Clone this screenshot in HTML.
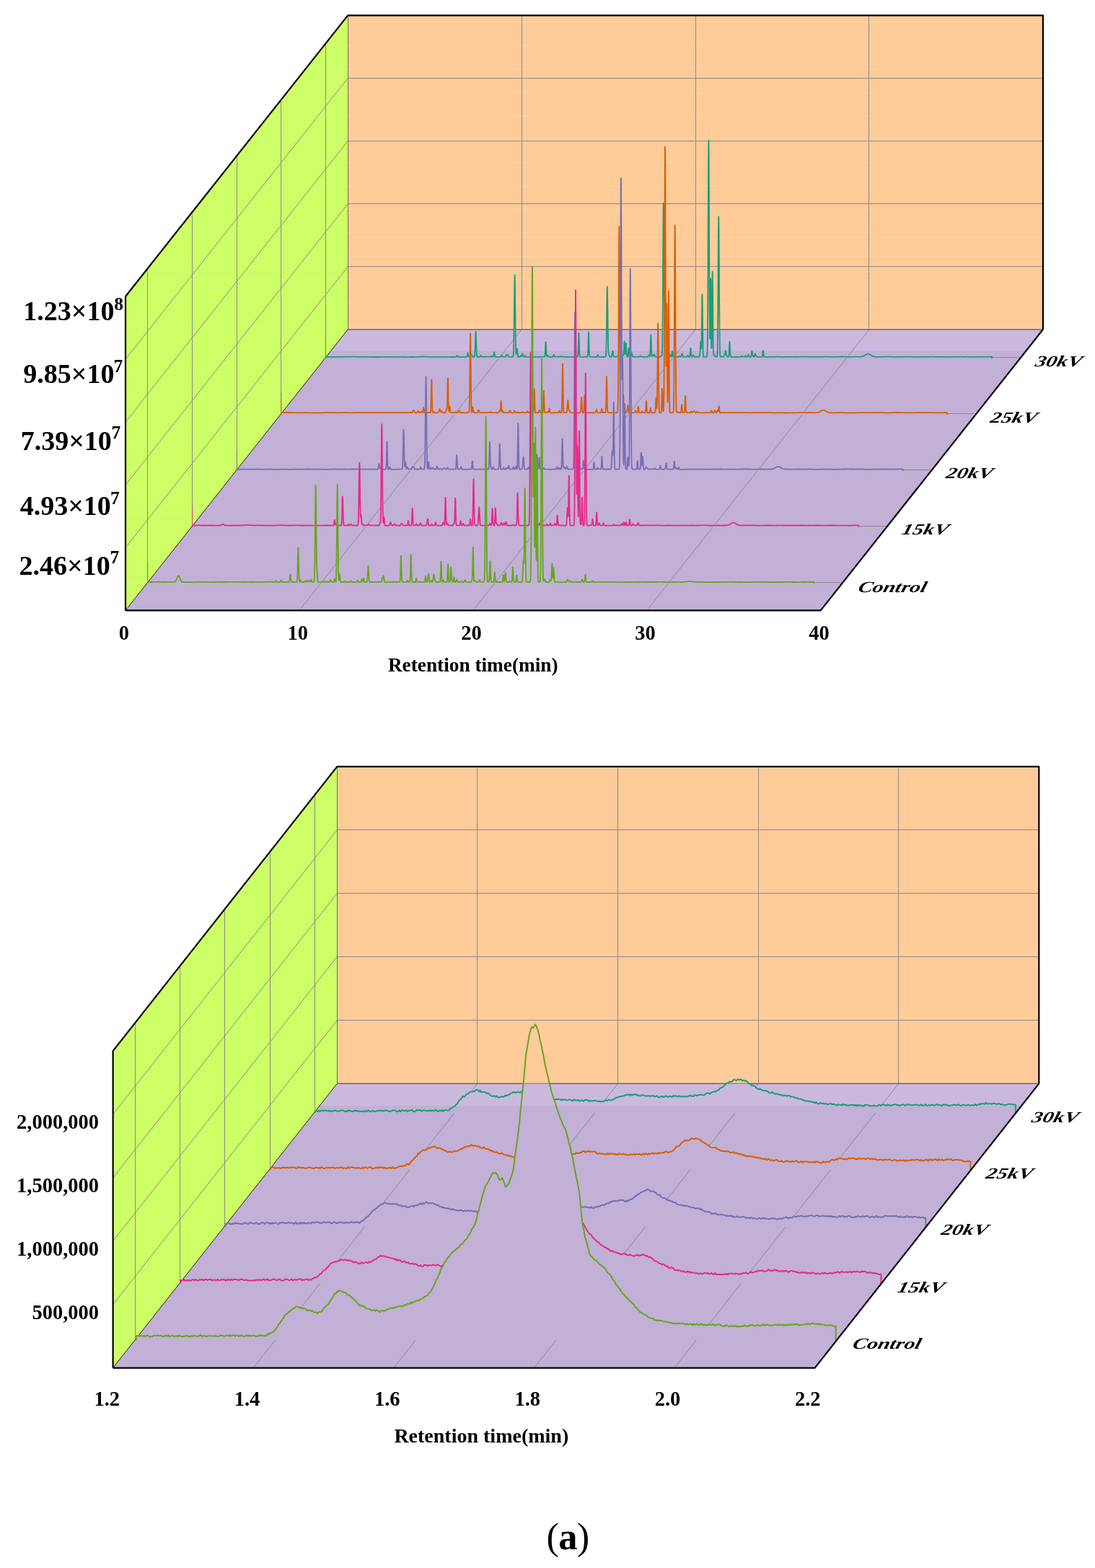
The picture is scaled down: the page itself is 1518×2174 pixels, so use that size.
<!DOCTYPE html><html><head><meta charset="utf-8"><title>Chromatogram</title><style>html,body{margin:0;padding:0;background:#fff}svg{display:block}</style></head><body>
<svg width="1518" height="2174" viewBox="0 0 1518 2174">
<rect width="1518" height="2174" fill="#fff"/>
<defs><linearGradient id="ga" gradientUnits="userSpaceOnUse" x1="0" y1="456.80" x2="0" y2="846.40"><stop offset="0" stop-color="#CBB9DD"/><stop offset="0.0783" stop-color="#CBB9DD"/><stop offset="0.0783" stop-color="#C2B0D6"/><stop offset="1" stop-color="#C2B0D6"/></linearGradient><clipPath id="gac"><rect x="0" y="456.80" width="1518" height="394.60"/></clipPath></defs>
<polygon points="482.20,456.80 1445.90,456.80 1445.90,21.40 482.20,21.40" fill="#FECB99"/>
<line x1="482.2" y1="31.1" x2="1445.9" y2="31.1" stroke="#FFD89E" stroke-width="1"/><line x1="482.2" y1="63.5" x2="1445.9" y2="63.5" stroke="#FFD89E" stroke-width="1"/><line x1="482.2" y1="95.9" x2="1445.9" y2="95.9" stroke="#FFD89E" stroke-width="1"/><line x1="482.2" y1="128.3" x2="1445.9" y2="128.3" stroke="#FFD89E" stroke-width="1"/><line x1="482.2" y1="160.7" x2="1445.9" y2="160.7" stroke="#FFD89E" stroke-width="1"/><line x1="482.2" y1="193.1" x2="1445.9" y2="193.1" stroke="#FFD89E" stroke-width="1"/><line x1="482.2" y1="225.5" x2="1445.9" y2="225.5" stroke="#FFD89E" stroke-width="1"/><line x1="482.2" y1="257.9" x2="1445.9" y2="257.9" stroke="#FFD89E" stroke-width="1"/><line x1="482.2" y1="290.3" x2="1445.9" y2="290.3" stroke="#FFD89E" stroke-width="1"/><line x1="482.2" y1="322.7" x2="1445.9" y2="322.7" stroke="#FFD89E" stroke-width="1"/><line x1="482.2" y1="355.1" x2="1445.9" y2="355.1" stroke="#FFD89E" stroke-width="1"/><line x1="482.2" y1="387.5" x2="1445.9" y2="387.5" stroke="#FFD89E" stroke-width="1"/><line x1="482.2" y1="419.9" x2="1445.9" y2="419.9" stroke="#FFD89E" stroke-width="1"/><line x1="482.2" y1="452.3" x2="1445.9" y2="452.3" stroke="#FFD89E" stroke-width="1"/>
<polygon points="174.00,846.40 482.20,456.80 482.20,21.40 174.00,411.00" fill="#CCFE66"/>
<line x1="474.5" y1="31.1" x2="482.2" y2="31.1" stroke="#D8FF80" stroke-width="1" stroke-opacity="0.6"/><line x1="448.9" y1="63.5" x2="482.2" y2="63.5" stroke="#D8FF80" stroke-width="1" stroke-opacity="0.6"/><line x1="423.3" y1="95.9" x2="482.2" y2="95.9" stroke="#D8FF80" stroke-width="1" stroke-opacity="0.6"/><line x1="397.6" y1="128.3" x2="482.2" y2="128.3" stroke="#D8FF80" stroke-width="1" stroke-opacity="0.6"/><line x1="372.0" y1="160.7" x2="482.2" y2="160.7" stroke="#D8FF80" stroke-width="1" stroke-opacity="0.6"/><line x1="346.4" y1="193.1" x2="482.2" y2="193.1" stroke="#D8FF80" stroke-width="1" stroke-opacity="0.6"/><line x1="320.7" y1="225.5" x2="482.2" y2="225.5" stroke="#D8FF80" stroke-width="1" stroke-opacity="0.6"/><line x1="295.1" y1="257.9" x2="482.2" y2="257.9" stroke="#D8FF80" stroke-width="1" stroke-opacity="0.6"/><line x1="269.5" y1="290.3" x2="482.2" y2="290.3" stroke="#D8FF80" stroke-width="1" stroke-opacity="0.6"/><line x1="243.9" y1="322.7" x2="482.2" y2="322.7" stroke="#D8FF80" stroke-width="1" stroke-opacity="0.6"/><line x1="218.2" y1="355.1" x2="482.2" y2="355.1" stroke="#D8FF80" stroke-width="1" stroke-opacity="0.6"/><line x1="192.6" y1="387.5" x2="482.2" y2="387.5" stroke="#D8FF80" stroke-width="1" stroke-opacity="0.6"/><line x1="174.0" y1="419.9" x2="482.2" y2="419.9" stroke="#D8FF80" stroke-width="1" stroke-opacity="0.6"/><line x1="174.0" y1="452.3" x2="482.2" y2="452.3" stroke="#D8FF80" stroke-width="1" stroke-opacity="0.6"/><line x1="174.0" y1="484.7" x2="460.1" y2="484.7" stroke="#D8FF80" stroke-width="1" stroke-opacity="0.6"/><line x1="174.0" y1="517.1" x2="434.5" y2="517.1" stroke="#D8FF80" stroke-width="1" stroke-opacity="0.6"/><line x1="174.0" y1="549.5" x2="408.9" y2="549.5" stroke="#D8FF80" stroke-width="1" stroke-opacity="0.6"/><line x1="174.0" y1="581.9" x2="383.2" y2="581.9" stroke="#D8FF80" stroke-width="1" stroke-opacity="0.6"/><line x1="174.0" y1="614.3" x2="357.6" y2="614.3" stroke="#D8FF80" stroke-width="1" stroke-opacity="0.6"/><line x1="174.0" y1="646.7" x2="332.0" y2="646.7" stroke="#D8FF80" stroke-width="1" stroke-opacity="0.6"/><line x1="174.0" y1="679.1" x2="306.3" y2="679.1" stroke="#D8FF80" stroke-width="1" stroke-opacity="0.6"/><line x1="174.0" y1="711.5" x2="280.7" y2="711.5" stroke="#D8FF80" stroke-width="1" stroke-opacity="0.6"/><line x1="174.0" y1="743.9" x2="255.1" y2="743.9" stroke="#D8FF80" stroke-width="1" stroke-opacity="0.6"/><line x1="174.0" y1="776.3" x2="229.5" y2="776.3" stroke="#D8FF80" stroke-width="1" stroke-opacity="0.6"/><line x1="174.0" y1="808.7" x2="203.8" y2="808.7" stroke="#D8FF80" stroke-width="1" stroke-opacity="0.6"/><line x1="174.0" y1="841.1" x2="178.2" y2="841.1" stroke="#D8FF80" stroke-width="1" stroke-opacity="0.6"/>
<polygon points="174.00,846.40 1137.70,846.40 1445.90,456.80 482.20,456.80" fill="url(#ga)"/>
<line x1="458.5" y1="486.8" x2="1422.2" y2="486.8" stroke="#C8ABE6" stroke-width="1"/>
<g><line x1="482.20" y1="369.50" x2="1445.90" y2="369.50" stroke="#8C8C8C" stroke-width="1"/><line x1="174.00" y1="759.32" x2="482.20" y2="369.72" stroke="#8C8C8C" stroke-width="1"/><line x1="482.20" y1="282.50" x2="1445.90" y2="282.50" stroke="#8C8C8C" stroke-width="1"/><line x1="174.00" y1="672.24" x2="482.20" y2="282.64" stroke="#8C8C8C" stroke-width="1"/><line x1="482.20" y1="195.50" x2="1445.90" y2="195.50" stroke="#8C8C8C" stroke-width="1"/><line x1="174.00" y1="585.16" x2="482.20" y2="195.56" stroke="#8C8C8C" stroke-width="1"/><line x1="482.20" y1="108.50" x2="1445.90" y2="108.50" stroke="#8C8C8C" stroke-width="1"/><line x1="174.00" y1="498.08" x2="482.20" y2="108.48" stroke="#8C8C8C" stroke-width="1"/><line x1="723.50" y1="456.80" x2="723.50" y2="21.40" stroke="#8C8C8C" stroke-width="1"/><line x1="414.93" y1="846.40" x2="723.12" y2="456.80" stroke="#8C8C8C" stroke-width="1"/><line x1="964.50" y1="456.80" x2="964.50" y2="21.40" stroke="#8C8C8C" stroke-width="1"/><line x1="655.85" y1="846.40" x2="964.05" y2="456.80" stroke="#8C8C8C" stroke-width="1"/><line x1="1204.50" y1="456.80" x2="1204.50" y2="21.40" stroke="#8C8C8C" stroke-width="1"/><line x1="896.78" y1="846.40" x2="1204.98" y2="456.80" stroke="#8C8C8C" stroke-width="1"/><line x1="204.50" y1="807.44" x2="204.50" y2="372.04" stroke="#8C8C8C" stroke-width="1"/><line x1="204.82" y1="807.50" x2="1168.52" y2="807.50" stroke="#8C8C8C" stroke-width="1"/><line x1="266.50" y1="729.52" x2="266.50" y2="294.12" stroke="#8C8C8C" stroke-width="1"/><line x1="266.46" y1="729.50" x2="1230.16" y2="729.50" stroke="#8C8C8C" stroke-width="1"/><line x1="328.50" y1="651.60" x2="328.50" y2="216.20" stroke="#8C8C8C" stroke-width="1"/><line x1="328.10" y1="651.50" x2="1291.80" y2="651.50" stroke="#8C8C8C" stroke-width="1"/><line x1="389.50" y1="573.68" x2="389.50" y2="138.28" stroke="#8C8C8C" stroke-width="1"/><line x1="389.74" y1="573.50" x2="1353.44" y2="573.50" stroke="#8C8C8C" stroke-width="1"/><line x1="451.50" y1="495.76" x2="451.50" y2="60.36" stroke="#8C8C8C" stroke-width="1"/><line x1="451.38" y1="495.50" x2="1415.08" y2="495.50" stroke="#8C8C8C" stroke-width="1"/></g>
<line x1="482.20" y1="456.80" x2="1445.90" y2="456.80" stroke="#6a5060" stroke-width="1.2"/>
<line x1="174.00" y1="846.40" x2="482.20" y2="456.80" stroke="#202020" stroke-width="1.0"/>
<line x1="482.50" y1="456.80" x2="482.50" y2="21.40" stroke="#707060" stroke-width="1"/>
<defs><path id="tr1" d="M451.5 497l0-2.1 1.5 0 1.5-.1 1.5 0 1.5 .1 1.5 0 1.5-.1 1.5 0 1.5 0 1.5 .1 1.5 0 1.5-.1 1.5 0 1.5 0 1.5 .1 1.5 0 1.5-.1 1.5 0 1.5-.1 1.5 0 1.5 0 1.5-.1 1.5 0 1.5 0 1.5 0 1.5 .1 1.5 0 1.5 0 1.5 0 1.5 0 1.5 .1 1.5 0 1.5 0 1.5 .1 1.5 0 1.5 0 1.5 0 1.5 0 1.5 0 1.5 0 1.5 0 1.5 0 1.5 0 1.5 .1 1.5 0 1.5 0 1.5 .1 1.5-.1 1.5 0 1.5 0 1.5 0 1.5-.1 1.5 0 1.5 0 1.5 0 1.5-.1 1.5 0 1.5 0 1.5 0 1.5 .1 1.5 .1 1.5-.1 1.5 0 1.5 0 1.5 0 1.5 0 1.5-.1 1.5-.1 1.5 .1 1.5 .1 1.5 0 1.5 0 1.5 .1 1.5 0 1.5 .1 1.5 0 1.5 .1 1.5-.1 1.5-.1 1.5 0 1.5 0 1.5 0 1.5-.1 1.5 0 1.5-.1 1.5 0 1.5 0 1.5-.1 1.5-.1 1.5-.1 1.5 0 1.5 .1 1.5 0 1.5 0 1.5 .1 1.5 .1 1.5 0 1.5 .1 1.5-.1 1.5 0 1.5 0 1.5-.1 1.5 .1 1.5 0 1.5 0 1.5 0 1.5 0 1.5 0 1.5 .1 1.5-.1 1.5 0 1.5-.1 1.5 .1 1.5 0 1.5 0 1.5 .1 1.5 .1 1.5-.1 1.5 .1 1.5 0 1-.1 .2 0 .3 0 0-.1 .2 0 .2-.1 .3 0 .2 0 .3-.2 .2-.2 .1-.1 .1-.2 .3-.4 .2-.4 .3-.2 .2 0 .2 .3 .2 .4 .1 .1 .2 .5 .3 .3 .2 .2 .2 0 .3 .1 .2-.1 0 0 .3-.1 .2 .1 .2-.1 .8 .1 1.5-.1 1.5 .1 1.5 .1 1.5 0 1.5 0 1 .1 .1-.1 .3 .1 .1 0 .1-.1 .2-.1 .2-.1 .2-.1 .2-.3 .2-.7 .2-1 .2-1.3 0 .1 .2-1.2 .2-.9 .1-.1 .1 .2 .2 .8 .2 1.3 .2 1.1 .2 1 .1 .4 .1 .2 0 .1 .2 .3 0 0 .2 .1 0 0 .2 0 .1-.1 .1-.1 .1 .1 .1 .1 .2-.1 0 0 .1 0 .1 0 0 .1 .1-.1 .1-.3 .1 0 .2-.3 0-.1 .2-.5 .1-.2 .2-.6 0-.1 .2-.6 .1-.2 .2-.3 0-.1 .2-.1 0 0 .2 .2 .1 0 .2 .2 0 0 .2 .2 .1 0 .1 .1 .1 0 .2 .1 0 .1 .1 .1 .1 .2 .1 .1 .2 .5 0 .3 .2 .5 .1 .1 .2 .4 0 .1 .2 .2 0 0 .2 .1 .1 0 .1 0 .1-.1 .3 .1 .2 .1 .2 .1 .3-.1 0 .1 .3 .1 .1 0 .1-.1 .2-.1 .3-.1 .2-.3 .2-.8 .3-2 .2-3.2 0-.6 .3-6.3 .2-7.8 .2-8.1 .3-5.1 .1-.7 .1 .7 .3 5.2 0 1.3 .2 6.8 .2 7.7 .3 6.4 .2 3.7 .2 2 .3 .8 .1 .1 .1 .2 .3 .1 .2-.1 .2 .1 .7-.1 .8 .1 .2-.1 .2 .1 .3-.1 0 .1 .2 0 .3 0 .2-.1 .3-.1 .2-.2 .2-.3 .1-.1 .2-.3 .2-.5 .2-.3 .3 .1 .2 .3 .3 .4 .1 .2 .1 .2 .3 .3 .2 .2 .2 0 .3 0 .2 0 .2 0 0 0 .3 0 .2 .1 1 .1 1.5-.1 1.5 0 1.5 0 1.5 0 1.5 0 .7 0 .2 0 .2 0 .3 .1 .1 0 .1 0 .3 .1 .2 0 .3-.1 .2-.1 .2-.3 .2-.1 .1-.2 .2-.3 .2-.3 .3 .1 .2 .2 .3 .3 .2 .3 0 0 0-.1 .3 .2 .2 0 0 .1 .2 .1 0 0 .2 0 .1 0 .1 0 .1-.1 .1 0 .2-.3 0-.1 0 0 .2-.7 0 0 .2-1.2 0-.2 .2-1.3 .2-1.6 .2-.9 .1-.2 .1 .2 .2 1 .1 .6 .1 .9 .2 1.5 .2 1.1 .2 .7 .2 .3 .2 .2 .2 0 .2 .1 0 .1 .2 0 .3-.1 1 .1 1.5 0 1.5 .1 1.1-.1 .2-.1 .2 .1 .1 0 .2-.1 .2 0 .3 0 .2-.1 .3 0 .2-.3 0 0 .3-.4 .2-.5 .2-.5 .3-.2 .2 0 .3 .4 0 0 .2 .4 .2 .5 .3 .4 .2 .2 .2 .1 .3 0 .1 .1 .1 .1 .3-.1 .2 0 .3 0 .6 0 .4-.1 .2 0 .3 0 .2 0 .3 .1 .1-.1 .1 0 .2 0 .2-.1 .1-.1 .1-.1 .1-.2 .2-.3 .1-.3 .1-.5 .1-.2 .1-.4 .1-.2 0-.2 .2-.2 .1-.1 .1-.1 .1 0 .1 .1 .2 0 .1 .3 .1 .1 .1 0 .1 .1 .2 0 .1-.1 0 0 .1-.1 .1-.1 .2-.1 .1 .1 .1 0 .1 .2 .1 .3 .1 .2 .2 .3 .1 .3 .1 .3 .1 .3 .1 .2 0 .1 .2 .2 .1 .1 .2 .2 .3 .2 .2 0 .2-.1 .3 0 0 .1 .2 0 1.3-.1 1.5 0 .7 0 .3 .1 .2 0 .3-.1 0 0 .3-.2 .2-.5 .1-.4 .1-1.2 .1-1.4 .2-2.3 .1-3.7 .1-3.8 .2-9.1 0-3.8 .1-4.2 .1-12 .1-2.6 .2-23.3 .3-23.2 0-2.6 .1-5.5 .1-8.7 .1-2.6 0-1.2 .1-1.4 0 .2 .1 2 .2 6.6 .1 7 0 1.6 0 .9 .1 9.7 .1 9.5 0 3 .1 3 .1 8 .1 8.7 0 1 0 8.2 .1 4.3 .1 4.8 0 3 .1 8 0 1.1 .1 1.1 0 4.1 .2 5.3 0 .4 0 .7 .1 2.3 .1 2.1 0 .9 .1 .7 0 .6 .1 .4 0 .1 .1 .3 0 .1 .1 0 0 0 .1-.5 .1-.4 0-.2 0-.1 .1-1.1 .1-.5 0-.4 .1-.3 .1-1.1 0-.1 .1-.9 .1-.7 0-.2 0-.3 .1-.6 .1-.2 0 .1 .1 0 0 .1 .1 .4 0 .3 .1 .8 .1 1.1 0 .2 .1 1.6 .1 .7 0 .4 .2 2.1 .1 .6 .1 1.3 .1 .6 .1 .4 .2 .5 0 0 .1 .1 .1 .1 0 0 .1 0 .1 .1 0 0 0 .1 .2 0 0 0 .1 .1 .1-.1 0 0 .1 0 .1 0 .1 .1 .2-.1 .2-.1 .3 0 .1-.1 .1 0 .3-.3 .1-.2 .1-.1 .2-.1 0 0 .2-.1 .1-.1 .1 0 .1 0 0 0 .2 .1 0 0 0 0 .1 0 .1 .3 .1 0 0 .1 .2 .2 0-.1 0 0 .2 .1 0 0 .1 0 .1-.1 .1 0 0 0 .2-.3 0 0 .1-.2 .1-.4 .1-.1 0-.1 .2-.6 0-.1 0-.2 .2-.6 0 0 .1-.2 .1-.5 .1 0 0-.1 .2-.2 0-.1 .1 0 .1-.1 0 0 .3 .3 0 0 .1 .4 .1 .4 0 0 .2 .9 .1 .2 0 .2 .2 .5 0 0 .1 .2 .1 .4 .1 0 0 0 .2 .3 0 0 0 .2 .2 .1 0 0 .1 0 .1 .1 0 0 .1 .1 0 0 .2 0 0-.1 .1 .1 .1-.1 .1-.1 .2-.1 0 0 .2-.3 .1 .1 .2-.4 .2-.3 .1-.1 .2-.3 .2 0 .3 .3 .2 .3 .3 .3 .2 .3 .2 .3 .3 .1 .2 0 .3 .1 .2 0 .2 0 .1 0 .2-.1 1.3 0 1.5 0 1.5-.1 1.5 0 1.5 .1 1.5 0 1.5 0 1.5 .1 1.5-.1 1.5 0 1.5 0 1.5-.1 1.5 .1 1.5-.1 1.5 0 1 0 .2 0 .3 0 0 0 .2 0 .2-.1 .2-.1 .2-.4 .2-1.2 .2-2.1 .2-3.9 .1-2.5 0-.9 .1-1.2 .2-4.4 0-.2 .2-3.1 0-.1 .1-.3 .1 .4 .1 .6 .1 2.5 .1 2 .1 2.7 .1 3 .1 1.6 .2 3.1 0 .3 0 .3 .2 2 .2 .9 .1 .2 .1 .1 .1-.1 .1-.2 .1-.2 .1-.2 .2-.3 0-.1 .2-.3 .1 0 0 0 .2 .1 .2 .3 .2 .6 .3 .5 .2 .4 .3 .3 .1 0 .1 0 .2 .1 .3 0 .2 0 .3 0 .2 0 .2 0 1.5 .1 1.1 0 .3 0 .1-.1 .1 .1 .3 0 .2 0 .2 0 .3-.1 .2-.2 .2-.2 .1-.1 .2-.5 .2-.6 .3-.7 .2-.4 .3 0 .2 .3 .2 .7 .3 .6 .2 .5 .3 .3 .2 .1 .2 .1 .1 .1 .2 0 .2-.1 .3 0 .2 0 .6 0 1.5 0 1.5 0 1.4 0 .1 0 .1 0 .2 0 .3 0 .2 0 .2 0 .3 .1 .2-.1 0 .1 .3-.1 .2-.2 .3-.2 .2-.2 .2-.1 .3 0 0 0 .2 0 .3 .2 .2 .3 .2 .1 .3 .1 .2 .1 .1 0 .1 0 .3 0 .2 0 .3 0 .2 0 .4-.1 1.5 .1 1.5 .1 1.5-.1 1.5 0 1.5 .1 1.5-.1 1.5 0 1.5 0 1.5 0 1.5 0 1.5-.1 1.5-.1 .4 .1 .1 0 .3-.1 .2 0 .2-.1 .2-.3 .1-.3 .1-.4 .2-1.8 .2-3.6 .2-6 .2-7.6 .2-7.4 .2-5 .1-.6 .1 .7 .2 5 .2 7.5 .2 7.5 .2 6.1 .2 3.5 .2 1.9 .2 .7 .1 .2 .1 .1 .2 .2 .2-.1 .3 .1 .7 0 1.5-.1 1.5 0 1.5-.1 1.5 0 1.5 .1 .5-.1 .1 .1 .3 0 .2-.1 .2-.1 .2-.2 0 0 .2-.8 .2-1.9 .2-3.7 .2-6.2 .2-7.7 .2-7.8 .2-5.1 .1-.7 .1 .7 .2 5.1 .2 7.8 .2 7.7 .2 6.3 .2 3.7 .2 1.9 .2 .6 0 .1 .2 .3 .2 .1 .2 0 .3 .1 .6 0 1.5 0 1.5-.1 1.5 0 1.5 .1 .7 0 .2 0 .3 0 .2 0 .1 0 .2 .1 .2 0 .2-.1 .3-.2 .2-.3 .3-.5 .1-.4 .1-.4 .2-.5 .3-.5 .2 0 .3 .4 .2 .6 .2 .6 0 .1 .3 .4 .2 .4 .3 .2 .2 0 .2 .1 .3 0 0 0 .2 0 .3 0 1 0 1.5 .1 1.5-.1 1.5-.1 1.4 .1 .1 0 .2-.1 .2 0 .3-.1 .3-.2 .3-.8 .2-1.9 0-.3 .3-5.3 .3-10.9 .3-17.3 .2-22.3 .2-12.9 .1-9.4 .1-7.1 0-.6 .2-6.3 .1-1.8 0-.3 .1 2.1 .1 1.8 .2 12.5 0 1.4 .3 19.8 0 .9 .2 19.3 .1 3 .2 13.2 0 2.8 0 1.1 .2 7.2 .1 3.2 .1 2.7 .2 1.9 .1 .7 .1 .7 .1 0 .2 0 0 .1 .3 .2 0 0 .1 .2 .1 .3 .1 .1 .2 .6 0 .2 .2 .5 .3 .5 .2 .3 .2 .1 .2 .2 .1 0 .2 0 0 .1 .2 0 0 0 .3 0 0-.1 .2-.1 .1 0 .3-.1 .1-.1 .1-.2 .3-.4 .3-1 .3-1.3 .2-1.9 .3-1.9 0-.1 .3-1 .1-.2 .1 .2 .3 1.2 .3 1.8 .3 1.9 .1 .9 .1 .4 .3 1 .3 .5 .2 .2 .3 .1 .3-.1 0 0 .3 0 .2 0 1 .1 1-.1 .2-.1 .3 0 0 .1 .2 0 .2 0 .3-.1 .2 0 .2-.1 .3-.2 .1-.2 .1-.3 .3-.4 .2-.5 .3-.2 .2 0 .2 .3 .2 .4 .1 .1 .2 .5 .2 .4 .3 .2 .2 .1 .3 0 .2 .1 0 0 .1 0 .2-.1 .1 .1 .1 0 .1 0 .1 0 .1 0 .3 0 .2 0 .1-.1 .1 0 .1 0 0-.1 .2-.1 .1-.2 .1-.1 .1-.1 .2-.4 .1-.1 .1-.4 .1-.3 .2-.4 0-.1 .2-.3 .1-.1 .1-.1 .1 0 .2 .1 0 0 .1 0 .1 .2 0 0 .1 .1 .2 .2 0 0 .2 .1 0 0 .1-.1 .1 .1 0 0 .1-.1 0 0 .1 .1 .1 0 .1-.1 0 0 .1-.5 .1-.3 0-.2 .2-1.4 0-.3 0-.9 .2-2.8 0-.2 .1-1.8 .1-2.6 0-1.3 .1-1.9 0-.8 .1-.8 .1-1.7 .1-.9 0-.1 0-.4 .1-.4 .1 .2 0 .3 .2 2.2 0 1 0 .7 .2 3.1 0 1.1 .1 1.7 .1 2 0 .9 .1 2 .1 .7 0 .6 .2 1.1 0 .1 0 .1 .2-.8 0-.4 .1-.9 .1-1.4 0-.7 .2-3.4 0-.9 .2-3.1 0-1 .2-1.9 0-.2 .1-.2 .1 .3 .1 .5 .1 2.3 .2 4.3 0 .6 .2 3.4 0 .2 .1 1.3 .1 2.2 .1 1.2 .1 .8 .1 .7 .1 .1 0 .2 .1 .3 .1 0 0-.1 .2 .2 0 0 0 .1 .2 .1 0 0 .1 0 .1 0 0-.2 .1-.1 0 0 .1-.1 0-.2 .2-.2 0 0 .2-1 0-.2 .2-1.4 0-.6 .2-1.7 .1-1.2 .1-1.4 .1-1.6 .1-.7 .2-1.3 0-.1 .1-.1 .1 .3 .2 2.1 0 .4 .2 2.3 .1 1 0 .8 .1 .8 .1 1.2 .1 .5 0 .4 .2 .8 0 .3 .2 .5 0 .1 0 0 .1 0 0 .1 .1 .2 0 0 0 .1 .1 0 .1 .1 .1 .1 0 0 0 0 .1-.1 .1 0 0-.1 .1 .1 0-.1 .1-.1 .1-.1 0 .1 .1 0 .1-.2 0-.1 .1-.1 .1-.4 .1-.2 .1-.5 .1-.3 0-.4 .2-.8 .1-.5 .1-.8 .1-.3 .2-.4 .1-.3 .1-.1 .1 .1 .2 .2 0 .3 .2 .5 .1 .4 .1 .9 .1 .3 .2 .8 .1 .4 .1 .6 .1 .3 .2 .4 0 .1 .2 .2 .1 .1 .1 0 .1 0 0 0 .2 .1 .1-.1 .1 0 .1 .1 .2 0 .2-.1 .2 0 .4 0 1.5 .1 1.5 0 1.5 0 1.4 .1 .1 0 .1-.1 .3 0 .2 0 .2-.1 .3 0 .2 0 .2 0 .1 0 .2-.1 .2-.3 .3-.3 .2-.3 .3-.2 .2 0 .2 .1 .3 .4 .2 .3 .3 .3 .2 .1 .2 .1 .1 .1 .2 0 .2-.1 .3 0 .2 0 .2 0 .4 0 1.5 0 1.5 0 1.5 .1 1 0 .2 0 .3-.1 0 .1 .2 0 .3-.1 .2 0 .2 0 .3-.1 .2-.3 .1-.2 .2-.4 .2-.6 .2-.6 .3-.4 .2 0 .2 .1 .1 .2 .1 .2 0 .1 .1 .3 .1 .1 .1 .4 .1 0 .2 .4 0 0 .2 0 0 0 .2-.4 .1-.5 .1-1 .1-1.6 .1-1.4 .1-2.9 0-1.1 .1-1.5 .2-6.6 0-.4 0-1.1 .2-5.7 0-.9 .1-1.1 .1-2.5 .1-.5 0-.1 .1 .6 .1 2.6 .1 1.9 .2 5.7 0 1 .2 6.6 0 .3 0 .4 .2 5.1 .1 .8 .1 2.4 .1 .7 .1 .8 .1 .3 .1 .1 .2-.2 0-.1 .1-.1 .1-.3 0 0 .1-.3 .1-.3 .1 0 0-.1 .1 0 0-.1 .1-.2 .1 0 .1 .1 .1 .1 .2 .2 .1 .1 .1 .3 .1 .2 .2 .3 .1 0 .1 .1 .1-.1 .1-.1 .1-.2 .2-.4 .1-.4 .1-.3 .1-.3 .2-.3 .1-.2 .1 0 .1 .1 .1 .3 .1 .2 .1 .1 .1 .3 .1 .3 .2 .8 .3 .5 .2 .4 .2 .2 .3 .1 .1 .1 .1 0 .3 0 .2 .1 .2-.1 .7 .1 1.5 0 1.5 0 .4 0 .2-.1 .2 0 .3 0 .2-.1 .2 .1 .1 0 .1-.1 .1 0 .1 0 .1 0 .1 0 .2-.2 .1 0 .1-.2 .1-.1 .2-.1 .1-.2 0 0 .1-.1 .1-.1 .1 0 0-.1 .1-.1 .1-.1 .1 .1 .1-.1 .1-.1 .1-.1 .2-.4 0-.1 .1-.3 .1-.9 .1-.7 0-.5 .1-2.3 .1-1.3 0-.9 0-.2 .2-5 .1-5 0-1.1 .1-8.2 .1-9 .1-6.2 .1-9.6 .1-13.8 0-2.9 .1-11.1 0-8.4 .1-17.7 0-3.7 .1-18.7 0-3.7 .1-18.7 .1-3.6 .1-20.5 0-1.5 .1-13.1 0-2.6 .1-12.5 .1-2.8 0-3 0-.7 .1-.8 .1 4.4 .1 1.4 0 1.5 .2 26.5 0 1.6 0 1.6 .2 39.1 .1 3.8 0 3.8 .2 36.8 0 3.5 .1 8.4 .1 25 0 2.7 .1 7.2 0 2.3 .2 15.1 .1 8.2 .1 6 .2 5.1 .1 2 .1 2.7 .1 .7 .2 1.3 0 .1 .3 .8 .1 .3 .1 .2 .1 0 .1 .1 .1 .3 0 .1 .1 .1 .1 .1 .1 0 .1 .1 .1 0 .2 .1 0 0 .2-.1 0-.1 .2-.2 0 0 .1-.2 .1-.6 .1-1 .1-.8 .1-2 .1-.7 .2-3.5 .2-3.4 .2-2.4 .1-.3 .1 .3 .1 .8 .1 1.5 .2 3.5 .1 2.2 .1 1.4 .2 2.3 0 .6 .2 1.5 0 0 .2 .8 0 0 .2 .2 .1 .1 .1 0 0 0 .1 0 .1 .1 .2 0 0 0 .2-.1 0-.1 .3-.3 .2-.6 .2-.7 .2-.6 .1-.2 .2-.5 .2 .1 .3 .5 .2 .5 0 .3 .1 .3 .2 .3 .1 .2 .1 .3 0 0 .1 .1 .1 .2 .1 .1 .2 .2 0 .1 .2-.1 0-.1 .2-.3 .1-.4 .1-.6 .1-.8 .1-.6 .2-1.5 0-.5 0 0 .2-1.6 .2-1.2 .1-.1 .1 0 .2 1.3 .2 1.8 .2 1.8 .2 1.4 .1 .4 .1 .4 .2 .6 .2 .1 .2 0 .2 0 .2 .1 .3 0 .1 0 1.5-.1 1.5 0 1.5 0 .2 0 .3 0 .2-.1 .2 .1 .3-.1 .2 .1 .1 0 .2 0 .2-.1 .2-.2 .3-.2 .2-.3 .3-.3 .1 0 .1-.1 .2 0 0 0 .2 .1 .1 .2 .2 .2 0 0 .2 .2 0 0 .1 .1 .1 .1 .1 0 0 0 .2 0 0-.1 0 0 0 0 .2 .1 .1 .1 0-.1 .2-.1 0 .1 0 .1 .2-.3 0 .1 .1-.2 .1-.3 .1 0 0-.1 .2-.6 0 0 0-.2 .2-.6 .1-.2 0-.2 0 0 .1-.6 .1-.2 .2-.6 0 0 .2-.3 .1 0 .2 .1 0 .1 .2 .5 0 .2 .3 .7 0 .3 .1 .4 .1 .4 0 .1 .2 .8 .1 .1 .2 .3 0 0 .2 .2 .1 .1 .1 0 .1 0 .2 0 0 .1 .2 0 0 0 .1 0 .2 .1 .2-.1 .3 0 .7 0 1.1 .1 .2 0 .2 0 0 0 .3 0 .2 0 .3-.1 .2 0 .2-.1 .3-.2 0 0 .2-.3 .3-.5 .2-.5 .2-.3 .3 .1 .2 .3 .1 .1 .2 .3 .2 .5 .2 .4 .3 .2 0 0 .1 .1 .1 .1 .2 0 .1 0 .1 0 0 0 .1 0 .1 0 .1-.1 .1-.1 .2-.2 0-.1 .2-.6 0-.3 .2-1.2 .2-2.2 .2-2.8 .1-1.6 .1-1.1 .2-1.9 .1-.2 .1 .2 .2 1.9 .2 2.8 .1 .6 .1 2.2 .1 1 .1 1.2 .1 .8 .1 .4 0 .1 .2 .5 0 0 .2 .3 0 0 .2 .1 0 0 .2 0 .1 .1 .1 0 .1-.1 .2-.1 .1-.1 .1-.2 .1-.3 .3-.5 .2-.6 .2-.3 .3 0 .2 .2 .2 .4 0 .1 .3 .5 .2 .5 .3 .3 .2 .1 .3 .1 .2 .1 0 0 .2-.1 .3 0 .2 0 .8 .1 1.5 0 1.5-.1 .1 0 .3 .1 .2 0 .3 0 .2-.1 .2 0 0 0 .2 0 0 0 .1 0 .1-.1 .1-.1 .1 0 .1-.2 .1 0 0 0 .1-.4 .1-.2 0-.1 .2-.8 0 .1 0-.5 .2-1.3 0-.2 .1-.9 .1-1.3 0-.8 .1-1.1 0-.3 .1-1.3 .1-1.9 .1-1.6 0-.8 .1-2.7 .1-.6 0-.7 0-.1 .1-2.2 .1 0 0-.3 0-.3 .1-.1 .1 0 0 .1 .1 .7 .1 .9 0 .8 0 .4 .1 1.3 .1 .9 0 .8 .1 1.1 .1 1.3 0 .1 0 .4 0 .2 .1 .9 .1 0 0 0 0-.1 .2-1.6 0-.5 0-1 0-.6 .2-6 0-1.1 0-1.9 .1-3.3 .1-8.6 0-3.5 0-.9 .1-7.5 .1-6.8 0-4 .1-4.8 .1-7.4 0-2.5 0-4 .1-5 .1-3.4 0-.9 .1-.4 .1 .7 0 1.2 0 1.5 0 .4 .2 10.2 0 .8 .1 6.4 .1 13.1 0 3.1 .1 8.1 .1 8.5 .1 5.9 .1 6 0 3.9 .1 5.2 .1 3.2 0 .7 .2 3.7 0 1.3 .2 1.8 0 .2 .2 .7 0 .1 .2 .1 .2 .1 .3 0 .6 0 1.5 0 1 0 .3-.1 .2 0 0 0 .3-.2 .3-.8 .3-2.3 .1-3 .1-3.8 .2-5.6 .1-10.6 .1-8.7 0-1 .2-24 0-8.3 .3-44.7 0-4.7 .2-61.5 0-2.7 .3-59.1 0-9.1 .2-36 .1-7.8 .1-6.4 0 .2 .1 2.9 0 3 .1 13.1 .1 3.1 .1 26.9 .1 9 0 14.5 .2 38.7 0 5.3 0 18.6 .2 28.2 .1 21.6 0 8.9 .1 16.7 .1 26.4 0 1.5 .1 5.7 .2 21.3 0 2.2 .1 5.1 .1 1.9 0 .3 .1-.2 .1-3.4 .1-3.9 0-7.1 .1-4.6 .1-10.7 .1-12 0-2.5 .1-14.4 .1-6.6 .1-8.4 .1-6.1 0-1.4 0-1.5 .1-.5 .1 .7 0 1.3 0 .4 .1 2.1 .1 12.7 0 1 0 2.2 0 2.2 .1 1.2 .1 18.7 .1 6.5 0 3.9 .1 14.2 .1 6.3 0 5.8 .1 7 .1 3.1 .1 4.8 0 1.5 .1 1 .1-.4 .1-1.3 .1-7.2 .1-3.4 0-3.3 .1-10.9 .1-6.8 0-1.2 .1-7.6 0-10.8 .1-7 .1-15.2 0-5.2 .1-6.2 .1-14.3 0-.7 .1-2.8 .1-2.2 .1 1.4 0 .8 .2 17.6 0 1.2 .2 25.3 .1 6.9 .1 19.6 0 2.4 .1 8 .1 11.1 .1 3.6 0 4.5 .1 4 .1 3.2 .1 1.8 0 .9 .1 1.5 .1 .6 0 .1 .2 .5 0 0 .1 0 .1 .1 0 0 .1 0 .1 .3 .1 0 0 .2 .1 .2 0 .1 .1 .2 .1 .3 .2 .3 0 .2 .2 .2 .1 0 .1 .1 .1 .1 .2-.2 0 0 .2-.1 .1 .1 .1 .1 0 0 .1 0 .2 .2 .1 .2 .1 .1 .1 .1 .2 .1 0 .1 .2 .1 .3 .1 .1 .1 .1 0 0 .1 .2 0 0 0 .2 0 .1 0 .2-.1 0-.1 .3-.4 0-.1 .2-.9 .1-.6 .2-3.7 0-.8 .3-10.4 .3-21.8 .3-34.4 .2-44.8 .3-44.1 .1-14.3 .2-13.9 .1-4.1 .1 4 .3 28.3 .3 44.2 .2 44.6 .3 32.3 0 2.1 .3 21.8 .3 10.5 .2 4.4 .3 1.6 .3 .4 .1 .1 .2 0 .2 0 1.1 .1 .8 0 .3 .1 .2 .1 .2 0 .1 0 .2 .1 .2-.1 .3-.1 .2-.2 .3-.4 .2-.5 0-.1 .1-.6 .1-.2 .2-.4 .1-.4 .1-.2 .1-.3 .1 .1 0-.1 .2 0 0 0 .1 0 .1 .1 0 .1 .1 0 .1 0 0 .1 .1-.1 .1-.1 0-.1 .1-.4 .1-.5 0-.1 .1-.9 .1-.7 0-.3 .2-1.1 0-.1 .1-.7 .1-.6 .1-.2 0 0 .1 0 0 .2 .2 .6 0 .2 .1 .6 .1 1.1 0 .2 .1 1 .1 .7 0 .3 .2 .8 0 .3 .1 .3 .1 .4 0 0 .1 .2 .1 .1 .2 .1 0 .1 .2 .2 0 .1 .2 .4 .1 .1 .1 .3 .1 .1 .2 .3 0 .1 .3 .2 .2 0 .1 0 .1 0 0 0 .3 0 0 0 .1 0 .1 0 0-.1 .2-.1 .1-.1 .1-.2 .1-.2 .1-.3 .2-1.2 .2-2.2 .2-3.8 .2-4.7 0-.2 .2-4.5 .2-3.1 .1-.5 .1 .5 .2 3.1 .2 4.6 .2 4.8 .2 3.9 .1 1.1 .1 1.2 .2 1.2 .2 .5 .2 .2 .2 .1 .2 0 .3-.1 .1 0 1.5 0 1.5 .1 1.5 0 1.5 0 1.5 0 1.5 0 1.5 0 1-.1 .3 0 .2 0 0 0 .2 0 .3 .1 .2 0 .3 .1 .2-.2 .3-.2 0 0 .2-.1 .2-.4 .3-.3 .2-.2 .3 .1 .2 .1 .1 0 .1 .1 .3 .3 .2 .3 .2 .1 .3 0 .2 0 .2 0 .1 .1 0 0 .2 .1 0 0 .2 0 0 .1 .3 0 0 0 .2 0 .3-.1 .2 0 .2 0 .3-.3 .2-.2 .3-.3 .2-.4 .2-.2 .1-.1 .2-.1 .2 .3 .3 .3 .2 .3 .2 .2 .3 .3 .1 .1 0 0 .1 .1 .1-.1 .2 .1 .1 0 .1 0 .1 0 .1 0 .1-.1 .2 0 0 .1 .2 0 0-.2 .2-.1 0 0 .2-.2 .2-.6 .2-.8 .2-.8 .2-.4 .1 0 .1 0 .2 .4 .1 .3 .1 .4 .2 .7 .2 .5 .2 .4 .2 .2 .2 .1 .2 0 .2 .1 0 0 .2 0 .1 0 .2 0 0 0 .3-.1 .2 0 0 .1 .2-.1 .1 .1 .1-.1 .1-.1 .1 0 .1-.3 .1-.1 .2-.9 .2-1.5 0-.2 .2-1.5 .1-.7 .1-1.3 .1-.8 .1-.5 .1-.2 0-.1 .1 .1 .2 .6 0 .2 .2 1.4 0 .2 .2 1.3 .1 .4 .1 .8 .1 .4 .1 .4 .1 .3 .1 .2 .2 .3 0 .2 .1 .2 .1 .2 0-.1 .1 .3 .1 .2 .1 .1 .1 .1 0 0 .1 .1 .1 .1 .1 0 0 .1 .1-.1 .2 .1 0 .1 .1 0 .1 0 0 0 .2-.1 0 0 0-.1 .1 0 .1-.2 0 0 .1-.3 .1-.1 0-.2 .1-.5 .1-.2 .1-.4 .1-.5 0-.1 .1-.6 .1-.4 .2-.6 0-.1 .1 0 .1 0 0 0 .1 .1 .1 .4 0 .2 .2 .6 .1 .2 .1 .6 .1 .3 .1 .2 .1 .1 .1-.1 .2 .1 0-.1 .2 .1 .2 .1 0 0 .1 .1 .1 .3 .1 .1 .1 .3 .1 .1 .2 .1 .1 .3 .2 .3 .3 .1 .2 0 0 .1 .2 0 .3 0 .2 0 .3-.1 .5 0 1.5 0 1.5 0 .8 0 .2 .1 .3 0 .2-.1 0 0 .2-.1 .2-.1 .2-.2 .2-.5 .2-.9 .2-1.7 .2-2 .1-1.1 .1-.8 .2-1.3 .1-.2 .1 .2 .2 1.3 .2 2.1 .2 2 .2 1.5 .2 .9 0 .1 .2 .4 .2 .3 .2 0 .2 .1 .2 0 .2 0 .3 0 1.5 .1 1.5-.1 1.5 .1 1.5 0 1.5 0 1.5 0 1.5-.1 1.5 0 1.5 0 1.5-.1 1.5 0 1.5 0 1.5 .1 1.5 0 1.5 0 1.5 .1 1.5 0 1.5-.1 1.5 .1 1.5 0 1.5 .1 1.5-.1 1.5 0 1.5 0 1.5 0 1.5-.1 1.5 0 1.5-.1 1.5 .1 1.5-.1 1.5 .1 1.5-.1 1.5 0 1.5 0 1.5 0 1.5 0 1.5 0 1.5-.1 1.5 .1 1.5 .1 1.5 0 1.5 0 1.5 0 1.5 0 1.5 0 1.5 0 1.5 0 1.5 0 1.5 0 1.5 0 1.5 0 1.5 0 1.5 0 1.5-.1 1.5-.1 1.5 0 1.5 .1 1.5 0 1.5 0 1.5 0 1.5 .1 1.5 0 1.5 .1 1.5 0 1.5-.1 1.5 0 1.5 0 1.5-.1 1.5-.1 1.5-.1 1.5 0 1.5 0 1.5 .1 1.5 .1 1.5 0 1.5 .1 1.5 0 1.5 0 1.5 0 1.5-.1 1.5 0 1.3 .1 .2-.1 1.4 0 .1 0 1.5 0 1.5 0 .1 0 1.4 0 .2 0 1.3-.1 .3 .1 1.2-.1 .4 0 1.1-.1 .5-.1 1-.3 .6 0 .9-.3 .7-.4 .8-.4 .8-.5 .7-.5 .9-.5 .6-.3 1-.4 .5-.1 .3-.1 .8 .1 .4 .2 1.2 .5 .3 .1 1.3 .8 .2 .3 1.4 .8 .1 0 1.5 .7 1.5 .5 .1-.1 1.4 .2 .2 0 1.3 .1 .3 0 1.2 .1 .4-.1 1.1 .1 .5 0 1 0 .6 0 .9 0 .7-.1 .8-.1 1.5 0 1.5-.1 1.5 0 1.5 .1 1.5 0 1.5 0 1.5 0 1.5 0 1.5 .1 1.5 0 1.5 0 1.5 0 1.5 0 1.5 0 1.5 0 1.5 .1 1.5 0 1.5-.1 1.5 0 1.5 0 1.5 0 1.5-.1 1.5 0 1.5-.1 1.5 0 1.5 .1 1.5 0 1.5 0 1.5 .1 1.5-.1 1.5 .1 1.5 0 1.5 0 1.5 0 1.5 0 1.5 0 1.5 .1 1.5-.1 1.5 .1 1.5 0 1.5 0 1.5 0 1.5 0 1.5-.1 1.5 0 1.5-.1 1.5 0 1.5 0 1.5 .1 1.5 0 1.5 0 1.5 0 1.5 0 1.5 0 1.5 0 1.5 0 1.5-.1 1.5 .1 1.5 0 1.5 0 1.5 0 1.5 0 1.5-.1 1.5 .1 1.5 0 1.5 0 1.5 0 1.5-.1 1.5 0 1.5 .1 1.5 0 1.5-.1 1.5 0 1.5 .1 1.5 0 1.5 0 1.5 0 1.5-.1 1.5 0 1.5 .1 1.5 0 1.5 0 1.5 0 1.5-.1 1.5 .1 1.5 0 1.5 0 1.5 0 1.5 0 1.5 .1 1.5 0 1.5 0 1.5 0 1.5 0 1.5 0 1.5 0 1.5-.1 1.5 0 1.5 0 1.5-.1 1.5 0 1 0 0 2.3"/></defs>
<use href="#tr1" fill="url(#ga)" clip-path="url(#gac)"/>
<line x1="451.5" y1="466.9" x2="451.5" y2="495.8" stroke="#1b9e77" stroke-width="1.0" stroke-opacity="0.75"/>
<use href="#tr1" fill="none" stroke="#1b9e77" stroke-width="1.8" stroke-linejoin="round"/>
<defs><path id="tr2" d="M390 574.9l0-2.6 1.5-.1 1.5-.1 1.5 0 1.5 0 1.5-.1 1.5 0 1.5 0 1.5 0 1.5 .1 1.5 .1 1.5 0 1.5 0 1.5 0 1.5 0 1.5 .1 1.5 0 1.5-.1 1.5 0 1.5 .1 1.5 0 1.5 0 1.5-.1 1.5 0 1.5 .1 1.5 .1 1.5-.1 1.5 0 1.5 0 1.5 .1 1.5 .1 1.5-.1 1.5 0 1.5 .1 1.5-.1 1.5 0 1.5 0 1.5-.1 1.5 0 1.5-.1 1.5-.1 1.5 .1 1.5 0 1.5 0 1.5 0 1.5-.1 1.5 .1 1.5 0 1.5 0 1.5 0 1.5 0 1.5 0 1.5 .1 1.5 0 1.5 0 1.5-.1 1.5 0 1.5-.1 1.5 .1 1.5 0 1.5-.1 1.5 0 1.5 .1 1.5 0 1.5 .1 1.5 0 1.5-.1 1.5 .1 1.5-.1 1.5 0 1.5 0 1.5-.1 1.5 0 1.5 0 1.5 .1 1.5 0 1.5-.1 1.5 .1 1.5 0 1.5 0 1.5 0 1.5 0 1.5 0 1.5 0 1.5-.1 1.5 .1 1.5 0 1.5-.1 1.5 0 1.5 0 1.5 0 1.5 0 1.5-.1 1.5 .1 1.5 0 1.5 .1 1.5 0 1.5 0 1.5 0 1.5 0 1.5-.1 1.5 .1 1.5-.1 1.5 0 1.5 0 1.5 .1 1.5 0 1.5 .1 1.5-.2 1.5 0 1.5 .1 1.5-.1 1.5 .1 1.5 0 1.5-.1 1.5 0 1.5 0 1.5 0 1.5 .1 1.5-.1 1.1 0 .3 0 0 0 .1 .1 .1 0 0 0 .2 0 .1-.1 .2 0 0 .1 .2 0 0 .1 .3-.1 0 0 .1 0 .1-.1 0 0 .1-.1 .1-.2 0 0 0 0 .1-.2 .2-.3 0-.1 .1-.2 .1-.2 0 0 .1-.3 .2-.4 0 .1 .1-.2 .1-.3 0-.1 .1-.3 .1-.1 .1 0 0-.1 .2-.1 0-.1 0 .1 .1 .1 .1 0 0-.1 .1 .2 .2 .2 0 0 .1-.1 .1 .1 0 .1 .1 .1 .1 0 .1-.1 0 .1 .2 .2 0 0 .1 .1 .1 .2 0 .1 .1 .2 0-.1 .2 .4 0-.1 .1 .2 .1 .4 0 0 .1 .2 .1 .4 0 0 .1 .1 .2 .3 0-.1 .1 .1 .1 0 .1 0 .3 .1 0 0 .2-.1 .2 0 .2 0 .1 0 .2 0 0 .1 .2 0 .2-.1 .2 .1 .1 0 .2-.1 .3-.1 .2-.1 .2-.4 .3-.4 .2-.6 0 0 .3-.5 .2-.4 .2 0 .3 .4 .2 .6 .3 .5 0 .1 .2 .3 .2 .3 .2 .1 .1 0 .1 0 .1 .1 .2 0 .1-.1 .1 .1 .1 .1 .1 0 0 0 .1 0 .2-.1 .1 0 .1-.1 .3-.2 .2-.2 .2-.2 .3-.4 0 0 .2-.4 .3-.1 .2 0 .2 .3 .2 .3 .1 0 .2 .4 0 0 .1 .2 .1 0 .1 0 .1 .2 .1 .1 .1 0 .1 0 .1 0 .2 0 0 0 .2-.4 0-.1 .2-.7 .1-.4 .1-.9 0-.1 .1-.8 .1-.8 .1-1.2 .1-.4 .2-1.1 .1-.1 .1 .3 .2 1 .2 1.7 .2 1.7 .1 .7 .1 .7 .2 .6 .2 .4 .2 .1 .2 0 .2-.1 .2 0 .2 0 0 0 1.5-.1 1.5 0 1.5 .1 1.5 0 .3-.1 .2 .1 .2-.1 .2 .1 .2 0 .2-.5 .2-.9 0-.2 .2-2.4 .2-4.8 .2-8.4 .2-10.5 .2-8.9 0-1.5 .2-6.9 .1-.8 .1 .8 0 .9 .1 1.8 .1 4.3 .1 3.4 .1 7 .1 5.8 .1 4.6 .2 6.2 0 2 .2 4.6 0 .4 .2 2.4 0 .2 .2 .8 .1 .2 .1 .1 0-.1 .1 0 .1 0 .2-.2 0-.2 .2-.3 0-.1 .2-.1 .3 0 .2 .1 .2 .2 .1 .1 .2 .4 .2 .4 .3 .1 .2 .1 .3 .1 .2-.1 .2 .1 .3 0 .2-.1 .8 .1 1.5 0 .1 0 .2 0 .3 0 .2 0 .1-.1 .2 0 0-.1 .2 0 .1 0 .1-.1 0-.1 .1 .1 .2-.2 0-.1 .2-.2 .1-.1 .2-.4 0-.1 .2-.6 .1-.2 .1-.7 .1-.3 .2-.8 0-.1 0-.2 .1-.2 .1-.4 .1-.1 0 .1 .2-.2 0 .1 0 .1 .2 .1 .1 0 0 .1 .1 .4 .1 .2 0 0 .2 .5 0 .3 .1 .1 .1 .6 .1 .2 0 0 0 .1 .2 .5 0 .2 .1 .1 .1 .3 .1 0 0 0 .1-.2 .1 0 0 .1 .2-.3 0-.2 .1 .1 .1-.3 .1 0 0-.1 .2-.3 0-.1 .1 .1 0 0 .2-.1 0 0 .2 .3 0 .1 .2 .6 .1 0 .2 .4 .2 .5 .3 .3 .1 0 .1 .1 .3 0 .2 0 .3 0 .2 0 .2 0 .2 0 .8 .1 .2 0 .2 0 .2 .1 .1 0 0 0 .1 0 .1 0 .1-.1 .2 0 .1 0 .1-.1 .1-.1 .1-.1 .2-.2 .1-.2 .1-.3 .1-.4 .1-.3 0-.1 .1-.4 .2-.7 .1-.4 0-.2 .1-.5 0-.1 .1-.4 .2-.5 .1-.2 .1-.2 0 0 .1-.1 .1 0 0-.1 .2 .1 0-.1 .1-.1 0 0 .1-.3 0 0 .1-.9 .1-.6 0-.7 .2-2.8 0-.6 .1-2.9 .1-5 0-.6 .1-5.5 .1-4.4 0-2.7 .1-5.8 .1-1.7 .1-3.7 .1-3.1 0-.1 .1-.5 0-.3 0 .1 .1 .8 0 .6 0 .5 .2 3.9 0 2.1 .1 2.4 0 .6 .1 7.2 0 .6 .1 2.7 0 2.9 .1 5.2 0 1.5 .1 1.4 .1 5.9 .1 1.6 0 .3 .1 3.1 .1 .9 0 .6 .1 .8 .1 .3 .1-.1 .1-.1 0-.1 .1-.8 .1-.3 .1-1.5 .1-.6 .1-1.5 .1-.5 .1-1.2 .1-.2 .1-.3 .1 .2 .2 1.3 .2 2.1 .1 .9 .1 1.1 .2 1.7 .2 1 .2 .4 .2 .3 .2 0 .2 0 .2-.1 0 0 .3 0 1.2 .2 1.5-.1 .2 .1 .3 .1 .2 0 .3 0 .2-.1 .2-.1 .1 .1 .2-.1 .2-.1 .3 0 .2-.2 .2-.3 .3-.2 .1-.2 .1-.1 .3 .1 .2 .1 .2 .3 .3 .3 .2 .2 .2 .1 .1 .1 .2 0 0 0 .2 0 .1 0 .2 0 0 0 .2 0 0-.1 .3 0 0 0 .2 0 0 .1 0-.1 .2-.1 .1 0 .2 0 0 0 .2-.3 0 0 .2-.4 .1 0 .2-.5 0-.3 .2-.4 .1-.2 0-.1 .2-.3 0-.1 .2-.1 .1 .1 .1 .1 .1 .1 .2 .3 0 0 .2 .4 .1 .1 .2 .3 0 0 .1 .2 .1 .2 0 .1 .2 .2 .1 0 .2 .1 0 .1 .2 .1 .1 0 .2 .2 0 .1 .2 0 .1 .1 .1 0 0 .1 .1 .1 .2-.1 .2 0 .3 0 .2 0 .2 .1 .3-.1 1.5 0 1.5 .1 1.5 0 1.5 0 .1 0 .2-.1 .2 0 .3 0 .2-.1 .3-.1 .2 .1 0 0 .2-.1 .3-.1 .2-.2 .3-.3 .1-.1 .1-.1 .2-.2 .1 0 0 .1 .1 0 .1 .1 .1 0 .1 .1 .2 0 .1-.2 .1-.6 .1-.6 .1-1.6 .1-1.8 .2-4.1 .1-4.1 .1-5.9 0-1.9 .1-7.2 .2-12.4 .1-10.2 .1-14.3 .1-12.2 .1-13.3 .2-9.2 .1-7.1 .1-2.2 0-.1 .1 2.2 .1 5.7 .2 10.6 0 3.9 .2 21.6 .2 16.3 0 8.2 .1 10.8 .2 8.9 .1 5.3 .1 6.7 .1 1.6 .1 4.3 .1 .4 .2 2 0 .1 .1 .6 .1 .1 0 0 .2-.2 .1-.2 .1-.7 .1-.8 .1-.8 .1-1.3 .1-.4 .2-1.8 .2-1.2 .1-.1 .1 .2 .2 1.3 .2 1.8 .2 1.7 .2 1.5 .2 .8 .2 .4 .2 .2 .1 0 .1 .1 .2 0 .2 .1 .3 0 .7 0 1.5 0 .5 .1 .2 0 .2 0 .3 0 .2 0 0 0 .1 0 .1-.1 0 0 .3-.1 0 0 .2-.1 0 0 .3-.3 0-.1 .2-.6 0-.2 .2-.7 .1-.2 .1-.5 .1-.2 0-.1 .2-.5 0 0 .2-.2 .1 0 .2 .1 0 0 .2 .5 0-.1 .3 .6 0 0 .2 .5 0 .1 0 0 .3 .6 0 .1 .2 .6 0 0 .2 .4 0-.1 .3 .3 0-.1 .2 0 0 0 .3 .1 0 0 0 .1 .2 0 0 0 .2 .1 .3-.1 .2 0 .2 .1 .4-.1 1.5 0 1.5 0 1.5 .1 1.5-.1 1.5 0 1.5 0 .5 0 .2 .1 .3 .1 .2-.2 .3 .1 0 0 .2 0 .3-.1 .2-.1 .2-.1 .3-.2 .2-.2 .1-.2 .1-.2 .3-.3 .2 0 .3 .2 .2 .3 .3 .3 .1 .2 .1 .1 .2 .3 .3 .1 .2 0 .2 0 .3 0 .2 0 0-.1 .3 0 1.2 0 1.5-.1 1.5 .1 1.5 .1 1.1-.1 .3 0 .1 0 .1 .1 .2 0 .3 0 .2-.1 .3-.2 .2-.2 .2-.2 0-.1 .3-.6 .2-.7 0 .1 .2-.5 .1 0 .2-.4 0 0 .2-.1 0 0 .2 0 .1 .2 0 .2 .1 .2 .1 .1 .1 0 .2-.2 0 0 .2-1.4 0-.3 .2-2.6 0-.7 .1-.2 .1-2.6 .1-1.7 0-.2 .1-1.7 .1-1.7 0-.2 .1-.6 .1-.3 .1 .2 0 0 0 .3 .2 2.2 0 .3 .2 3.7 0 .6 0 .3 .2 2.9 .1 1.1 0 .1 .1 1.6 .1 1 .1 .6 .2 .4 0 .1 .1-.1 .1-.1 0 0 .2-.4 .1 0 .1-.4 .1 0 .1-.3 .1 0 .2 0 .1 .1 .2 .4 .2 .4 0 .1 .3 .7 .2 .3 .3 .3 .2 .1 .3 0 .2 0 0-.1 .2 .1 .3 .1 .2 0 .8-.1 1.5 0 1.5 0 .5 0 .2-.1 .3 0 .2 0 .2 0 .1 0 .2 0 .2-.1 .2-.1 .3-.4 .2-.5 .3-.7 .1-.4 .1-.4 .3-.3 .2 0 .2 .4 .3 .7 .2 .7 .2 .4 0 .2 .3 .3 .2 .2 .3 .2 .2 .1 .2 0 .3 .1 0 0 .2 0 .8 .1 .2 0 .2 0 .1 0 .2-.1 .2-.1 .2 0 .3-.2 .2-.2 .3-.3 .1-.3 .1-.1 .3-.6 .2-.5 .2-.3 .3 0 .2 .2 .2 .6 0 .1 .3 .6 .2 .4 .3 .2 .2 .2 .2 0 .3 0 0 0 0 .1 .2-.1 .1 0 .2 0 0 .1 .2 0 0 0 .3 0 .2 .1 .3 0 0 0 .2-.1 .2-.2 .3 0 .2-.4 .3-.2 .2-.1 .1 0 .1 .1 .3 .2 .2 .1 .3 .3 .2 .2 .2 .1 .2 .1 .1-.1 .2-.1 .3 0 .2 0 .2 0 .2-.1 .1 0 .1 .1 .1 0 .1 .1 .3 0 .2-.1 .3 .1 .2-.1 .2-.1 .2-.1 .1 0 .2-.3 .3-.2 .2-.2 .2-.1 .3-.1 .2 .1 0 0 .3 .1 .2 .3 .2 .2 .3 .1 .2 .1 .3 .1 0 .1 .2 .1 .2 .1 .3 0 .2-.1 .6 0 .8 0 .2-.1 .3-.1 .2 0 0 0 .2 .1 .3-.1 .2-.1 .3 0 .2-.2 .2-.4 .1-.1 .2-.5 .2-.3 .2-.3 .3 0 .2 .3 .3 .4 .1 .3 .1 .2 .3 .3 .2 .2 .2 .1 .3-.1 .2 .1 .2 0 0 0 .3-.1 .1 .2 .1 0 .1 0 .3 0 .2 0 .2 .1 .2 .1 .1-.1 .2-.1 .3-.1 .2-.1 .2-.4 .3-.4 .2-.5 0 .1 .3-.3 .2 0 .2 .2 .3 .4 .2 .4 .3 .3 0 .1 .1 .1 .1 .1 .2 0 0 .1 .2 .1 .1-.1 .1 0 .1 0 .1 0 .2-.2 0 0 .2-.8 0-.1 .1-.9 .1-.8 0-.9 .2-2.7 .2-6 .2-7.5 .2-7.6 .2-4.9 .1-.6 .1 .5 .2 4.7 0 .3 .2 7.5 .2 7.6 .2 6.1 .2 3.5 .2 1.9 .2 .7 .2 .2 .1 0 .1 0 .2 0 .2 0 1-.1 .7 0 .3 0 0-.1 .2 .1 0 0 .2 .1 .1 .1 0 0 .2-.1 0 .1 .2 .1 .1-.1 .1 0 .1 0 .2-.1 0 0 .2-.2 .1-.2 .2-.4 0-.1 .1-.2 .1-.4 .1-.2 .2-.8 0-.1 .2-.6 0-.2 .2-.3 .1-.1 .2 .2 0 .2 .2 .4 .1 .2 .1 .5 0 .3 .1 .1 .2 .6 0 .2 .2 .5 .1 .1 .2 .3 0 0 .2 .2 .1 .1 .2 0 0 .1 .2-.1 0 0 0 .1 .2 0 .1-.1 .2 0 0 0 .3 0 .4 0 .3 0 0-.1 .2-.1 .2 .2 .2-.1 .2-.2 .2-.6 .2-1.7 .2-3.2 .1-2.8 .1-2.7 .2-6.9 .2-6.9 .2-4.5 .1-.6 .1 .7 .2 4.4 .2 6.8 .2 6.5 0 .4 .2 5.5 .2 3.2 .2 1.6 .2 .7 .2 .2 .2 .1 .2 0 .1-.1 .1 .1 .2 0 .2 .1 .3 0 .2 0 .2-.1 .3 .1 0 0 .2-.1 .3-.1 .2-.1 .2-.2 .3-.3 .2-.4 .1-.2 0 0 .1-.1 .1 0 .2 0 .1 0 .1 .1 .1 0 .2 .3 .2 .3 0 0 .2 .1 .1 0 .1-.1 0 0 .1-.2 .1-.3 .1-.6 .1-.5 .2-1.2 0-.1 .2-1.3 0-.2 .2-.7 0-.1 .1 .1 .1 .1 .1 .3 .1 .6 .1 .6 0 .2 .1 .5 .2 1.3 .2 1.1 .2 .7 .2 .3 .2 .2 .2 .1 .2 0 0 0 .2 0 .3 .1 1-.1 1.5 0 1.5-.1 1.5 0 1.5 0 1.5 0 0 0 .3 0 .2 0 .3 .1 .2 0 .2-.1 .3-.1 0 .1 .2-.1 .3-.3 .2-.5 .2-.6 .3-.7 .2-.4 .1-.1 .2 0 .2 .5 .2 .5 .3 .6 .2 .5 .3 .3 .1 .2 .1 .2 .2 0 .2 .1 .1 0 0-.1 .2 0 .1 0 .2 0 .2-.2 0-.1 .2-.5 0-.1 .2-1.4 .2-3.9 .2-7.2 .2-12.5 .2-15.4 .2-15.3 .2-10.1 .1-1.3 .1 1.3 .2 10.1 .2 15.2 .2 15.5 .2 12.5 .2 7.2 .2 3.9 .2 1.4 0 .1 .2 .6 .2 .1 .2 0 .3 0 .6 0 .9 0 .3 0 .2 0 .1-.1 .2 .1 .3-.1 .3-.1 .2-.4 .3-1 .2-1.3 .1-.8 .2-2.7 .1-.4 .2-3.1 0-.9 .2-2.7 .1-1.2 .1-1.6 .2-.9 .1-.4 0 .1 .1 .3 .1 .5 0 .1 .2 2 .1 .6 .2 3.2 0 .3 .2 3.2 0 .2 .3 2.2 0 .2 .2 .9 .1 .2 .2 .1 0 .1 .1-.1 .1 0 .1 .1 .1 .2 .2 .4 .1 .1 .2 .6 0 .1 .3 .8 .2 .6 0 0 .1 .1 .1 .2 .3 .2 .2 .1 .3 0 .2 .1 .2 0 .2-.1 .1 .1 1.4 0 1.5 0 1.5 .1 1.5 0 1.5 0 1.5 .1 1.4-.1 .1 0 .2-.1 .2 0 .3-.1 .2-.1 .2-.1 0 0 .3 0 0 0 .1-.2 .1 .1 0 0 .2-.2 .1-.1 .1-.1 .1-.2 .1-.1 .1-.6 .1-.1 .2-1.5 .2-2.4 0-.7 .2-3.3 0-.2 .1-1.4 .1-3.1 .1-2.6 .1-1.7 .1-2.2 .1-.5 .1-.2 .1 .4 0 .3 .2 3.3 0 .2 .2 4.5 .1 1.3 .1 3.4 .1 1.9 .1 1.9 .1 1.5 .1 .7 .2 1.1 0 .2 .2 .5 0 .1 .2 .1 0 .1 .1 .1 0 0 .1 0 .1 0 .1-.1 0 .1 .1 0 .1-.1 0 .1 0 0 .1 .1 .1 .1 .1-.2 .1-.1 .2-.6 0-.1 .2-1.3 0-.5 .2-2.3 .1-1.4 .1-2.9 .1-2.9 .1-2.6 .1-3.1 0-1 .1-1.2 .2-3.6 0-.3 .1-.6 .1 .2 0 .1 .2 2.8 .1 1.1 .1 3.6 .1 2.4 .1 2.6 .1 2.8 .1 1.5 .2 2.2 0 .3 0 .3 .2 1.6 0 0 .2 1 .1 .1 .1 .6 .1 .1 .1 .3 .1 .2 .1 .2 .2 .2 .1 .1 .1 0 .1 0 .2 .1 .2-.1 .2 .1 .3 0 .2-.1 .4 .2 1.5 0 1.5-.1 1.5 .1 1.5 0 1.5 0 .7 0 .3-.1 .2 .1 .2 0 .1 0 .2 .1 .2 0 .2-.1 .3 0 .1-.1 .1 0 .2-.1 .1-.2 .1-.1 0-.1 .1-.2 .1-.2 .2-.3 0 0 .2-.2 0 0 .2-.1 0 0 .2 0 .1 0 .1-.2 .1-.3 .1-.3 .1-.3 0-.3 .1-.1 .2-.8 .2-.6 0 .1 .1 0 .1 .1 .1 .3 .1 .4 .1 .5 .1 .5 .2 .7 0 .2 .2 .6 0-.1 0 .1 .2 .4 0 .1 .2 .2 .1 .1 .1 .1 .2 .2 .2 0 .2 .1 .3 0 0-.1 1.5 0 .6-.1 .3-.1 .2 .1 .2-.1 .2 0 0 0 .2 .1 .2-.2 .2-.2 .2-.5 .2-.9 .2-1.2 .2-1.3 .1-.5 .1-.2 .1-.2 .1 0 .2 .7 .2 1.3 .2 1.1 .2 1 .2 .5 .2 .3 0 .1 .2 0 .2 0 .2 .1 .2-.1 .2 0 .5 0 1.5 0 0 0 .1 0 .3 0 .2 0 .2-.1 .2-.3 .2-1.2 .2-2.7 .1-2.9 .1-2.5 .2-9.1 .2-11.5 .2-11.3 .2-7.4 .1-1 .1 .9 .2 7.6 .2 10.6 0 .7 .2 11.4 .2 9.1 .2 5.3 .2 2.8 .2 1.1 .2 .5 .2 0 .1 0 .1 0 .3 .2 1.1-.1 1.5 0 1.5 0 1.5 .1 1.5 0 1.5 0 1.5 0 .5 .1 .3 0 .2-.1 .3 0 .2 0 0 0 .2 0 .1-.1 .2-.1 0 .1 .2-.2 .1-.1 .2-.5 .1-.4 .1-.8 .2-1.8 .1-1.6 0-1.1 .1-3.8 .1-2.2 .2-12.1 0-2.4 .3-25.2 0-1.4 .2-37.6 .1-7.7 .1-42.9 .1-15.8 .2-38.1 .1-20.1 0-1.8 .1-21.2 .2-14 .1-5 0-.3 .1 5.5 .1 6.5 .2 30.9 .1 7.9 .2 50.8 0 2.2 .2 53 .1 4.1 .1 27.5 .1 11 0 7.1 .2 21.6 .1 7.3 .3 13.9 .2 5.9 .3 2.1 .3 .5 0 .1 .3 .2 .2 0 .1 0 .3 0 .2 0 .2 .1 .2 0 0-.1 .2-.1 .2-.5 .2-1.4 .2-2.6 .2-4.6 .2-5.5 .2-5.4 .1-2.4 .1-1.3 .1-.6 .1 .4 .2 3.7 .2 5.5 .2 5.5 .2 4.5 .2 2.7 .2 1.2 0 .2 .2 .5 .2 .2 .2 .2 .2 0 0 0 .2-.1 0 .1 .2 .1 .3-.1 0-.1 .2 0 .3 0 .2 0 .2-.2 0-.1 .1-.1 .2-.2 .1-.2 .1-.4 .1-.1 0 0 .2-.4 0-.1 .2-.5 0-.1 .2-.5 0-.2 .2-.5 .1-.5 .1-.5 .1-.9 .1-.5 .2-1.4 0-.3 .1-.9 .1-.8 0 0 .2-1 0-.2 .1 0 .1 .3 .1 .5 .1 1.2 .1 1.3 .1 1 .2 1.9 0 .2 0 .4 .2 1.8 0 .1 .2 .9 0 .1 0 0 .1 0 .1 .4 .1 .1 0 .1 .1 .1 .1 .1 0 .1 .1 0 .2-.1 0 0 .2 0 0-.1 .3-.1 0-.1 .2-.2 .2-.5 .3-.6 .2-.6 .3-.3 .2 .1 .2 .4 .1 .2 .2 .5 .2 .5 .3 .4 .2 .3 .2 .1 .3 .2 .1 0 .1 0 .3 0 .2 0 .2 0 .7-.1 0 0 .3 0 .2-.1 .2 .1 .3 0 .2-.1 .3 0 0-.1 .2-.1 .2-.3 .3-.5 .2-.6 .3-.7 .2-.4 .1 0 .1 0 .3 .4 .2 .6 .3 .6 .2 .5 .2 .3 .2 .1 .1 0 .1 .1 .1 0 .2 .1 .1-.1 .1 0 .1 0 .1 .1 .1 0 .1 0 .2 0 0 0 .2-.1 0 0 .2-.6 .2-.9 .2-1.6 .2-2 .2-2 .2-1.3 .1-.1 .1 .2 .1 .4 .1 .9 .2 1.9 .2 2.1 .2 1.5 .2 .9 .2 .5 .2 .2 .2 .1 0 0 .2-.1 .2 .1 .2 0 .3 0 .3 0 .2-.1 .1 0 .2 .1 .2-.1 .2 .1 .3-.1 .2 0 .3-.1 .1-.2 .1-.1 .2-.5 .3-.5 .2-.2 .3-.1 .2 .3 .2 .3 0 0 .3 .5 .2 .3 .3 .1 .2 .1 .2 0 .3 0 0 0 .2 .1 .3 0 .2 .1 .2-.1 .1 .1 .3 0 .2 0 0 0 .2 0 .2-.2 .2-.4 .2-.9 .2-1.7 .2-3 .2-3.6 .1-2.1 .1-1.6 .2-2.4 .1-.4 .1 .3 .2 2.4 .2 3.6 .2 3.7 .2 3.1 .2 1.6 0 .3 .2 .9 .2 .4 .2 .1 .2 .1 .2-.2 .2 .1 .3-.1 .7 .1 .3-.1 .2 .1 .2 0 .1 .1 .1 0 .2-.1 .2-.2 .2-.4 .2-.6 .2-1.4 .2-1.6 .2-1.4 0 0 .2-1 .1-.1 .1 0 .2 1.1 .2 1.5 .2 1.5 .2 1.2 .2 .8 .1 .1 .1 .3 .2 .2 .2 0 .2 0 .2 0 .2 0 .4 0 1.5-.1 1 0 .2 .1 .3 0 0-.1 .2 0 .2-.1 .2-.1 .2-.6 .2-1.2 .2-2.1 .2-3.8 .1-2.5 .1-2.2 .1-3.4 .1-1.2 .2-2.8 0-.4 .1-.4 .1 .3 .2 3.1 0 .7 .2 3.9 .1 1.5 .1 2.7 .1 1.6 .1 .8 0 0 .1-.3 .1-.9 .2-4.4 0-1.5 .2-11.5 .2-17.9 .1-4.2 .1-20.1 .1-8.8 .1-16 .1-11.4 .2-10.2 0-3.6 .1-4.3 .1-2.4 .1 2.5 .3 18.3 .2 28.6 .2 27.7 .3 22.2 .2 13.2 0 .4 .3 6.7 .2 2.8 .2 .9 .3 .3 .2 .1 .2-.1 .1 .1 .5 0 .1 0 .1 .1 .2 0 .1 0 .1 0 .1-.2 .1 0 .2-.1 0-.1 0-.2 .2-.6 0-.2 .2-1.7 0-.7 .2-2.8 .1-2.3 .1-3.7 .1-4.3 .1-3.1 .1-6.2 .1-1.3 .2-5.1 0-.2 .1-.8 .1 .3 0 .3 .2 3.9 .1 1.8 .1 4.9 .1 3.2 0 .4 .1 3.5 .2 4.3 0 .6 0 1.3 .2 3.4 0 .6 0 .2 .2 2.1 .1 .5 .1 .4 0 0 .1 0 .1-.3 0-.1 .1-.6 .1-1.5 .1-.3 0-1.9 .1-2.6 .1-3.6 .1-3.1 .1-3.8 .1-13 0-3.2 .3-36.1 0-2 .2-51.2 0-2.8 0-11.1 .2-61.6 .1-23 .2-54.8 .1-29.1 .3-52.5 0-1.1 .1-7.7 0 1 .1 6.8 .2 18.3 .1 35.3 .1 14.2 0 11.8 .2 54.1 0 3.2 .2 59.8 .1 22.6 .1 29.7 .1 27.7 .1 7.9 0 3.2 .2 8.9 0 0 0-.8 .2-9.2 .1-8.7 0-2.5 .1-14 .1-16.6 0-4.5 0-1.4 .1-7 .2-18.8 0-1.7 0-.5 .1-1.9 .1 .9 0 2.3 0 .6 .1 5.7 0 8 .1 8.3 .1 6.2 .1 18.7 0 8.9 .1 14.1 .1 11.9 0 7.8 0 3.2 .1 13.6 .1 4.6 0 5.2 .2 11.5 0 1.5 0 1 .2 3.1 0-.1 0-.2 .2-4.9 0-3.1 .1-1.4 .1-12.1 0-5.9 .1-8.3 .1-15.8 0-8.9 .1-17 .1-11.7 0-9.8 .2-24 0-3.3 .1-9.1 .1-15.4 0-.6 .1-2.4 .1 3.4 0 4.1 .2 21.4 .1 14.3 .1 23.7 .1 23.6 .1 14.6 .2 24.6 0 6.1 .2 17.2 0 .7 .2 9.4 .1 .6 .1 2.8 0 .3 .1 .6 .1 .9 .1 .2 .1 .2 .2 0 .3 .1 .6 0 1.5-.1 .8 0 .3 .1 .2-.1 .2 .1 .1-.1 .3-.5 .3-2.1 .2-6 .3-14 .3-29.2 0-2.8 .3-43.2 .2-59.7 .3-59 .3-37.8 .1-5.4 .1 5.4 .2 14.2 0 4.3 .1 19.2 .1 20.6 .2 38.5 .1 16.1 .1 43.6 .1 8 .2 38.1 0 1.4 .3 25.5 0 2.3 .2 11.7 .1 2.2 0 .9 .1 3.6 .1 1.3 .2 1.3 .1 .6 .1 .4 .2 .1 .1-.1 .2-.3 0-.1 .2-.2 .1-.1 .1 0 .1 0 .2 .2 .3 .3 .2 .3 .2 .3 .3 .1 .2 0 0 .1 .3-.1 .2 .1 .2 0 .3 0 .2 0 .3 .1 .6-.1 .3 0 .2-.1 .2 0 .2-.1 0 0 .2 0 .2-.2 .2-.7 .2-1 .2-2.2 .2-2.5 .2-2.5 .1-1 .1-.7 .1-.2 .1 .2 .2 1.7 .2 2.5 .2 2.5 .2 2 .2 1.3 .2 .4 0 0 .2 .3 .2 .1 .2 .1 .2 0 .2 0 .3 .1 .2 0 0 0 .2 0 .2-.1 .2-.2 .2-.6 .2-1.3 .2-2.5 .2-4.3 .1-2.7 .1-2.4 .2-5.2 .2-3.3 .1-.6 .1 .5 .2 3.5 .2 5.2 .2 5.2 .2 3.9 0 .3 .2 2.5 .2 1.3 .2 .5 .2 .1 .2 .1 .2-.1 .3 0 0 0 1.5 .1 1.3 .1 .2 0 0 0 .3 0 .2 0 .2 0 .3 0 .2-.1 .3-.1 0 .1 .2-.1 .2-.4 .1-.2 .2-.3 .1-.1 .1-.2 .1-.2 .2-.1 0 0 .2 .1 0-.1 .1 .1 0-.1 .1 .2 0-.1 .1 .1 .2 .1 0 .1 .1 .2 .1 .3 0-.1 .1 .2 .2 .2 0 .1 .1 0 .1-.1 0 0 .1 0 0 .1 .1-.1 .1-.1 0 .1 0 0 .1 0 .1-.2 0-.1 .1-.1 0-.1 .1-.2 0-.1 .1-.1 0 0 .2-.1 0 0 0 0 0 .1 .2-.1 0 .1 .1 .1 0-.1 .1 0 0 0 .1-.1 0 0 .2-.1 .1-.1 0 0 .1-.1 0 .1 .1 0 0-.1 .2-.1 0 .1 .1 0 .1-.2 .1-.1 0 0 .1-.1 .1-.1 0 .1 .2-.2 .1 0 0 .1 .1 0 .1 .2 0 0 .2 .1 0 .2 0 .2 0 .1 .2 .2 .1 .1 0 .1 .2 .4 0 0 0 0 .2 .2 0 0 .1 0 .1 .1 0 0 .1 .1 .2 .1 0 0 0 0 .2 .1 .1 0 0 .1 .2 0 0-.2 .2 0 .1 .1 .1-.1 .1 .1 .2-.2 0-.1 .2-.2 .3-.4 .1-.2 .1-.2 .2-.2 .3 0 .2 .1 .3 .4 .2 .4 .2 .3 0 .1 .3 .1 .2 .1 .3 0 .2 0 .2 0 .3 0 0 .1 .2 0 1.3 0 1.5 .1 1.5 0 1.5 0 1.5 0 1.5-.1 1.5 0 1.5-.1 1.5 0 .8 0 .2 0 .3 .1 .2 0 .2 0 .3 0 .2-.1 .3-.1 .2-.4 .2-.5 .1-.2 .2-.6 .2-.7 .3-.4 .2-.1 .2 .6 .3 .7 .1 .4 .1 .4 .3 .5 .2 .2 .2 .2 .3 .1 0 0 .2 0 .1 .1 .1 0 .1 .1 0-.1 .2 0 .1-.1 .1-.1 .1 .1 .2 0 .3-.2 .2-.3 .2-.2 0-.1 .3-.5 .2-.7 .3-.7 .2-.4 .2 .1 .3 .4 0 0 .2 .6 0 0 .3 .6 0 0 .2 .4 0 .1 .2 .5 .1 0 .2 .2 0 .1 .2 0 0 .1 .1-.1 .1-.1 .1 .1 .2-.1 0-.1 .2-.2 0-.1 .3-.5 0-.1 .2-.8 0-.2 .3-.6 .1-.4 .1-.1 0 0 .2 0 0 .1 .2 .1 .1 .2 .1 .2 .1 .4 .1 .1 .1 .3 .1-.1 .2-.5 0 0 .2-1.1 0-.2 0-.2 .2-1.5 .1-.8 .1-1 .1-.9 .1-.5 .1-.2 .1-.1 0 .1 .2 1.1 0 .1 .2 2 0 .3 .2 1.8 .1 .6 0 .3 .1 .9 .2 1 .2 .6 .2 .2 .2 .2 .2-.1 .2 .1 .2-.1 0-.1 1.5-.1 1.5 0 1.5 0 1.5-.1 1.5 .1 1.5 0 1.5 0 1.5 .1 1.5-.1 1.5 0 1.5 .1 1.5 0 1.5 0 1.5 0 1.5-.1 1.5 .1 1.5 0 1.5 0 1.5 0 1.5 0 1.5 0 1.5 0 1.5 0 1.5 0 1.5 0 1.5 .1 1.5-.1 1.5 .1 1.5-.1 1.5 0 1.5 0 1.5-.2 1.5 0 1.5 .1 1.5 0 1.5 .1 1.5 0 1.5 0 1.5 .1 1.5-.1 1.5-.1 1.5 0 1.5 0 1.5 .1 1.5 0 1.5-.1 1.5 .1 1.5 .1 1.5 0 1.5 0 1.5 0 1.5-.1 1.5 .2 1.5 0 1.5 0 1.5-.1 1.5 0 1.5 .1 1.5 .1 1.5 0 1.5-.1 1.5 0 1.5-.1 1.5 .1 1.5-.1 1.5 0 1.5-.1 1.5 .1 1.5 0 1.5 0 1.5-.1 1.5 0 1.5 0 1.5 0 1.5-.1 1.5-.1 1.5 .1 1.5 0 1.5 0 1.5 0 1.5 0 1.5-.1 1.5 0 .3 0 1.2 0 .2 0 1.3 .1 .1 .1 1.4 .1 1.4 0 .1 0 1.3-.1 .2 0 1.2-.2 .3 .1 1.1-.2 .4-.1 1-.2 .5-.2 .9-.4 .6-.4 .8-.5 .7-.5 .7-.5 .8-.4 .6-.1 .7-.1 .2 .1 .5 0 1 .4 .4 .3 1.1 .6 .3 .2 1.2 .7 .2 0 1.3 .7 .1 0 1.4 .3 1.4 .3 .1 0 1.3 .1 .2 .1 1.2 0 .3 .1 1.1 0 .4 0 1 0 .5-.1 .9 0 .6 0 1.5 0 1.5 0 1.5-.1 1.5 0 1.5 0 1.5 0 1.5 0 1.5 0 1.5 .1 1.5 0 1.5 .1 1.5 .1 1.5-.1 1.5 0 1.5 .1 1.5-.1 1.5 0 1.5 0 1.5-.1 1.5 .1 1.5-.2 1.5 0 1.5 0 1.5-.1 1.5 0 1.5 .1 1.5 0 1.5 .1 1.5-.1 1.5-.1 1.5 .1 1.5 0 1.5 0 1.5 .1 1.5-.1 1.5 0 1.5 0 1.5-.1 1.5 0 1.5 0 1.5 0 1.5 0 1.5 .1 1.5 0 1.5 .1 1.5 0 1.5 0 1.5 .1 1.5-.1 1.5 0 1.5 0 1.5-.1 1.5 0 1.5 0 1.5-.1 1.5 0 1.5-.1 1.5 0 1.5-.1 1.5 .1 1.5 .1 1.5 0 1.5 0 1.5 .1 1.5 .1 1.5 .1 1.5 0 1.5 0 1.5-.1 1.5 .1 1.5-.1 1.5 0 1.5-.1 1.5 0 1.5-.1 1.5 .1 1.5-.1 1.5 0 1.5 0 1.5 .1 1.5 0 1.5 0 1.5-.1 1.5 .1 1.5-.1 1.5 .1 1.5 0 1.5 0 1.5 0 1.5 0 1.5 0 1.5 .1 1.5 0 1.5 0 1.5 .1 1.5-.1 1.5 0 1.5-.1 1.5 .1 1.5 0 1.5-.1 1.5-.1 1.5 .1 .5 .1 0 2.6"/></defs>
<use href="#tr2" fill="url(#ga)" clip-path="url(#gac)"/>
<line x1="390.0" y1="545.2" x2="390.0" y2="573.7" stroke="#d95f02" stroke-width="1.0" stroke-opacity="0.75"/>
<use href="#tr2" fill="none" stroke="#d95f02" stroke-width="1.8" stroke-linejoin="round"/>
<defs><path id="tr3" d="M328.4 652.8l0-2.4 1.5 .1 1.5 .1 1.5 0 1.5 0 1.5 .1 1.5 0 1.5 0 1.5 0 1.5-.1 1.5 .1 1.5 0 1.5 0 1.5 0 1.5 0 1.5-.1 1.5 .1 1.5-.1 1.5 0 1.5-.1 1.5 .1 1.5 .1 1.5 .1 1.5 0 1.5-.1 1.5 0 1.5 0 1.5-.1 1.5 0 1.5-.1 1.5 0 1.5 0 1.5 .1 1.5 .1 1.5 .1 1.5 0 1.5 0 1.5 0 1.5 .1 1.5-.1 1.5-.1 1.5 0 1.5-.1 1.5 .1 1.5 0 1.5 0 1.5 0 1.5 0 1.5 .1 1.5 0 1.5 0 1.5-.1 1.5-.1 1.5 .1 1.5 0 1.5 0 1.5-.1 1.5 .1 1.5-.1 1.5 .1 1.5 0 1.5 0 1.5-.1 1.5 0 1.5-.1 1.5 0 1.5 0 1.5 0 1.5 0 1.5 .1 1.5 .1 1.5-.1 1.5 .1 1.5 0 1.5 0 1.5-.1 1.5-.1 1.5 .1 1.5 .1 1.5 0 1.5 .1 1.5 0 1.5 .1 1.5-.1 1.5-.1 1.5-.1 1.5 0 1.5 0 1.5-.1 1.5-.1 1.5 0 1.5 .1 1.5 .1 1.5-.1 1.5 0 1.5 0 1.5 .1 1.5 0 1.5 0 1.5-.1 1.5 .1 1.5 .1 1.5 0 1.5 0 1.5-.1 1.5-.1 1.5 0 1.5 0 1.5 0 1.5-.1 1.5-.1 1.5 .1 1.5 .1 1.5 .1 1.5 .1 1.5 0 1.5 0 1.5-.1 1.5 .1 1.5-.1 1.5 .1 1.5-.1 1.5-.1 1.5 .1 1.5 0 1.5 0 1.5 0 1.5 0 1.5 .1 1.5 .1 1-.1 .1 .1 .3-.2 .1 0 .1-.1 .2-.1 .2-.1 .2-.1 .2-.4 .1-.4 .1-.2 .2-1.1 0-.2 .2-1.7 0-.2 .2-1.6 0-.5 .2-.8 .1-.1 0 0 .1 0 .1 .6 .1 .7 .2 1.2 0 .4 .2 1.6 0 0 .2 1.2 0 .1 .1 .1 .1 .4 .1 0 .1-.1 .1-.2 .1-.1 .2-.3 0-.1 .2-.3 0 .1 .2 0 .3 .4 0 0 .1 .2 .1 .4 .3 .5 .2 .4 .2 .3 .3 0 .2 0 .2 .1 .1 0 .2 0 .2 .1 .3 0 .7 .1 1.5 0 1.5 0 .1 0 .1 0 .3 0 .2-.2 .2-.1 .2-.3 .2-.9 .2-2.1 0-.3 .2-3.9 .2-6.9 .2-8.7 .2-8.6 .2-5.7 .1-.7 .1 .7 .2 5.8 .1 3.6 .1 4.9 .2 8.8 .1 1.9 .1 5.1 .1 1.9 .1 2.1 .1 1.5 .1 .7 .2 .8 0 .2 .2 .2 0 .1 .2 .1 0-.1 .1-.1 .1-.1 .1 0 .2-.1 0-.1 .3-.4 .2-.6 .3-.7 .2-.6 .2-.6 .3 .1 .2 .4 .3 .8 .2 .8 .2 .6 .1 .1 .2 .3 .2 .2 .3 .1 .2 .1 .2-.1 .3-.1 .1 0 .1 .1 1.4 0 1.5 0 1.5-.1 1.5 0 1.5 .1 1.5-.1 1.5 0 1.5-.1 1.5-.1 .1 .1 .3 0 .2-.1 .2-.1 .3-.1 .2-.3 0-.1 .2-.8 0-.3 .1 .1 .2-2.9 0-.2 .2-5.7 0-.3 .3-9.5 0-.4 .2-12.4 .2-12.7 .3-8.2 0-.4 .1-.7 0 .1 .1 .8 .2 3.4 .1 4.5 .1 5 .1 7.4 .1 3.3 .1 8.8 0 .4 .1 1.3 .2 7.7 0 .4 .2 4.7 0 .7 0 .2 .1 1.1 .1 .8 0 .4 .1 0 .1 .3 .1-.3 0-.1 .1-.5 .1-1.1 0-.2 .1-.6 .1-1.5 .1-.2 0-.2 0-.2 .2-1.4 0-.1 0-.1 .1-.1 .1 .2 0 .1 0 .1 .1 .1 .1 1.1 0 .2 .1 .5 0 .5 .1 1.4 .1 1.2 0 .5 .1 .8 .1 1.3 .1 .3 0 .4 .2 .7 0 .1 .2 .4 0 0 .1 0 .1-.2 .1-.1 .1-.2 .1-.2 .1-.4 .1-.2 .1-.4 .2-.3 .1-.2 .1-.4 .3 .1 .2 .4 .2 .6 .1 .2 .2 .6 .2 .5 .3 .3 .2 .2 .2 .1 .3 .1 .1-.1 .1 0 .3 0 .2 0 .8 0 .1-.1 .1 0 .3 0 .2 .1 .2 0 .2 .1 .1 0 .1 .1 .1 0 .1 0 .1 0 .1-.1 .1 0 .1-.2 .1-.1 .2-.3 0-.2 .1-.1 .1-.2 .1-.3 0-.1 .1-.3 .1-.3 .1-.1 .1-.1 .1-.3 0-.1 .1-.1 0 .1 .1-.2 .1 0 0-.2 .2 0 0-.1 .1 .1 .1-.2 0 .1 .1 0 .1-.1 .1 0 .1 .1 .1-.1 0 0 .1 0 .1 .1 .1 0 .1 .2 0-.1 .1 .1 0 .1 .1 0 .1 0 0 0 .1 0 .1 .1 .1-.1 .1 .1 .1 .1 0 .2 .1 .2 .1 .2 .1 0 0 .3 .1 .2 .1 0 .2 .4 0 .1 0 .2 .2 .4 .1 0 .2 .3 0 .2 .2 0 .1 0 .2 0 .2 0 .3 .1 0 0 .2-.1 .3 .1 1-.2 1.5 0 1.2 .1 .2 0 .1-.1 .1 .1 .3-.1 .2 0 .3 0 .2-.1 .2-.1 .2-.1 .1-.3 .2-.3 .3-.7 .2-.6 .2-.4 .3 0 .2 .3 0 .2 .3 .6 .2 .7 .2 .5 .3 .3 .2 .1 .3 .1 0 0 .2 0 .2-.1 .3 0 .2-.1 .6 .1 .7 0 .3-.1 .2 0 .3 0 0 0 .3-.3 .3-1 .2-3 .3-7 .3-14.3 .1-9.1 .1-13.6 .3-29.4 .3-29.2 .3-18.6 .1-2.7 .1 2.7 .3 17.6 0 .9 .3 29.1 .3 29.6 0 9.5 .2 13.3 .1 1.9 .2 10.8 0 1.5 .2 4.7 .1 2.2 .1 1.3 0 .3 .1 1.2 .1 .2 .2 .6 0 .1 .2-.3 .1-.4 .1-.6 .2-1.4 0-.4 .2-2.4 0-.5 .2-1.7 .1-.9 .1-.5 .1-.3 0 .1 .1 .2 .1 .5 .1 1 .1 1.6 .1 .7 .2 2 0 .2 .2 1.8 0 .1 .2 1 .1 .2 .1 .3 0 .1 .1 .1 .1 .1 .2 .1 0 0 .2-.2 0 0 .2-.3 0-.1 .3-.4 0-.1 .1-.3 .1-.1 .2-.3 0 0 .1 .1 .1 0 .1 0 .2 .1 0 .1 .2 .3 .1 0 .1 .3 .1 0 .2 .2 0 .2 .2 0 .1 .1 0 .1 .2-.1 0 0 .2-.3 .1-.2 .1-.3 .1-.1 .2-.4 .1-.1 .1-.3 .1-.1 .2 .1 0-.1 .1 .1 .1 .1 .2 .4 .3 .6 .2 .4 .3 .3 .2 .1 .2 0 0 0 .3 .1 .2 .1 .3 0 .2 0 .2 0 .2 .1 .1 .1 .1 0 .1-.1 .2 .1 0-.1 .2 0 .1-.1 .2-.1 0 0 .2-.1 0-.1 .2 0 .1-.1 .1 0 .1-.1 0 0 .2-.4 .1 0 .2-.5 0-.1 .2-.7 0-.1 .2-.8 .1-.2 .2-.4 0 0 .2-.1 0 .1 .1 0 .2 .4 0 .2 .2 .5 .1 .2 .1 .3 0 .4 .1 .1 .1 .5 .1 .2 0 .2 .1 .2 .1 .2 .1-.1 .1 .2 .1 0 0 0 0 0 .1 .1 .1 0 0 .1 .2 0 0 .1 .1 .1 .1-.1 .1 0 0 0 .1 0 .1 0 .1-.1 .1-.1 .1 0 .1-.1 .2-.1 0 0 .1-.1 .2-.1 .2-.2 .3-.1 .2 .1 .3 .3 .2 .1 .2 .1 .3 0 .2 .1 .3 .1 .2 0 .2 0 .1 0 .2 0 .2 .1 .1 .1 .3-.1 .2 .1 .2-.1 .3 0 0 .1 .2-.1 .2-.2 .1 .1 .2-.1 0 0 .2-.2 0 0 .2-.1 .1-.1 .2-.2 0-.2 .1-.1 .1-.1 .1-.1 .2-.2 0 .1 .2 0 0 0 .3 .1 0 .1 .2 0 0 0 .2 0 .1-.1 .1 0 .1 0 0 0 .2 0 0 0 .3-.1 0 .1 .2 .3 0-.1 .2 .3 .1 .1 0 .1 .2 .3 0 0 0-.1 .2 .2 0 0 0 0 .1-.1 .1 .2 .1-.1 0 .1 .2 .1 0 0 .2 0 .1 0 .2 0 0 0 .2-.2 .1 0 .2-.3 0 0 .2-.4 0-.1 .3-.5 .2-.5 .3-.4 .2 0 .2 .4 .1 .2 .2 .5 .2 .4 .3 .5 .2 .3 .2 .2 .3 0 .1 0 .1 0 .3 .1 .2-.1 .2 0 .7-.1 1.5 0 1.5-.1 1.5 0 1.5-.1 .7 .1 .3 .1 .2 0 .2 0 .1 0 .1 0 .2-.1 .2-.5 .2-1.1 .2-2.2 .2-3.6 .2-4.5 .2-4.4 0-.1 .2-2.7 .1-.4 .1 .5 .2 3 .2 4.5 .2 4.3 .2 3.6 .2 2.1 .1 .5 .1 .6 .2 .4 .2 0 .2 .1 .2 .1 .2-.1 .4 0 .2 0 .3 0 .2 .1 .3 0 .2-.1 .2-.1 .1 0 .2-.1 .2-.2 .2-.4 .3-.5 .2-.6 .3-.7 .1-.3 .1-.1 .2-.1 .3 .5 .2 .7 .3 .6 .2 .6 .2 .2 .1 .1 .2 .2 .2 .1 .3 .2 .2 .1 .2 0 .3 .1 0 0 1.5 0 1.5-.1 1.5 0 1.5-.2 1.5-.1 1.5-.1 1-.1 .2 .1 .1 .1 .2 0 0 .1 .1 .1 .1 .1 .1 .1 .2-.1 0 0 .2-.1 0-.1 .2-.1 .1-.2 .1-.2 .1-.2 .1-.3 .1-.8 .1-.4 0-.2 .2-1.6 0-.3 .2-2.4 0-.3 .2-2.1 0-.6 .2-1 .1-.4 0 .1 .1 .1 .1 .7 .1 .7 .2 1.7 0 .5 .1 1.2 .1 1.3 .2 2 .1 .3 .1 1 .1 .4 .1 .5 .1 .2 .1 .2 .2 .1 0 .1 .2 0 0-.1 .2 0 0 .1 .1-.1 .1 0 .1 0 .2 .1 .3 0 .7 0 1.5 0 1.5 .1 1.5 .1 1.5-.1 1.5 0 1.5 0 1.5 0 1.5 0 .9-.1 .3 0 .2 0 .1 0 .1 0 .3-.1 .2-.1 .3-.1 .2-.1 .2-.1 .2-.2 .1 .1 .2-.4 .3-.3 .2-.2 .3 .1 .2 .3 .2 .2 0 0 .3 .3 .2 .3 .2 .2 .3 .2 .2-.1 .3 0 0 0 0 0 .1-.1 .1 0 0-.1 .2 .1 .1 0 0 0 .1 .1 .1 0 0 0 .1-.1 .1-.3 .1-.1 0 0 .2-.8 0-.1 0-.1 .2-1.9 0-.3 0-.4 .1-1.2 .1-1.9 0-1.7 .1-.9 .1-4.3 .1-3.7 0-1.4 .1-3.6 .1-5.7 0-1.2 .1-1.7 .2-5.1 0-.6 0-.1 .1-.9 .1 .5 0 .3 .2 4.7 0 1.1 .1 1.2 .1 5.2 0 .4 .1 2.9 0 1.2 .1 3.8 .1 3.6 .1 .9 0 1.9 .2 2.7 0 .4 0 .5 .2 1.9 0 .2 .2 1.1 0 0 .1 .2 .1 .6 .1 .2 0 .1 .1 .4 .1 .3 0 .1 .1 0 0 .2 .2 .4 0 .1 0 0 .2 .4 0 0 .2 .4 .1 0 .2 .2 0 0 .2 .1 0-.1 .3-.2 0-.1 0 0 .2-.3 0-.2 .2-.6 .1-.1 .2-.6 0-.1 .3-.7 .2-.4 .2 .1 .1 .1 .2 .5 .2 .6 .2 .9 .3 .6 .2 .3 .3 .1 .1 .1 .1 .1 .3 .1 .2-.1 .2 0 .3 0 .4 .1 1.5-.1 .8-.1 .2 0 .3 .1 .2 0 0-.1 .2-.1 .1 .1 .2 0 .1 0 .1-.1 .1 0 .2-.1 0 0 .2-.3 0-.1 .2-.3 .1-.4 0-.4 .1-.4 .1-1.1 .1-1.2 .1-2.8 .1-1.3 .2-5.7 0-.6 .2-7.7 0-.8 .2-6.7 0-1.8 .2-2.9 .1-.4 0-.1 .1 .7 .1 2.9 .1 2.5 .2 6.3 0 1.6 .2 7.9 .2 6.4 .1 .8 .1 2.9 .1 .9 .1 1.1 .1 .6 .1 .2 .1 .2 .1 0 0 .1 .2-.1 0 0 .2 0 .1 .1 .1-.1 0 0 .2 0 .2 .1 .3-.1 .1 .1 .1-.1 .3 .1 .2 .1 .2-.1 .3-.1 .2-.2 .2-.4 .1-.1 .2-.5 .2-.2 .3-.2 .2 .3 .3 .3 .2 .5 .2 .3 .3 .1 .2 .1 .2 .1 .1 0 .1 0 .1 0 .1-.1 .1 .1 .1 0 .1 0 .1 0 .1 .1 .1 0 .2-.1 .2-.1 .2-.1 .3-.1 .2-.4 0-.1 .2-.5 .1 0 .2-.4 0 0 .1-.2 .1-.1 0 .1 .1 0 .2 0 0-.1 0 .1 .2 .1 0 0 .1 .1 .1 .4 .1 .1 0 .1 0 0 .2 .4 0 0 0 .1 .2 0 0-.1 .1 0 .2-.1 0 0 0-.1 .2-.5 0 0 .1-.1 .1-.8 .1 0 0-.1 .2-.8 0-.2 .1-.2 0-.3 .1-.4 0-.1 .1-.2 .2-.3 0 .1 0-.1 .2 .3 0 .1 .1 .1 .1 .7 .1 .3 .2 .9 0 .4 .2 .8 .1 .3 .1 .3 .1 .1 0 .2 .2 .2 .1 0 .1 0 .1 .2 .2 0 0 .1 .2 0 .1-.1 .2 0 0 0 .2 0 .1 0 .2-.1 .6 0 .3 0 .2 .1 .1 0 .1 0 .3 0 .2-.1 .3 0 .2-.1 .3-.3 .1-.3 .1-.2 .2-.8 .3-.7 .2-.5 .3 .1 .2 .3 .1 .1 .1 .4 0 .1 .1 .3 .2 .5 0 .2 .2 .3 .1 .2 .1 .3 .1 .1 .2 .1 .1 0 .1 0 .1 0 .2-.2 0 0 0 0 .2-.3 .1-.1 .2-.5 0-.2 .2-.5 .1-.3 .2-.9 .2-.5 .3 0 0 .1 .2 .5 .2 .4 .1 .5 .1 .4 .1 .5 .1 .1 .1 .5 .1 0 .2 .3 0-.1 .2-.3 0-.3 .1-.5 .1-.8 .1-1.2 .1-2.5 .1-3.5 .1-3.2 .1-8.4 .1-3.1 .2-13.6 0-.6 .2-14.3 0-1.9 .2-7.7 .1-1.1 .1 1.1 .2 9.5 .2 14.2 .2 14.4 .2 11.7 .2 6.7 .2 3.5 .2 1.5 .1 .3 .1 .3 .2 .1 .2 0 .2 .1 .8-.1 .8 0 .3 0 .2-.1 .2 .1 .1 0 .3 0 .3 0 .2-.3 .3-1 .3-1.8 0-.3 .2-2.8 .3-4.1 .3-4 .3-2.5 .1-.4 .1 .4 .2 1.3 .1 1.3 .3 4 .2 4 .3 3.1 .3 1.8 .3 .9 0 .1 .2 .3 .3 .1 .3 0 .3 0 .2 .1 .2-.1 .9 0 .2-.1 .2 0 .2 0 .1-.1 .2-.1 .3 0 .2 0 .2-.2 .3-.2 .2-.5 0 0 .3-.7 .2-.6 .2-.4 .3 0 .2 .4 .3 .6 0 .2 .2 .6 .2 .4 .3 .3 .2 .2 .3 .2 .2 0 .1 0 .1 .1 .3-.1 .2 0 .9 .1 1.5-.1 1.5-.1 1.5 0 1-.1 .1 .1 .3 .1 .1-.1 .1 .1 .2 0 .2-.2 .2-.4 .2-1.1 .2-2.2 .2-3.7 .2-4.7 0-.2 .2-4.5 .2-3.1 .1-.5 .1 .3 .2 3.1 .2 4.6 .1 3.4 .1 1.4 .1 2.8 .1 1.1 .1 .9 .1 .6 0 .5 .2 .7 0 .3 .2 .3 0 .1 .2 0 0 .1 .2-.2 0-.2 .2-.7 0-.4 .2-1.2 .1-.8 .1-2.3 0-.2 .2-3.6 .2-3.6 .2-2.5 .1-.4 .1 .4 .2 2.6 .2 3.8 .2 3.8 .1 1.3 .1 1.6 .2 1.7 .2 .8 .2 .3 .2 .1 .2-.1 .2 .1 .2-.1 .1 .1 1 .1 .2 0 .2 .1 0 .1 .3-.1 .2 .1 .2-.1 .3 0 .2-.3 .3-.1 0-.1 .2-.3 .3-.5 .2-.5 .2-.2 .3 .1 .2 .2 .1 .2 .1 .3 .3 .4 .2 .4 .3 .2 .2 .1 .3 .1 .1 0 .1 0 .2 0 .3 0 .2 .1 .7-.1 1.5 0 1.5 0 1.5 .1 1.5 0 1.5 0 1.5-.1 1.5 0 1.5-.1 .1 0 .3 0 .2-.1 .2 0 .3-.1 .2 .1 .2 0 .1-.1 .2-.2 .3-.3 .2-.5 .2-.7 .3-.9 .2-.4 0 0 .2-.1 .3 .3 0 .2 .2 .7 0 .1 .2 .7 .1 .1 .2 .6 0 .1 .2 .2 .1 0 0 .1 .1 .1 .1-.1 .2 .1 0-.1 .2 0 .1 0 .2-.3 0 0 .2-.3 0-.1 .2-.3 .1-.1 .1-.1 .1-.2 .2-.3 .3 0 .2 .3 .3 .4 .2 .5 .2 .3 0 .1 .1 .1 .1 .2 .1-.1 0 .1 .1 0 .1-.1 .1 0 .1 0 0-.1 .1 0 .1-.1 .1 0 0-.1 .1-.2 .1-.1 0 .1 0-.2 .2-.7 0-.1 0 0 .1-.6 0-.3 .1-1.2 0-.8 0-.3 .1-1.6 .1-1.8 .1-2.8 0-.5 .1-4.3 .1-5.6 0-.4 .1-3.4 .1-7.7 .1-.4 0-1.3 .2-6.3 0-.1 .1-.9 0-.3 .1 .5 0 .5 0 .2 .1 1.3 .1 3.1 0 .4 .1 2.4 0 .3 0 2.7 .1 3.2 .1 4.6 0 .5 .1 2.7 0 1.2 .2 5.2 0 .3 0 1.7 .2 3.9 0 .2 0 .3 .1 .7 .1 1.9 0 0 .1 .5 .1 .6 .1 .1 0 .1 0 .2 .1 .2 .1 .2 0 0 0 0 .1 .1 0 .1 .1 0 .1 0 0 .1 0 0 .2 0 0 0 .1 0 0 0 .1-.2 0 0 .1 0 .2-.1 0 0 0-.1 .2 .1 0 .1 .1 0 0 .1 .2 .3 0-.1 0 .1 0 .1 0 0 .2 .5 0 0 .1 .1 0 .1 .1 .3 .1 0 0 0 .1 0 .1 .2 0 0 0 .1 .1 .2 .1 0 .1 .2 0 0 0 .1 .2 0 0-.1 .1-.1 .2 0 0 0 0 0 0 0 .2-.2 0 0 .1-.1 .1-.3 0-.1 .1-.2 .2-.5 0-.1 0-.2 .2-.7 0-.1 .1-.2 .1-.6 .1-.2 .2-.2 .1-.1 0 0 .1 .2 .1 0 .2 .5 0 .2 .2 .5 .1 .2 .2 .6 0 .2 .2 .6 .1 .1 .1 .3 .1 .1 .1 .1 .1 .1 0 .2 .2 .1 .1 0 .2 .1 0 .1 .2 0 .1 0 .1-.1 .1 0 .2 .1 .2-.1 .1 0 1.4 0 1.5 0 1.5 .1 .2 0 .3 0 .2 0 .3-.2 .3-.5 .2-1.3 .1-.6 .2-4.9 .3-12 .3-24.5 .2-38.5 .3-50 .1-15.4 .2-34.1 .3-31.7 .1-4.6 .1 4.6 .3 31.7 .3 49.6 .2 41.5 .1 8.7 .2 38.5 .3 24.6 .3 12 .2 4.8 .3 1.7 .1 .3 .2 .1 0 0 .3 .1 .2-.1 0 0 .2 0 .2-.1 .1 .1 0 .1 .2-.2 .1 .1 0 .1 .2-.1 .2-.2 0-.1 .2-.4 0-.1 .2-.6 .1-.8 .1-1 .1-1.9 .1-1.1 .2-3.9 0-.8 .1-2.9 .1-2.4 0-.3 .2-4.6 0-1 .2-1.9 .1-.2 0 .2 .1 .6 .1 1.9 .1 2 .2 4 0 1.5 .2 5.2 0 .2 .2 4 0 .3 0 .3 .2 2.2 .1 .4 .1 .7 .1 .3 .1 .2 .2 .1 0 0 .2 .1 0 0 .2 .1 .3-.1 0 0 0-.1 1 0 .1 .1 .3 0 .1-.1 .1 0 .2 0 .2 0 .2-.3 .2-.7 .2-1.3 .2-2.2 .2-2.8 0 0 .2-2.6 .2-1.9 .1-.2 0 0 .1 .3 .1 1.1 .1 .6 .2 2.5 0 .1 .2 2.8 0 .3 .2 1.9 .1 .4 0 .3 .1 .7 .1 .5 .1 .3 .2 .1 0 0 .2 0 0 0 .2-.2 0-.1 .2-.3 .1-.1 .1-.4 .1-.2 .1-.3 .1-.4 .3-.3 .2 .1 .3 .4 .2 .7 .3 .6 .1 .3 .1 .2 .2 .3 .3 .1 .2 .1 .3 0 .2 0 .2 0 0 .1 .3-.1 1.2 .1 1.5-.1 1.5 0 1.5 0 .6 0 .1 0 .3 0 .2 0 .2 0 .1-.2 .1 0 .2-.3 .2-.5 .2-1.1 .2-1.7 .2-2.1 .2-2.1 .2-1.4 .1-.2 .1 .1 .2 1.5 .2 2.1 .2 2.1 .2 1.7 .2 1.1 .2 .5 .1 .2 .1 .1 .2 0 .2 0 .2-.1 .3 0 .2 0 .2 .1 .1-.1 .2 .1 .2 .1 .2 0 .3 0 .2-.2 .3-.2 .1-.1 .1-.1 .2-.6 .3-.4 .2-.4 .3 0 .2 .3 .2 .3 .1 0 .2 .6 .2 .4 .3 .3 .2 .1 .2 0 .3-.1 0 0 .2 0 .3 0 .2-.1 .4 .1 .1-.1 .3 0 0 .1 .2 0 .2-.1 .2 0 .2-.4 .2-1 .2-2 .2-3.3 .1-2.2 .1-1.9 .2-4.1 .2-2.6 .1-.3 .1 .4 .2 2.8 .2 4 .2 4.2 .2 2.9 0 .2 .2 1.8 .2 1 .2 .4 .2 .1 .2-.1 .2 .2 .3-.1 0 .1 1.5-.1 1.5 0 1.5 0 1.5 0 1.5 0 1 .2 .3-.1 .2 .1 0 .1 .3 0 .3-.2 .3-.2 .2-.7 .3-1.2 .1-.9 .2-2 .3-4.5 .2-5.8 .1-3.1 .2-2.9 .1-1 .2-2.7 .1-.6 .1 0 0 .1 0 .3 .2 1.3 .1 1.8 .1 .9 .2 2.2 0 .1 .2-.6 .1-1.5 .1-4.7 .1-8.4 .1-5.4 .2-19.1 0-1 .1-10.2 .1-8.4 .1-6.4 .1-6.9 .1-1.6 0 .3 .1 1.5 .2 14 .2 20.9 .1 7.7 .1 13.3 .2 12.8 0 4.1 .2 9.2 0 .8 0 .3 .2 4.9 .2 2.2 .2 .8 .2 .4 .2 0 .2 0 .3 0 1.5 0 1.5 0 1.1-.1 .3 0 .1-.1 .1 .1 .3-.2 .3-.9 .3-3.4 .2-9 .3-21.9 .3-45.2 .3-71.5 0-22.6 .2-70.2 .1-14.3 0-28.5 .2-49 0-3 .1-21.8 .1-31.4 .1-2.4 0-5.8 .1-2.9 .1 2.6 0 5.6 .1 2.4 .1 30.3 .1 21 0 2.8 .2 43.2 0 29.5 .1 13 .1 34.7 .1 25.8 .1 17.7 0 17.5 .1 15.4 .1 11.5 .1 3.8 .1 3.5 .1-1.9 .1-5.3 .1-9.9 .1-2.2 0-4.5 .2-6.5 0-1.2 .1 0 0 .2 .1 4.3 .1 6.6 0 .9 .2 15.7 .1 12.4 0 1.5 0 2.9 .1 18.3 0 7.6 .1 7.6 .1 8.7 0 9.8 .1 3.9 0 5.1 0 4.9 .1 9.8 .1 2.9 0 1 .1 9.1 .1 5.7 0 2 .1 4.3 .1 1.4 0 1.5 .2 .8 0-.1 .1-.9 .1-2.2 0-.5 .1-5 .1-3.3 0-4 .2-9.5 0-2.6 .1-8.9 0-2.2 .1-9.5 0-1.1 .1-12.6 .1-6.7 0-4.4 .2-7.5 0-1.7 .1-1.7 .1 1.7 .2 13.7 .2 20.4 .2 20.6 .2 15.2 0 1.4 .2 9.6 .2 5 .2 2 .2 .7 .1 0 .1 .2 .1 0 .1 .2 .1 0 .2 0 0 .1 0 0 0 .1 .2-.2 .1 0 .1-.1 .1-.1 .1-.2 .1-.7 .1-.3 .2-1.7 .2-3.1 0-.6 .2-3.3 .1-1.3 0-.7 .1-1.7 .1-1.6 .1-.9 .1-.4 0 0 .1 0 .2 1.7 0 .4 .1 1 .1 2.3 0 .3 .1 1.9 .1 1 .1 .6 .1 1.8 .1 .5 .1 .4 0 0 .1 .2 0 0 .1-.2 .2-.9 0-.1 0-.7 .2-4.2 0-.2 .2-10.1 .1-1.3 0-2.9 .1-13.1 .1-6.9 .1-10.8 0-10.9 .1-15.8 .2-22.2 0-11 .1-18.5 .1-34.2 .1-24.7 .2-38.5 .1-13.6 .2-26.8 0-2.8 .1-3 .1 5.9 .3 34.3 0 5.9 .2 43.4 .1 19.8 .3 63.8 .2 49.2 .3 31.1 .3 15 .2 6.3 .1 .8 .2 1.4 .3 .7 .3 .1 .2 .1 .5 0 1.5 .2 1.5 0 .8 0 .3 .1 .2 0 .2 0 0 .1 .2-.1 .2-.1 .2-.3 .2-.7 .2-1.2 .2-2.3 .2-2.7 .1-1.5 .1-1.1 .2-1.7 .1-.2 .1 .1 .2 1.9 .2 2.7 .2 2.8 .2 2.1 .2 1.1 0 0 .2 .7 .2 .3 .2 .1 .2-.1 .2 .1 .2-.1 .1 .1 .2 0 .1-.1 .2-.1 .2 .1 .2-.2 .2 0 .2-.6 0-.4 .2-.9 .1-.9 .1-1.6 0-.2 .1-2.1 .1-1.8 .1-4.1 .1-1.1 .2-4.2 0-.9 .1-2.9 .1-.5 0-.2 .1-.3 .1 .1 0 .2 .1 .8 .1 1.4 0 1 .1 2.4 .1 1.6 0 1.1 .1 2.2 .1 1.3 0 .3 0 1 .2 2.7 0 .2 0 .3 .2 .9 0 0 0 .1 .2-.7 0-.5 .1-.4 .1-1.7 0-.6 .1-1.3 .1-1.6 0-.8 .1-2 .1-.6 0-.6 .2-1.4 0-.1 0-.1 .1 0 .1 .6 0 .3 0 .2 .2 2.4 .1 1.1 .1 3 .1 2 .1 1.7 .2 2.3 0 .8 .2 1.6 0 .2 .2 .9 .1 .1 0 .2 .1 .1 .1 .1 0 .1 .1 0 .1 0 0 0 .1 .1 .1 0 .1 0 0 0 .2 .1 0 0 .1 0 .2-.1 .2 0 .1-.1 .1 0 .3-.3 .2-.4 .3-.8 .2-.6 .2-.5 .2-.2 .1 0 .2 .1 .3 .2 .2 .3 .2 0 .3 0 .2 .1 0 0 .3 .4 .2 .4 .2 .4 .3 .3 .2 .3 .3 .1 0 .1 .2 0 .2 0 .3 0 .2 0 .3-.1 .3 .2 1.5-.1 1.5-.1 1.5 0 .3-.1 .3 .1 .2 0 .3-.1 .2 0 .2 0 0 0 .3 0 .2 0 .2-.1 .3-.2 .2-.2 .3-.3 0 0 .2-.1 .3 0 .2 .2 .2 .3 .3 .2 .2 .3 .1 .1 .1 .1 .3 .1 .2 0 .3 .1 .2 .1 .2 0 .2 0 .1-.1 1.4 0 .7-.1 .3-.1 .2 0 .2-.1 .1 .1 .1 .1 .2-.1 .2-.1 .2-.2 .2-.6 .2-.9 .2-1.2 .2-1.2 0 .1 .2-.8 .1 0 .1 .1 .2 .7 .2 1 .2 1.3 .2 .8 .2 .6 .1 0 .1 .2 .2 .1 .2 .1 .2 0 .2 .1 .2 0 .4 .1 1.1-.1 .3 .1 .1 0 .1 0 .3 0 .2-.1 .2 .1 .3 0 .2-.1 .1-.1 .1-.1 .1-.1 0 0 0-.1 .2-.2 0 0 .1 0 .2-.2 0 0 0 0 .2-.2 0-.1 .1-.1 .1 0 0 0 .1-.1 .1-.2 .1 0 0 .1 .1 0 .1-.2 0-.1 .1-.1 0-.1 .1-.5 .1-.2 0-.3 .2-1 .1-.4 .1-1.1 0-.3 .1-.5 .1-.9 .1-.6 0-.4 .1-.3 .1-.3 0 0 .1 .1 0 .2 .2 .7 0 .3 0 0 .2 1.5 0 .2 0 .5 .2 1.4 0 .2 .1 .6 .1 1 .1 .4 0 .3 .1 .4 .1 .3 .1 .2 0 .1 .2 .2 0 0 .2 0 .1 0 0 0 .1-.1 .1 .1 .1-.1 .1 0 .2 0 .1 0 .2 0 .2 .1 .4 0 1.5 .1 1.5-.1 1.5 .1 .8 0 .3 0 .2 0 .2-.1 0-.1 .2 0 .2-.1 .2-.2 .2-.6 .2-1.2 .1-.7 .1-1.2 .1-1.5 .1-1 .1-1.5 .1-.7 0-.4 .2-1.6 0-.1 .1-.2 .1 .3 0 .2 .2 1.5 .1 .7 .1 1.8 .1 1.2 .1 1.1 .1 1.4 .1 .5 .2 .9 0 0 0 .1 .2 .2 .2-.2 .1 0 .1-.2 .1-.2 .1-.3 .2-.2 0 .1 .2 .1 0 0 .2 .2 .1 .1 .2 .4 .2 .6 .2 .3 .3 .2 .1 0 .1 .1 0-.1 .3 .1 0 0 .1 0 .1 0 0-.1 .2 .1 0 0 .2-.1 .1 .1 .1 .1 .1 0 .1 0 .2-.3 .2-.5 .2-.5 0-.2 .2-.6 .2-.4 .1-.1 .1 0 .2 .4 .2 .5 .2 .7 .2 .5 .1 .1 .1 .3 .2 .2 .2 0 .2 .1 .2 .1 .2 0 .2 .1 .2-.1 1.5 0 1.5 .1 1.5-.1 1.5 0 1.5 0 1.5-.2 1.5 .1 1.5-.1 1.5 0 1.5 .1 1.5-.1 1.5-.1 1.5 .1 1.5 0 1.5 .1 1.5-.1 1.5-.1 1.5 .1 1.5 .1 1.5 0 1.5-.1 1.5 0 1.5 0 1.5 .1 1.5 0 1.5-.1 1.5 0 1.5 0 1.5 0 1.5 .1 1.5-.2 1.5 0 1.5-.1 1.5 .1 1.5 0 1.5 0 1.5 0 1.5 0 1.5 .1 1.5 .1 1.5-.1 1.5 0 1.5 0 1.5-.1 1.5 .1 1.5 0 1.5 0 1.5 .1 1.5-.1 1.5 .1 1.5 .1 1.5-.1 1.5 0 1.5-.1 1.5 0 1.5 0 1.5-.1 1.5 0 1.5-.1 1.5 0 1.5 0 1.5 .1 1.5 0 1.5 .2 1.5 0 1.5 0 1.5 .1 1.5 0 1.5 0 1.5-.1 1.5-.1 1.5 0 1.5 0 1.5-.1 1.5 0 1.5 0 1.5 .1 1.5 0 .9 0 .6 0 .8 0 .7 0 .7 0 .8 0 .6-.1 .9 .1 .5 0 1-.1 .4 0 1.1 0 .3-.2 1.2-.2 .2 0 1.3-.4 .1 0 1.4-.7 1.4-.8 .1 0 1.3-.6 .2-.2 1.2-.5 .3 0 .4 0 .7 .2 .4 .1 1 .4 .5 .3 .9 .5 .6 .4 .8 .4 .7 .3 .7 .3 .8 .2 .6 .2 .9 .2 .5-.1 1 .2 .4 0 1.1 0 .3 0 1.2 0 .2 .1 1.3 0 .1 0 1.4 .1 1.5 0 1.5 0 1.5 0 1.5-.1 1.5 .1 1.5-.1 1.5-.1 1.5 0 1.5-.1 1.5 .1 1.5 .1 1.5 0 1.5 0 1.5-.1 1.5 .1 1.5 .1 1.5-.2 1.5-.1 1.5 .1 1.5 .1 1.5 .1 1.5 .1 1.5-.1 1.5 .1 1.5 .1 1.5-.1 1.5-.1 1.5 0 1.5 0 1.5 0 1.5-.1 1.5-.1 1.5 0 1.5 .1 1.5 0 1.5-.1 1.5 .1 1.5 .1 1.5 0 1.5 .1 1.5 0 1.5-.1 1.5 .1 1.5-.1 1.5 0 1.5 0 1.5 0 1.5-.1 1.5-.1 1.5 0 1.5 0 1.5-.1 1.5 0 1.5-.1 1.5 .1 1.5 .1 1.5 0 1.5 0 1.5 0 1.5 .1 1.5 0 1.5-.1 1.5-.1 1.5 0 1.5 0 1.5 .1 1.5 0 1.5 .1 1.5 .1 1.5 .1 1.5 0 1.5 .1 1.5-.1 1.5 0 1.5 0 1.5 0 1.5-.1 1.5 0 1.5 0 1.5-.1 1.5 0 1.5 0 1.5-.1 1.5 .1 1.5-.1 1.5 0 1.5 0 1.5 .1 1.5-.1 1.5 0 1.5 .1 1.5 0 1.5 0 1.5 .1 1.5-.1 1.5 0 1.5 0 1.5-.1 1.5 0 1.5 0 1.5-.1 1.5 0 1.5-.1 1.5 .1 .6 0 0 2.4"/></defs>
<use href="#tr3" fill="url(#ga)" clip-path="url(#gac)"/>
<line x1="328.4" y1="624.3" x2="328.4" y2="651.6" stroke="#7570b3" stroke-width="1.0" stroke-opacity="0.75"/>
<use href="#tr3" fill="none" stroke="#7570b3" stroke-width="1.8" stroke-linejoin="round"/>
<defs><path id="tr4" d="M266.6 730.7l0-2.1 1.5 0 1.5-.1 1.5 0 1.5-.1 1.5 0 1.5 0 1.5-.1 1.5 .1 1.5 .1 1.5-.1 1.5 .1 1.5 0 1.5 0 1.5 .1 1.5-.1 1.5 0 1.5 0 1.5 0 1.5 0 1.5 .1 1.5 0 1.5 0 1.5 .1 .1 .1 .6 0 .6-.1 .2-.1 .4 0 .6 0 .5-.1 .1 0 .6-.1 .6-.1 .2-.1 .4 0 .6-.2 .5-.3 .1-.1 .6-.4 .6-.2 .2 0 .1-.1 .3 0 .6 .2 .5 .3 .1 .1 .6 .4 .6 .2 .2 .2 .4 .1 .6 .1 .5 0 .1-.1 .6 .1 .6 .1 .2-.1 .4 0 .6 .1 .5-.1 1.5 .1 1.5-.1 1.5 0 1.5 0 1.5 0 1.5-.1 1.5 .1 1.5 0 1.5 0 1.5 0 1.5 0 1.5-.1 1.5 0 1.5-.1 1.5-.1 1.5 0 1.5 0 1.5 0 1.5 0 1.5-.1 1.5 .1 1.5 .1 1.5 0 1.5 0 1.5 0 1.5 .1 1.5 0 1.5 0 1.5 0 1.5 0 1.5 .1 1.5 0 1.5 0 1.5 0 1.5 .1 1.5 0 1.5 0 1.5 0 1.5 .1 1.5 0 1.5 0 1.5-.1 1.5 0 1.5-.1 1.5-.1 1.5-.1 1.5 0 1.5-.1 1.5 0 1.5 .1 1.5-.1 1.5 .1 1.5 .1 1.5 0 1.5 0 1.5 .1 1.5 0 1.5 .1 1.5-.1 1.5-.1 1.5 0 1.5 0 1.5 0 1.5 0 1.5-.1 1.5 .1 1.5 .1 1.5 0 1.5 .1 1.5-.1 1.5 0 1.5 0 1.5 0 1.5-.1 1.5 .1 1.5 0 1.5 .1 1.5 .1 1.5-.1 1.5 0 1.5 .1 1.5 0 1.5 0 1.5 0 1.5 0 1.5-.1 1.5 0 1.5 0 1.5-.1 1.5 0 1.5 0 1.5 0 1.5 0 1.5 .1 1.5-.1 1.5 0 1.1 0 .2 0 .2 0 .1 0 .2 0 .2 0 .2-.1 .2-.1 .2-.4 .2-.8 .2-1.3 0-.1 0-.4 .2-1.1 .1-.9 .1-.9 .1-.9 .1-.3 .1-.2 .1 0 0 .1 .2 1.2 .2 1.7 .1 .4 .1 1.3 .1 .6 0 .1 .1 .6 .1 .4 .1 .1 .2 .1 0 0 .2-.1 0 0 .2-.5 .1 0 .1-.4 .1-.1 .1-.3 .1-.2 .1-.1 0 .1 .2 0 .2 .4 .3 .6 .2 .5 .2 .4 .3 .3 .1 0 .1 .1 .2 0 .3 0 .2 .1 .3 0 .2 .1 .2 0 1.5 0 1.3 .1 .2 0 0-.1 .1 0 .1 .1 .1-.1 .1 0 .1 0 .2 0 .1-.1 .1-.1 .1-.3 .2-.4 .1-.5 .1-1.2 .1-1 0-.2 .1-2.2 .1-2 .2-4.1 .1-2.9 .1-5.8 .1-3.1 .2-6.4 0-3 .2-4.5 .1-1.5 .1-.9 0 .1 .1 .6 .1 1.4 .1 1.9 .1 2.3 .1 6 .1 3.2 .2 6.4 0 2.5 .2 5.4 .1 1.9 .1 3.5 .1 1.2 .2 1.8 0 .5 .2 .7 0 .2 .1 .1 .2 .3 0 0 .2 .1 .1 0 .1 0 .1 0 .2 .1 0 .1 .2 0 .3 0 1.5-.1 .2 .1 .2 0 .3 0 .2 0 .2 0 .3-.1 .1 .1 .1 0 .3-.1 .2-.2 .2-.4 .3-.3 .2-.3 .2-.2 .1-.1 .2 0 .2 .2 .1 .1 .2 .2 .1 .1 .1 .4 .1 .1 .2 .2 0 .1 .2 .2 .1 0 .1 0 .1-.1 .2-.1 .1-.1 .1-.1 .1-.2 .2-.1 0 0 .2-.2 .1-.2 .1-.2 .1-.1 0 0 .3-.5 .2-.4 .2 .1 .3 .3 .2 .5 .3 .5 0 .1 .2 .3 .2 .3 .3 .1 .2 .1 .3 0 .2 0 .1-.1 .1 0 .3 0 1.1 0 1.5 0 1.5 0 1.5 0 .3 0 .3 0 .2 .1 .3 0 .3-.3 .1-.2 .2-.6 .2-1.9 .3-4.7 .3-9.8 .3-15.4 .2-18.5 0-1.6 .3-19.7 .2-8.7 .1-3.9 0-1.5 .1-.3 .1 1.9 .1 .5 .2 9 0 2.9 .2 11.4 .1 8.3 .1 6.9 0 2.3 .1 10.6 .1 1.2 .2 11.4 0 1.6 .2 5.1 .1 1.5 0 .5 .1 .7 .1 .2 .1-.2 0-.1 .1-1.3 .1-.5 0-.4 .2-.9 0-.1 .1-.2 0-.1 .1 .4 0 .2 .2 1.6 0 .4 .1 .8 .1 2.5 .1 1 0 .6 .1 1.8 .1 1.5 0 .1 .1 .8 .2 1.1 0 .2 .2 .5 0 0 .2 0 0 0 .1 0 .1-.3 .1-.1 .1-.2 .1-.1 .1-.1 .2-.1 0 .1 .2 .2 .3 .5 .2 .4 .2 .4 .3 .3 .2 .2 .3 .1 .2 0 .2 0 .1 0 .2 0 .2 0 1.1 0 1-.1 .3 .1 .2 .1 0 0 .3-.1 .2 0 .2 0 .3-.1 .2-.1 .3-.2 0 0 .2-.2 .2-.5 .3-.4 .2-.2 .3 0 .2 .2 .1 .2 .1 .2 .3 .4 .2 .4 .3 .1 .2 .1 .2 .1 .2-.1 .1 0 .2 0 .3 0 .2 .1 .7-.1 1.5 0 1.5 0 1.5 0 1.5 .1 1.5 .1 1.5-.1 .5 .1 .3 0 .2 0 .2 0 .1 0 .1-.1 .1 .1 .2 0 0-.1 .2 0 .1-.1 .2-.1 0 0 .2-.2 .1-.1 .2-.2 0-.1 .1-.2 .1-.2 0-.1 .1-.1 .1-.3 0-.2 .1-.1 .1-.4 .1-.1 0-.1 .2-.4 0 .1 .1-.1 .2-.3 0-.1 0-.1 .2-.6 0-.2 .1-.2 .1-1.3 .1-.6 0-.8 .1-1.2 .1-1.6 0-1.3 .1-2.6 .1-4.8 .1-2.7 .1-7.6 0-5.4 .1-4.2 .2-14.7 0-4.4 0-5.6 .2-21.9 0-1.2 .1-6.2 .2-22.3 0-2 0-3.1 .2-14.4 0-.6 .1-2.5 .1-2.9 .1 .4 0 1.1 0 1.5 .2 9.3 .1 11.2 .1 4.3 0 9.2 .2 14.7 0 3.8 .1 11.1 .1 10.8 0 10.1 .2 11.2 .1 13.6 .1 3.5 0 1.9 .2 8.9 0 1.3 .2 5.2 .1 2 .1 1.2 .1 .5 .1-.1 .2-1.3 0-.1 .2-2.2 .1-1.2 .1-1.3 .1-1.1 .1-.4 0-.2 .1-.3 .1 .3 0 0 .2 1.6 .2 2.7 .2 2.7 .2 2.2 .2 1.3 .2 .6 0 .1 .2 .4 .2 .1 .2 0 .2 0 .2 .1 .5 0 1.5 0 1.5 0 .1-.1 .2 .1 .1-.1 .1-.1 .2 0 .1 0 .1-.1 .1 0 .2-.1 .1-.1 .1 .1 .1 0 .2-.2 0 0 .2-.1 .1-.1 .1-.2 .1-.2 .2-.4 .1-.3 .1-.6 .1-.4 .2-.5 0-.3 .1-.3 .1-.3 .1-.2 .1-.2 .1 0 .2 .2 .1 .3 .1 .5 .1 .3 .1 .7 .1 .5 .2 .6 .1 .2 .1 .3 0 .1 .1 .1 0 0 .2 .3 0 0 .1 0 .1 0 .1 0 0 0 .2 0 0 .1 0 0 .2 .1 0 0 .1 .1 .1 0 .1 .1 0 0 .2 0 0-.1 0 0 .2 0 .1-.1 0 0 .2-.1 0-.1 .2-.1 .1 .1 .2-.3 0 0 .2-.3 0 0 .3-.1 0 0 0-.1 .2 0 0 0 .2 .2 .1 0 .2 0 0-.1 .2-.1 0 0 .3-.2 0-.1 .2-.4 0 0 .1 0 .1-.1 .1 .1 .2 .1 0 0 .2 .3 0-.1 .3 .3 0 .1 .2 .4 0 0 .2 .3 .1 0 .1 .2 .1 .1 .2 .1 .3 0 .2 0 .3 0 .2 .1 .2-.1 0-.1 1.5 .1 1.5 0 0 .1 .3 0 .2 0 .2 0 .2 .2 .1-.1 .2-.1 0 .1 .2-.1 0-.1 .1 .1 .1-.1 .1-.2 .2-.1 0-.1 .2-.3 .1 0 .2-.4 0-.1 .2-.3 .1-.1 .1-.4 .1 0 .1-.2 .1 0 0-.1 .2-.2 .1 0 .2 0 0 0 .2-.1 .1 0 .1 .1 .1-.1 .2 .3 0 0 .2 .2 0 0 .1 .1 .2 .3 0 .2 .2 .3 0 0 .2 .3 .1 .2 .2 .1 0 .1 .2 .2 .1 .1 .2 .2 0-.1 0 0 .2 .2 .1 0 .1 0 .1 0 .2 0 0 .1 .3 0 .2 0 .2-.1 .1 0 1.5 0 1.3-.1 .1 0 .1 0 .2-.1 .2 0 .2 0 .2 0 .2-.2 .2-.3 .2-.7 .1-.7 .1-.5 .2-1.4 .2-1.5 .2-.9 .1-.2 .1 .1 .2 .9 .2 1.5 .2 1.4 0 .1 .2 1.3 .2 .6 .2 .4 .2 .2 .2 0 .2-.1 .2 .1 .1 0 .1 .1 .9-.1 .3 .1 .2 .1 0 0 .2-.1 .2 0 .2-.2 .2-.6 .2-1.3 .2-2.6 .2-4.4 .1-2.9 .1-2.5 .2-5.5 .2-3.5 .1-.5 .1 .5 .2 3.6 .2 5.4 .2 5.4 .2 4.1 0 .2 .2 2.6 .2 1.3 .2 .6 .2 .2 .2 0 .2 0 .2 .1 .1 0 0-.1 .2-.1 .2 0 .3-.1 .2 0 .3 0 .2 0 .1 0 .1-.1 .3-.1 .2-.4 .3-.5 .2-.4 .2-.4 .2 0 .1 0 .2 .2 .3 .6 .2 .5 .2 .3 .3 .3 .2 .2 0 .1 .3-.1 .2 0 .2 0 .3 0 .2 0 0-.1 .2-.1 .1 .1 .2 0 .2 0 .2 0 .3 0 .2-.1 .3-.1 .1-.2 .1-.3 .2-.5 .3-.8 .2-.8 .3-.6 .2 .1 .2 .5 0 .1 .3 .8 .2 .8 .3 .7 .2 .4 .2 .1 .3 .1 0-.1 .2 .1 .3 .1 .2-.1 .2-.1 .6 0 1.5 0 1.5 .1 0-.1 .3 0 .2-.1 .3 0 .2 .1 .3 0 .1-.2 .1-.1 0 .1 .2 0 0 0 .2-.2 .1-.1 .1-.1 .1-.2 .1-.1 .1-.5 .1 0 .2-.6 0 0 .2-.8 0-.2 .1-.4 .1-.4 .1-.6 .1-.9 .1-.9 .1-.7 .2-1.2 0-.2 .2-.8 0 0 .1 0 .1 .3 0 .1 .2 1.3 .1 .6 .1 1.3 0 .1 .1 1.1 .1 1 .2 1.1 0 .5 .2 .8 0 .2 .2 .5 .2 .2 .1 0 .1 .1 .1 0 .1 .1 .1-.1 .1 .1 .3 0 .1-.1 .3 .1 .2-.1 .3 0 .2 0 0 0 .3 0 .2 0 .2-.1 .3-.2 .2-.3 .2-.5 .1-.1 .2-.3 .2-.3 .3 .1 .2 .2 .2 .5 .3 .4 .1 .2 .1 .2 .3 .2 .2 0 .3-.1 .2 0 .2 0 .2 0 .1-.1 .2 0 .1 0 .1 .1 .3 0 .2 0 .2-.1 .2 0 .1-.1 .1-.2 .2-.2 .2-.5 .2-.8 .2-1 .2-.9 .2-.7 .1 0 .1 0 .2 .7 .2 1 .2 1 .2 .8 .2 .5 .2 .2 .2 .1 .1 .1 .1 0 .2 .1 .2 0 .3 0 .7 .1 1.5 .1 1.5 0 .7-.1 .3 0 .2 0 .2-.1 .1 .1 .2-.1 0 0 .2 0 0 0 .3 .1 0 0 .2-.2 0 .1 .2-.2 .1 0 .2-.4 0-.1 .1-.2 .1-.4 0 0 .3-.7 0 0 .2-.6 0 0 .2-.7 .1 0 .2-.5 0 0 .2-.2 0-.1 .2 0 .1 0 0 .1 .2 .4 0 0 .1 .4 .1 .3 0 .1 .1 .4 .2 .4 0 0 .1 .2 .1 .4 0 .1 .1 .1 .2 .3 0 .1 .2 .1 0 0 0 0 .2-.7 0-.6 .1 0 .1-1.6 .1-1.8 0-.2 .1-2.1 .1-4.4 .1-2.6 .1-3.7 .1-3.6 0-1.4 .1-6 .1-2.8 0-.4 .2-4.8 0-.7 0-.5 .1-.2 .1 .8 .2 5.7 0 1.3 .2 7.4 .1 3.3 .1 5.6 .1 4 .1 3.1 .2 3.1 0 .9 .2 1.8 0 .1 .2 .3 0-.1 0 0 .2-.3 .1-.2 .1-.3 .1-.2 .1-.2 .2-.1 .1-.2 .1 0 .2 .5 .3 .6 0 .1 .2 .6 .3 .5 .2 .3 .2 .2 .3 0 .2 0 .1 .1 .2 0 .2 0 .2 0 .9 0 1.5 .1 1.1 0 .3 0 .1-.1 .1 .1 .2-.1 .3 .1 .2 0 .3-.1 .2-.2 .2-.3 0-.1 .3-.5 .2-.7 0 0 .3-.6 0 0 .2-.3 0 0 .2-.1 0 0 .2 .1 .1 .1 0 0 .1 0 .1-.1 .1-.2 .2-1.2 0-.2 .2-3.6 0-.4 .2-6.2 0-1.9 .2-6.5 .1-3.9 .1-4.6 .1-4 .1-1.6 .1-.7 .1 .2 0 .5 .2 5.2 0 .4 .2 8.5 0 1.4 .2 7.2 .1 2.6 .1 4.3 .2 4 .2 2.2 .1 .5 .1 .4 .2 .3 .2 0 .2 .1 .2 0 .6 0 1.5 .1 .4-.1 .1 .1 .3 0 .2 0 .2-.1 .2-.1 .1-.1 .1 0 .2-.4 .2-.6 .2-1.2 .2-1.4 .2-1.4 .2-1 .1-.1 .1 .1 .2 .9 .2 1.5 0 .3 .2 1.2 .1 .5 .1 .6 .1 .4 .1 .2 .2 .2 0 .2 .2 0 0 .1 .1 .1 .1 0 0 0 .2 .1 .1-.1 .1 0 .1-.1 .2-.2 .1-.2 .2-.4 .3-.7 .1-.4 .1-.3 .2-.4 .3 0 .2 .4 .2 .6 .3 .6 .2 .5 0 0 .3 .3 .2 .2 .3 .1 .2 0 .2 0 .3 0 0 .1 .2 0 1.3-.1 1.5 0 1.5 0 .4-.1 .3 .1 .2 0 .2 0 .2 0 .2-.1 0 0 .2-.1 .2-.5 .2-1 .2-1.6 .2-1.9 .2-1.9 .2-1.3 .1-.2 .1 .2 .2 1.3 .2 1.9 .2 1.9 .2 1.7 .2 .9 .2 .5 .1 .1 .1 .1 0 .1 .2-.1 0 0 .2 0 0 0 .2-.1 .3-.2 0-.1 .2-.5 .3-1.3 .1-1.8 .1-1.7 .2-7.1 .3-11.5 .2-14.2 .2-14.7 .3-9.5 .1-1.3 .1 .9 0 .5 .3 9.5 .2 14.7 .2 14.3 .3 11.5 .2 7 .2 3.5 .1 .4 .2 .9 .2 .6 .3 .1 .2 0 .2 0 .4 .1 1.2-.1 .3 .1 0-.1 .2 0 .3 0 .3-.1 .3-.2 .2-.6 .2-.8 .1-.6 .3-2.7 .2-4.4 .3-5.8 .3-5.7 .3-3.6 0-.3 .1-.2 .1 .5 .3 3.6 .3 5.8 .2 5.7 .3 4.6 .2 2.1 .1 .8 .3 1.2 .2 .7 .3 .1 .3 .1 .3 0 0 0 .2 0 1.3 0 1.5 0 1.5 0 1.5 0 1.5 0 1.5 0 .1 0 .2 0 .2-.1 .3 0 .2 0 .3-.1 .2-.1 0 0 .3-.1 .2-.2 .2-.5 .3-.6 .2-.7 .2-.3 .1-.1 .2 0 .2 .3 .1 .3 .2 .4 .1 .3 .1 .3 0 .1 .1 .2 .1 .3 .2 0 .1 .2 0 .1 .1 0 0 .1 .1 0 0 0 .1 0 .1 0 .1-.1 .1-.2 .1-.3 .1-.3 0-.1 .2-.9 0-.4 0-.7 .2-1.8 0-.2 .1-1.9 .1-2.2 0-1.1 .1-2.6 .1-1.6 0-.2 .2-4.5 0-.4 .2-3.4 0-.1 .1-.4 .1 .5 .1 .5 .1 2.8 .1 1.9 .1 3.1 .1 3.2 .1 2 .2 3.4 0 1 .1 1.3 .1 1.2 0 .1 .2 1.5 .1 .1 .1 .5 .1 .1 0 .1 .1 .1 .1 .1 .1-.1 0 0 .2 0 0-.1 0 0 .2 .1 0-.1 .1 .1 .1 0 0 .1 0 0 .2-.2 .1-.3 .1-.2 .1-.6 .1-.8 .1-1.5 .1-1.1 .1-3.4 .1-.9 .2-5.5 .2-5.5 0-.8 .1-1.5 .1-1.3 .1-.5 0 0 .1 .4 .1 1.4 .1 2.1 .1 3.6 .1 1.7 .2 4.8 0 .3 .2 4 0 .3 .2 1.9 .1 .3 .1 .6 0 .1 .1 .1 .1 .1 .2 0 0 0 .2 0 0 .1 .2 .2 0 .1 .2 .4 .1 0 .2 .6 .2 .4 0 0 .3 .3 .2 .1 .3 .2 .2-.1 .3 0 .2 .1 0 0 .2 0 .2 .1 .2-.1 .2 0 .3 .1 .2 0 0-.1 .2 0 0 .1 0 0 .3-.1 0 0 .2-.2 0-.1 .2-.3 .1-.1 .2-.5 0-.2 .2-.5 .1-.1 .1-.6 .1-.1 0-.1 .2-.5 0-.1 .2-.5 .1 0 .2-.2 0-.1 .2 .2 0 0 .2 .3 .1 .1 .2 .5 0-.1 0 .1 .1 .2 .1 .4 0 0 .1 0 .2 .7 0 .1 0 .1 .2 .6 0 .1 0 0 .3 .4 0 .1 0-.1 .2 .2 0 0 0 0 .2 0 0 0 .1-.1 .1 0 .1 0 0-.1 0 0 .2-.3 0 0 .2-.5 .1 .1 .2-.7 0 0 .2-.7 0 0 0 0 .3-.4 0 0 .2-.1 0 .1 0 0 .3 .4 0 .1 .1 .3 .1 .4 0 0 .1 .3 .1 .5 .1 0 0 .2 .2 .2 0-.1 .1 .1 .1 0 0 0 .1 0 .2-.1 0 0 0 0 0 0 .2-.3 0 0 .1-.3 .1-.5 0-.1 .1-.3 .2-.6 0 0 .1-.3 .1-.5 0 0 .1-.3 .2-.3 0-.1 .1-.2 .1-.2 .1-.1 0 .1 .2 0 0 .1 .2 .3 .1 .3 .1 .5 .1 .3 .2 .6 0 .3 .2 .7 .1 .3 .2 .4 0 .2 .1 .2 .1 .2 .1 .1 .1 .2 .1 0 .2 .1 .1 0 .1 0 .1 0 .2 .1 .3 0 .1 0 .1 0 1.4 0 1.5 0 1.2 0 .2 0 .1-.1 .2-.1 .2 0 .3 0 .2-.1 .2 0 .3-.1 .1-.1 .1 0 .3-.3 .2-.3 .3-.1 .2-.2 .2 0 .2 .2 .1 .2 .2 .2 .2 .3 .3 .2 .2 .1 .3 0 .2 0 0 0 .3 .1 .1 0 .1-.1 .1 0 .1 0 .2-.1 .1 0 .1 0 .2 .1 .1 0 .1-.1 .1 .1 0 0 .2-.1 .1 0 .2-.2 0 0 .2-.4 0 0 0 0 .2-.7 0-.4 0-.2 .2-1 .1-1.3 0-.2 .1-1.7 .1-2.9 0-.5 0-.3 .1-1.5 .2-6.9 0-.4 0-.8 .2-9.7 0-.5 0-.5 .2-8.4 0-1.9 .1-.3 .1-3.7 .1-.7 0 0 0 .1 .1 1 .1 3.1 0 .4 .1 3 .2 7.1 0 .5 0 1.5 0 .4 .2 9.3 0 .5 .2 7.8 0 .6 0 .2 .2 3.8 .1 1 0 .1 .1 1.5 .1 .7 0 .1 .1 .5 .2 .5 0 0 0 .3 .2 .4 0 0 0 .1 .1 .2 .1 .2 .1 0 .2 .2 0-.1 .2 .2 .3 .1 .2 0 .3 0 .1-.1 .1 0 .2 .1 1.2 0 1.5 0 1.5 0 1.5 0 1.5 0 1.5 0 1.5 0 .6-.1 .3-.1 .2 0 .3-.2 .1 0 .2-.4 .3-1.9 .2-5.4 .3-12.9 .3-27 .2-33.3 0-9.1 .3-55.1 .3-54.6 .3-34.9 .1-5.1 .1 5 .3 34.8 .1 16.9 .2 37.6 .2 55 .3 42.5 .3 26.9 .3 13 .2 5 0 .6 .3 1.9 .3 .6 .3 .2 .2 0 .4 .1 1.5 0 .4 0 .3 0 .2 0 .3 0 .2-.1 .1 0 .1 0 .3-.1 .2-.1 .3-.1 .2-.2 .2-.3 .2-.4 .1-.1 .2-.2 .2 0 .3 .2 .2 .4 .3 .3 .1 .3 .1 .1 0-.1 .1 .1 .2 .1 .1 0 .1 .1 .1 0 .1 0 .2 .1 .1 .1 .1 0 .1-.1 .1-.1 .1-.1 .1-.1 .1-.1 .1-.1 .1-.2 .3-.6 .2-.6 .2-.8 .3-.4 .2 0 0 0 .3 .4 .2 .6 .2 .7 .3 .6 .2 .3 .3 .2 0-.1 .2 .1 .2 0 .3 0 .2 .1 .3 0 .3 0 1.5 .1 1.5 0 1.3 0 .2 .1 .1-.1 .2 0 .2 .1 .3 0 .2-.1 .3-.1 .2-.1 .2 0 .3-.3 .2-.4 .3-.4 .2-.2 .2 .1 .1 .1 .2 .2 .2 .3 .3 .4 .2 .2 .2 .2 .2 .1 .1-.1 .1 0 0 0 .1 .1 .2 0 .1-.1 .1 0 .1 0 .2-.1 0 0 .2-.1 .1 0 .1 0 .3-.1 0 0 .2-.2 .2-.5 .3-.6 .2-.7 .3-.4 .2-.1 .1 .1 .1 .2 .3 .6 .2 .7 .3 .6 .2 .4 .3 .1 .1 .1 .1 0 .2 0 .3 0 .2 0 .2-.1 .5 .1 .1 0 .2 .1 .3 0 .2 0 .3-.1 .2-.1 .2 0 0 0 .3-.1 .2-.4 .3-.4 .2-.5 .2-.6 .3-.5 0 0 .2 0 .3 .5 .2 .5 .2 .6 .1 .2 .2 .3 .1 .1 .1 .2 .1 0 0 0 .2 .1 .2 0 0 0 .2-.1 0-.1 .2-.2 .1-.3 .1-.4 .1-1 .1-.4 .2-2.1 0-.4 .1-1.7 .1-1.5 .2-3.1 .2-2 .1-.4 .1 .3 .2 2.1 .2 3.1 .2 3.1 .2 2.4 0 .1 .2 1.5 .2 .7 .2 .3 .2 .1 .2 0 .2-.1 .2 .1 .1-.1 1.5 .1 1.5 .1 1.5 0 1.5 0 1.5 0 1.1 0 .3 0 .1 0 .1-.1 .2-.1 .3 0 .2-.2 .2-.5 .3-1.3 .2-2.3 0-.4 .3-4.2 .2-5.6 .1-3.5 .1-1.8 .2-2.1 .1-1.5 .1-.4 0-.1 .1 .5 .1 .4 .2 3 0 .1 0 .6 .2 3.5 0 .5 .2 2.7 0 .5 .2-.2 .1-1.3 .1-3.3 .1-6 .1-4.9 .1-11.6 .1-3.2 .2-15.1 .1-6.4 .1-3.7 0-.4 .1-.7 .1 1.4 .1 2.1 .1 8.3 .1 6.6 .1 8.9 .1 10.4 .1 5.2 .2 12.6 .2 7.4 .2 3.5 0 .3 .2 1.5 .2 .7 .2 .1 .2 .1 .2 0 .5 0 1.5 0 1.5 .1 .3 0 .2 0 .3-.2 .3-.8 .3-2.6 .1-2.9 .1-4.5 .3-17.7 .3-36.7 .2-57.7 .3-75 .3-74.2 0-2.4 .3-45 .1-6 0-.9 .1 6.8 0 1 .3 34.8 0 11.6 .2 39.6 .1 34.5 .1 26 .2 48.2 0 4.9 .1 28.5 .1 12.8 0 7.9 .2 18.5 .1 6.8 .1 1.2 .2-7 0-1.4 .2-19.3 0-5.7 .2-16.4 .1-10.4 .1-4.9 .1-1.4 0-.4 .1 1.4 0 .7 0 2.7 .2 13.9 .1 5.7 .1 19 .1 6.5 0 8.9 .1 9.4 .1 6.4 0 2 .1 10.9 .1 3.2 0 3.1 .1 3.1 .1 1 .1 .2 0-1 .1-1.4 .1-6.7 0-1.4 .1-3.9 0-1.7 .1-13.8 0-2.5 .1-5.2 .1-21.9 .1-7.8 .1-22.7 .1-6.7 0-5 .2-11.6 0-3.1 .1-2.3 0-.3 0 .1 .1 2.3 .1 7.9 .1 5.3 0 6 .2 19.9 0 7.6 0 1.5 .1 13.5 .1 12.9 0 2.7 0 3.9 .2 19.4 0 .9 .1 4.2 .1 8.6 .1 2.4 0 1.8 .1 3.1 .1 1.7 .1 .6 0 .2 0 .8 .1 .9 .1 .3 0 .1 .2 .5 0 .1 0 .2 .2 .3 0 .2 0 0 0 0 .1 .1 .1 0 .1-.1 0 0 0-.1 .1 0 .1-.5 .1-.2 0-.1 .2-1.8 0-.4 0-.3 .2-3.9 0-.2 0-1.5 .2-5.3 0-1.5 .1-2.2 .1-4.7 .1-3.5 0-1.4 0-.8 .1-2.8 .1-3.8 .1-1.2 0-.6 .1-.7 0 .2 .1 .6 .2 5.9 0 1.3 .2 7.6 .1 3.2 .1 5.6 .1 4.1 .1 2.9 .1 1 .1 2.2 0 .6 0 .3 .1 1 .1 .8 0 .2 .1 .5 .1 .3 0 0 .2 .2 0 .1 .1 .1 0 .1 .1 .1 0-.1 .2 0 0 .1 .1 0 .1-.1 .1-.1 0-.1 .1-.1 .1-.1 0-.1 .2-.5 .1-.6 .1-1.2 .1-1.6 .1-3.3 .2-4.2 .1-7.5 .1-9 .1-14.3 .1-15.5 .2-22.3 .1-21.7 0-4.1 .1-21.3 .1-25.3 .1-23.1 .2-18.7 .1-12.1 .1-4.1 .1 4.4 .1 12.3 .2 18.8 .1 23.2 .1 23.4 .1 27.5 .1 15.9 0 5.7 .2 22.3 .1 15.5 .1 14.3 .1 9 .1 7.4 .2 4.3 .1 3.1 .1 1.4 .1 1.3 .1 .5 .3 .5 0 .1 .2 0 .2 .1 1.1 0 1.5-.1 1.5-.1 .4 0 .1-.1 .3 0 .2 0 .2 .1 .2-.1 .1-.1 .1 0 .2-.5 .2-.9 .2-1.7 .2-2.1 .2-1.9 .2-1.3 .1-.3 .1 .2 .2 1.3 .2 2 .2 2 .2 1.7 .2 1 .2 .6 .2 .2 .1 .1 .1 .1 .2 .1 .2-.1 .3 0 .7-.1 0 .1 .3-.1 .2-.1 .2 0 .2-.1 .2-.2 .2-.3 .2-1 0-.1 .2-1.8 .2-3.3 .2-4 .2-4.1 .2-2.7 .1-.4 .1 .3 .1 .3 .1 2.3 .1 1.2 0 .4 0 .2 .1 2.4 .1 2.1 0 .5 .1 1.6 .1 2.3 .1 .2 0 .8 .2 1.6 0 .2 0 .1 .2 1 0 0 .2 .4 .1 0 0 0 .1 0 .1-.1 0-.1 .1 0 0-.1 .1-.1 .1 0 0-.1 .2-.3 0 0 0-.1 .2-.5 .1-.1 .2-.7 0-.1 .2-.6 0 0 .3-.2 0 0 .1 .1 .1 0 0 .1 .2 .5 .1 0 .2 .6 0 0 .2 .6 0 .1 .2 .5 .1 .1 .2 .4 0 0 .2 .2 0-.1 0 .1 .3 0 0-.1 .2 0 0 0 .3 0 0 .1 .2 0 0 0 .2 0 .3 0 .1-.1 .2 0 .3 0 .2 0 .3 0 .2 0 .2 0 0 0 .3-.2 .2-.4 .3-.5 .2-.8 .2-.8 .3-.5 0 0 .2 0 .3 .5 .2 .8 .2 .7 .3 .7 .2 .4 .1 0 .2 .2 .2 0 .2 0 .3 0 .2 0 .3 0 .1 .1 1.5-.1 1.5 .1 1.5 .1 1.5-.1 1.5 0 1.1 0 .2 0 .2 0 0 0 .3-.1 .2 0 .3 0 .2 0 .2 0 .3-.2 0-.1 .2-.2 .3-.2 .2-.3 .2-.2 .3 0 .2 .2 .1 .2 .2 .2 .2 .3 .2 .2 .3 .2 .2 0 .3 0 .1 0 .1 0 .2-.1 .3 0 .2 0 .7 0 1.5 0 1.5 0 1.4-.1 .1 0 .1 .1 .2-.1 .3 0 .2 0 .3 0 .2 0 .2-.1 0-.1 .3-.3 .2-.5 .3-.6 .2-.6 .2-.4 .3 0 0 .1 .2 .4 .2 .3 .1 .4 0 .2 .2 .3 .1 .2 .1 .4 .1 0 .2 .2 0-.1 .2 .1 0 0 .1-.1 .1-.1 .1 0 .1-.2 .1-.2 .1-.2 .1-.5 .1-.2 .2-1 0 0 .2-1 0-.1 .2-.6 .1-.1 .1 0 .2 .7 .2 .6 0 .3 .1 .8 .1 .4 .2 .6 0 .2 .2 .5 0 .1 .2 .2 0 .1 .2 0 0 0 .1-.1 .1 0 0-.1 .2-.3 0-.1 .2-.4 0-.2 .2-.6 .1-.4 .1-.7 .2-1 .2-.6 .1-.1 .1 .1 .2 .7 .2 1 .2 1 .2 .9 .2 .5 .2 .3 .2 0 .1 .1 .1 0 .2 0 .2-.1 .3 .1 .1 0 .1-.1 .3 .1 .2-.1 0 .1 .2 0 .2-.1 .2-.3 .2-.5 .2-.9 .2-1.5 .2-1.8 .1-1.1 .1-.7 .2-1.2 .1-.1 .1 .2 .2 1.2 .2 1.9 .2 1.8 .2 1.4 .2 .9 0 0 .2 .4 .1 .1 .1 .2 .1 .1 .1 .1 .2 .1 0 .1 .2 0 0 0 .2 0 .1 0 .2-.1 0 0 .2-.1 .3-.2 .2-.3 .2-.4 .3-.5 .2-.4 .1-.2 .2-.3 .2 .1 .2 .4 .3 .5 .2 .5 .3 .3 .1 .1 .1 .2 .2 0 .3 0 .2 0 .3 0 .2 .1 .2 0 0 0 1.5 0 .2 .1 .2-.1 .3 0 .2 0 .2-.1 .3-.1 .1 0 .1-.2 .3-.1 .2-.3 .2-.6 .3-.7 .2-.9 .2-.3 .1-.1 .2 0 .2 .4 .3 .8 .2 .8 .3 .6 .2 .4 .2 .3 .3 0 .2 .1 .3 0 .2 0 .2 0 .1 0 1.5 0 1.5 0 1.5-.1 1.5 0 1.5 0 1.5-.1 1.5 .1 1.5 0 1.5 0 1.5 .1 1.5-.1 1.5 0 1.5 0 1.5-.1 1.5-.1 1.5 .1 1.5 .1 1.5 0 1.5 .1 1.5 .1 1.5 0 1.5 0 1.5 0 1.5 0 1.5-.1 1.5 0 1.5 0 1.5 0 1.5 .1 1.5-.1 1.5 .1 1.5 .1 1.5-.1 1.5 .1 1.5-.1 1.5 0 1.5-.1 1.5 0 1.5 0 1.5 .1 1.5-.1 1.5 0 1.5 0 1.5 .1 1.5 0 1.5-.1 1.5 0 1.5 0 1.5 .1 1.5 0 1.5 0 1.5-.1 1.5 .1 1.5-.1 1.5-.1 1.5 0 1.5-.1 1.5 0 1.5 .1 1.5 0 1.5 0 1.5 0 1.5 .1 1.5 .1 1.5 0 1.5-.1 1.5 0 1.5 0 1.5 .1 1.5 0 1.5-.1 1.5 0 1.5 0 1.5 .1 .6 0 .9-.1 .5 0 1 0 .4-.1 1.1 .1 .3 0 1.2 0 .2 0 1.3-.1 .1 0 1.4-.1 1.4-.2 .1 0 1.3-.4 .2 0 1.2-.5 .3-.2 1.1-.8 .4-.2 1-.7 .5-.3 .9-.4 .6-.1 .1 0 .7 .1 .7 .2 .7 .3 .8 .6 .6 .4 .9 .6 .5 .4 1 .5 .4 .1 1.1 .4 .3 0 1.2 .3 .2-.1 1.3 .1 .1 0 1.4 .1 1.4 0 .1-.1 1.3 0 .2 0 1.2 .1 .3 0 1.5-.1 1.5 0 1.5 .1 1.5-.1 1.5 0 1.5 0 1.5 0 1.5 .1 1.5 .1 1.5 0 1.5 0 1.5 0 1.5 0 1.5 .1 1.5 0 1.5 0 1.5-.1 1.5 0 1.5-.1 1.5 0 1.5 0 1.5 0 1.5 0 1.5 .1 1.5 .1 1.5 0 1.5-.1 1.5 0 1.5 0 1.5-.1 1.5-.1 1.5 0 1.5 0 1.5 0 1.5 .1 1.5-.1 1.5 .1 1.5 0 1.5 0 1.5 0 1.5 0 1.5 0 1.5 0 1.5-.1 1.5 .1 1.5 0 1.5 0 1.5-.1 1.5 0 1.5 .1 1.5 0 1.5 0 1.5 0 1.5 0 1.5 .1 1.5 0 1.5 0 1.5 0 1.5-.1 1.5 0 1.5 .1 1.5 0 1.5-.1 1.5 0 1.5 0 1.5 0 1.5 0 1.5 0 1.5 0 1.5 .1 1.5 0 1.5 0 1.5 0 1.5 0 1.5 0 1.5-.1 1.5 0 1.5 0 1.5 0 1.5 0 1.5 0 1.5 0 1.5 .1 1.5 .1 1.5 0 1.5 0 1.5-.1 1.5 .1 1.5 0 1.5-.1 1.5 0 1.5 0 1.5 .1 1.5 0 1.5 0 1.5-.1 1.5 0 1.5-.1 1.5 0 1.5-.1 1.5 0 1.5 0 1.5 0 1.5 0 1.2 .1 0 2.2"/></defs>
<use href="#tr4" fill="url(#ga)" clip-path="url(#gac)"/>
<line x1="266.6" y1="700.4" x2="266.6" y2="729.5" stroke="#e7298a" stroke-width="1.0" stroke-opacity="0.75"/>
<use href="#tr4" fill="none" stroke="#e7298a" stroke-width="1.8" stroke-linejoin="round"/>
<defs><path id="tr5" d="M204.8 808.6l0-1.5 1.5 0 1.5 0 1.5-.1 1.5-.1 1.5 .1 1.5-.1 1.5 0 1.5 0 1.5-.1 1.5 .1 1.5 0 1.5 0 1.5 .1 1.5 0 1.5 0 1.5 0 1.5 .1 1.5 0 1.5 0 1.5-.1 1.5 .1 1.1 0 .4-.1 .4-.1 .8 .1 .3-.1 .5 0 .8 0 .2 0 .6-.1 .8-.2 .1 0 .7-.3 .8-.9 .8-1.6 .7-1.8 .1-.2 .8-1.9 .6-1.1 .2-.3 .4-.2 .4 .2 .5 .5 .3 .7 .8 2 .4 1 .4 1.1 .8 1.5 .3 .4 .5 .7 .8 .4 .2 .1 .6 .1 .8 .1 .1-.1 .7 .1 .8-.1 .8 0 .7 .1 1.5 0 1.5 0 1.5 .1 1.5 0 1.5 0 1.5 0 1.5 .1 1.5-.2 1.5 0 1.5-.1 1.5-.1 1.5 0 1.5-.1 1.5 0 1.5 0 1.5 0 1.5 .1 1.5 .1 1.5 .1 1.5 0 1.5 0 1.5 0 1.5 .1 1.5-.1 1.5 0 1.5-.1 1.5 0 1.5-.1 1.5 0 1.5-.1 1.5 .1 1.5 .1 1.5 0 1.5 0 1.5 0 1.5 0 1.5 0 1.5 0 1.5-.1 1.5 0 1.5 0 1.5 0 1.5-.1 1.5 0 1.5 0 1.5 .1 1.5 0 1.5 0 1.5 0 1.5 .1 1.5-.1 1.5 0 1.5 .1 1.5 0 1.5 0 1.5 0 1.5 .1 1.5 0 1.5 0 1.5-.1 1.5 0 1.5 0 1.5 0 1.5-.1 1.5 0 1.5 0 1.5 .1 1.5 .1 1.5-.1 1.5 .1 1.5 .1 1.5-.1 1.5-.1 1.5-.1 1.5-.1 1.5 0 1.5-.1 1.5 0 1.5 .1 1.5 .1 1.5 0 1.3 .1 .1 .1 .1 .1 .2-.1 .2-.1 .2-.1 .2-.1 .2-.1 .2-.1 .2-.2 .1-.1 .1-.2 .2-.3 .2-.3 .2-.2 .1-.1 .1 .2 .2 .3 .2 .3 .2 .3 0 .1 .2 .3 .2 .1 .2 .1 .2 0 .2 .2 .2 0 .2 .1 .1 0 .1 0 1.4 0 .5 .1 .2 0 .3-.1 .2 0 .2 0 .1 0 .2-.1 .2-.1 .3-.1 .2-.3 .2-.5 .3-.7 .1-.4 .1-.2 .3-.3 .2-.1 .2 .4 .3 .5 .2 .7 .2 .4 .1 .1 .2 .2 .2 .2 .3 .2 .2 0 .3 0 .2 0 .2 0 1.3 0 1.5-.1 1.5 0 1.5-.1 1 .1 .2 .1 .1 0 .2-.1 0 0 0-.1 .2 0 .1 .1 .1-.1 .1 0 .2-.1 0 .1 .2-.1 .1-.2 .1-.2 .1-.2 .2-.5 .1-.2 0-.2 .1-.7 .1-.4 .2-1.5 0-.6 .2-1.7 .1-.9 .1-1.5 .1-.7 .2-.9 .1-.2 0 .1 .1 .2 .1 .5 .1 .7 .1 .7 0 .9 .2 1.7 .1 .8 .1 1.5 .1 .7 .2 1 .1 .4 .1 .6 .1 .2 .2 .4 0 .3 .2 .1 0 0 .1 .2 .1 0 .1 0 .2-.1 .1 0 .1 .1 .1 0 .1 0 .6 0 1.5 0 1.5 0 1.5-.1 .1-.1 .3-.1 .2-.1 .2-.1 .3-.1 .2-.3 .2-.8 .1-.3 .2-2.5 .2-5.2 .3-8.4 .2-10.6 .2-11.1 .3-6.9 0-.3 .1-.7 .1 .9 .1 1.9 .2 5.1 .1 4 .1 7.1 .1 4.2 .1 6.3 .1 4 .2 4.4 .1 2.6 .1 2.6 .1 1.2 0 .2 .1 1.2 .2 .6 .1 .5 .1 0 .1 .1 .1-.1 .2-.2 .1-.1 .1-.3 .1-.2 .1-.3 .1-.2 .1-.1 .2-.2 .2 .1 .3 .3 .2 .5 .2 .6 .3 .4 .1 .1 .1 .1 .3 .1 .2 .1 .2-.1 .3 0 .2 .1 .2 0 .1 0 .1 0 .3 0 .2 .1 .2-.1 .3 0 .2 0 .1 .1 .1 0 .3-.2 .2-.2 .3-.2 .2-.2 .2-.3 .2-.2 .1-.1 .2 0 .3 .2 0-.1 .2 .3 0 0 .2 .3 .1 .1 .2 .3 0-.1 .2 .2 0 0 0 0 .3-.1 0 .1 .2-.2 0 0 .2 0 .1 0 .2-.2 0 0 .2-.4 0 0 .2-.4 .1-.1 0-.1 .2-.4 .2-.4 .2 0 .1 0 .2 .3 0 .1 .2 .4 0 0 .2 .5 .1 0 .1 .2 .1 0 0 .1 .2 .3 .1 .1 .2 0 0 0 .2 0 0 0 .2-.2 .1-.2 .2-.4 0 0 .2-.3 0-.1 .1-.1 .2-.4 0 0 .2-.3 .1-.1 .1-.1 .1 .1 .2 .2 0 0 .2 .5 0 .2 .2 .3 .1 .3 0 .1 .1 .1 .1 .1 .1 .1 .1 0 .1-.1 .2-.3 .2-.4 0-.1 .2-.6 .1-.3 .1-.3 .1-.3 .1-.2 .1-.1 0 0 .1 .1 .2 .4 0 0 .2 .7 .2 .7 .2 .5 .2 .4 .2 0 .1 .2 .1 .2 .2 0 .2 .1 .2 0 .3 .1 0 0 .2-.1 .2 0 .1 0 .2-.1 .1 0 .1 0 .1-.1 .2 0 .1-.2 .1-.1 .2-.2 0-.2 .3-1.2 0-.3 .1-1.1 .1-2 .3-6.7 0-1.2 .2-10.9 .1-4.8 .1-14.1 .2-9.8 .1-15.4 .1-15.1 .1-12.8 .2-16.9 0-.9 .1-6.1 .1-7.7 .1-3.7 0-1.5 0-.7 .1-.3 .1 2 0 1 .1 .5 .1 8.5 .1 8.7 0 1.9 .1 5.1 .1 19.1 .1 6 .1 13.9 .1 7.7 0 8.3 .1 2 .1 11.2 0 .8 0 2 .1 5.1 .1 4.1 .1 2 .1 3.8 0 .4 .1 1.3 .1 .8 .1 1 0 .6 0 .1 .1 .7 .1 1.1 0 .8 .2 2.2 .1 3 0 .4 .2 3 .1 1.3 0 .2 .1 .8 .1 1.4 .1 .1 .1 .5 .1 .4 .1 0 .2 .3 .1 .1 .2 0 .2 0 .2 0 1.5-.1 1.5 .1 .8-.1 .3-.1 .2-.1 .2 .1 .1-.1 .2 .1 .2-.2 .3 0 .2 0 .3-.1 .2-.3 .2-.2 .3-.3 .2-.2 .3 0 .2 .2 .2 .3 .1 .2 .2 .2 .1 .2 .1 0 .1 0 .2 .1 0 0 .2 0 .1 .1 .1 0 .1 0 .2 .1 .1-.1 0 0 .1 0 .1-.1 .2-.1 0 0 .2 0 .1 0 .2-.1 .3-.3 .2-.2 .1 0 .1 0 .3 0 .2 .1 .3 .2 .2 .3 .2 .3 .2-.1 .1-.1 .2 .1 .3 0 .2 .1 .2-.1 .3-.1 0 .1 .2 .1 0-.1 .1 .1 .2 0 .3 0 .2 0 .3 0 .2-.1 .2-.2 0-.2 .3-.4 .2-.6 .3-.8 .2-.6 .2-.5 .3 .1 0 .1 .2 .4 .3 .8 .2 .7 .2 .5 .3 .2 .2 .3 .1 0 .1 .1 .3 .1 .2 0 .3 0 0 .1 .2 0 0 0 0-.1 .2 0 .1 0 .1 0 .1-.1 0 0 .2 .1 .1-.1 .1 0 .1 .1 .2-.1 0 0 .2-.2 .1-.1 .2-.2 0-.2 .2-.6 0 0 .1-.2 .1-.5 .1-.2 .2-.8 0-.3 .2-.5 .1-.2 .2-.3 0-.1 .2 .3 .1 .2 .1 .6 .1 .3 .2 .7 0 .4 .1 .2 .1 .6 .1 .3 0 .2 .1 .3 .1 .1 .1 .1 .1-.1 .1 0 .1-.2 0-.1 .1-.2 .2-.8 0-.1 0-.4 .1-.6 .1-1.5 0-.3 .1-1.1 .1-4.5 .1-1.7 0-.9 .2-8.7 .1-4.4 0-1.4 .1-12.1 .2-11.7 .2-31.2 .3-30.8 0-.9 .3-18.8 .1-2.7 .1 2.9 .3 19.5 .1 15.3 .2 15.6 0 8.5 .2 22.8 .1 1 .1 13.2 .1 5.1 0 4.5 .2 9.2 .1 5.9 .1 2.3 .2 4.6 .2 2.1 0 .1 .2-.1 .1-.8 .1-.7 .2-2.1 0-.2 0-.2 .2-2.1 .1-.7 .1-1.1 .1-.2 0 0 .1 .3 .2 1.6 .2 2.5 .2 2.4 .2 2.1 .1 .6 .1 .6 .2 .6 .2 .3 .2 .1 .2 .1 .2-.1 .2-.1 .2 .1 1.4-.1 .1 0 .2-.1 .2 0 .3 .1 .2 0 .2 0 .3 0 .1-.1 .1-.1 .3 0 .2-.2 .2-.3 .3-.4 .2-.2 .2 .1 .1 .1 .2 .1 .2 .2 .3 .2 .2 .4 .3 .1 .2 .1 .2 0 .3 .1 .2 0 .3 0 .2-.1 .3 0 1.5 0 .9 .1 .2-.1 .3 0 .1 .1 .1 0 .2 .1 .3 0 .2-.1 .3-.1 .2-.2 .2-.2 0-.1 .3-.4 .2-.3 .3-.3 .2-.1 .2 .3 .3 .4 0 .1 .2 .3 .3 .3 .2 .2 .2 .1 .3 0 .2-.1 .1 0 .2 .1 .2-.1 .2 0 .9 0 1.5 .1 1.5 0 .2 0 .3 0 .2 .1 .3-.1 .2-.2 .2-.1 .1-.1 .2-.1 .2-.2 .3-.4 .2-.4 .2-.5 .3-.3 .1 0 .1 .1 .3 .3 .2 .4 .2 .6 .3 .4 .2 .2 .2 .1 .1 .1 .2 0 .2-.1 .3-.1 .2 .1 .3 0 .2 .1 .3 0 .1 0 .3-.1 .2 .1 .2-.1 .2-.1 .2-.1 0-.1 .2-.2 .2-.4 .2-.7 .2-.9 .2-.8 .2-.6 .1 0 0 .1 .1 .1 .1 0 0 .1 .1 .3 .1 .3 .1 .6 .1 .2 .1 .7 .1 .2 .1 .6 .1 0 .1 .3 .1 0 .1-.1 .1-.1 .1-.2 .1-.3 .1-.4 0-.2 .1-.2 .1-.8 .1-.4 .1-1 .1-.2 .1-.6 .1 0 .1-.3 .1 .1 .2 .8 .2 1.2 .2 1.1 0 0 .2 .9 .2 .6 .2 .3 .2 .2 .2 .1 .2 0 .2 0 .1 .1 .1 .1 1-.1 .3 0 .1 0 .1-.1 .2-.1 .3 0 .2-.3 .3-.5 .2-1.2 .2-2 0-.4 .3-4 .2-4.8 .2-5.1 .3-3.3 .1-.5 .1 .4 .3 3.3 0 .8 .2 4.2 .2 5 .3 3.9 .2 2.4 .2 1.3 .3 .5 .1 .1 .1 .2 .3 0 .2 .1 .2 0 .7 0 1.5 0 1.5 0 1.5-.1 1.5 0 1.5 0 1.5 .1 1.5 0 1.5-.1 1.1 0 .2 .1 .2 .1 0 0 .1 0 .1 0 0 0 .1 0 .2-.1 0 0 0 0 .2 0 0 0 .1 .1 .1 .1 0-.1 .1-.1 .2-.1 0-.1 0-.2 .2-.3 0 0 .1-.1 0 0 .2-.3 0 .1 0-.2 .1-.6 .1-.2 0 0 .1-.4 .1-.5 0-.5 .1 0 0-.2 .1-.2 .1-.6 0-.1 .1-.3 0-.1 .1-.6 0-.2 .1-.2 0-.1 .2-.2 0 0 0 0 .1 .1 .1 .1 0 .1 0-.1 .1 .2 .1 .1 0 .1 0 0 .1 0 .1 0 .1-.1 0-.1 .1 0 0 0 .1-.6 0 0 .1-.4 .2-1 0 0 0-.2 0-.2 .2-.5 0-.1 .1 0 0 .2 .1 .1 0 .3 .1 .1 0 .3 .1 .9 .1 .6 0 .1 0 .6 .1 .6 .1 1 0 .2 .1 .7 0 0 .2 1.2 0 .1 0 .3 0 .1 .2 .7 0 0 0 .1 .2 .5 0 0 0 0 .2 .1 .1 .1 0-.1 .1 0 .2 .1 .2 0 .2 .1 .8 .1 1.5-.1 1.5 0 1.5 0 1.5 0 1.5-.1 1.5-.1 1.5-.1 1.5 0 1.5 .1 1.5-.1 1.5 0 1.5 0 .6 .1 .1 0 .3 0 .1 0 .1 .1 .1-.1 .1-.1 .1-.1 .1-.2 0 .1 .2-.9 0-.4 .2-1.7 .1-1.2 .1-2.6 .1-3.5 .1-3.1 .1-5.9 .1-2.1 .2-7.8 0-.4 .2-5.5 0-.2 .1-.6 .1 .5 .1 .9 .1 4.1 .1 3.3 .1 4.3 .1 5.3 .1 2.6 .2 5.4 0 1 .2 4 .2 2.2 .1 .3 0 .2 .1 .7 .1 .3 .1 .3 .1 .1 .1 .1 .2 .2 0 0 .2 .2 0 0 .3 .1 .2 .1 .1 .1 .1 0 .3 .1 .2-.1 .3 0 .6 0 1.5 0 .2 0 .2-.1 .3 0 .2 0 .3 0 .2 .1 .1 0 .2-.1 .2-.1 .2-.2 .3-.3 .2-.6 .2-.6 .2-.2 .1 .1 .2 0 .3 .2 .2 .5 .3 .4 .2 .4 .2 .2 0 0 .3 0 .2 .1 .2 .1 .1 .1 .2 0 .1 0 .1-.1 .1 .1 .2-.1 0 0 0 0 .2-.2 .2-.2 .2-.9 .2-2.1 .2-4.1 .2-6.9 .2-8.7 .1-4.9 .1-3.6 .2-5.6 .1-.8 .1 .8 .2 5.6 .2 8.6 .2 8.7 .2 6.9 .2 3.6 0 .2 .2 2.2 .2 .9 .2 .2 .2 .1 .2 .1 .2 .1 .3 0 1.5 0 .7 0 .1 0 .3 .2 .2-.1 .2 0 0 .1 .2-.1 .2-.1 .2-.3 .2-.6 .2-.9 .2-1.2 .2-1.2 .1-.5 .1-.3 .1-.1 .1 0 .2 .8 .2 1.2 .2 1.2 .2 1 .2 .4 .2 .2 0 .1 .2 0 .2 0 .2-.1 .2 0 .3 .1 .4 0 1.5 0 1.5 0 1.5 .1 1.5 0 1.5 0 .2 0 .1 0 .3 .1 .2 0 .2-.1 .2 0 .2-.1 .1-.3 .1-.2 .2-.9 .2-1.5 .2-1.9 .2-1.8 .2-1.4 .1-.1 .1 .1 .2 1.1 0 .1 .2 1.9 .2 1.7 0 .2 .2 1.5 .1 .4 .1 .7 .1 .2 .1 .2 .2 .1 0 .1 .2 0 .1-.1 0 0 .1 .1 .2 0 0 0 .2-.2 .1-.1 .2-.7 .3-1.3 .2-2.1 .2-1.4 .1-1.2 .3-2.7 .3-1.6 .1-.3 .1 .2 .3 1.6 .3 2.6 0 .2 .1 1.4 .1 1.1 .2 1.1 .1 1 .1 .6 .2 .9 .1 .1 .2 .5 0 .1 .2 .2 .2 .1 .1-.1 0 0 .2-.2 .1-.1 .2-.1 .1-.1 .1-.3 .1-.1 .1-.2 .1 0 .2-.5 .1-.2 .1 0 0-.2 .2 0 .1 0 .2 .3 .1 .2 .1 .3 .2 .3 .1 .2 .2 .2 0 0 .3 .1 0-.1 .1 0 .1 0 .2-.5 0 0 .3-.7 .1-.5 .1-.7 .2-1.1 .1-.4 .2-1.7 .1-.3 0-.4 .3-2 .3-1.4 .2-.4 .2 .3 .3 1.5 .2 1.3 .2 1 .3 2.5 .3 1.8 .4 1.3 .3 .6 0 0 .3 .2 .4 .2 .3-.1 .4 0 .1-.1 .2 .1 1.3-.1 1.5 .1 .7-.1 .1 0 .3 0 .2 .1 .2-.2 0 .1 .2-.3 .2-.6 .2-1.6 .2-3 .2-5.2 .2-6.5 .2-6.5 .1-2.5 .1-1.6 .1-.5 .1 .6 0 .3 .2 3.9 .1 1.8 .1 4.6 .1 3.2 .1 3.1 .2 3.8 0 1.4 .2 2.8 0 .3 .2 1.5 0 .2 .2 .6 .1 .1 .1 .1 .1 0 .1-.1 .1-.2 .1-.2 .2-.3 .1-.2 .1-.4 .3-.6 0-.1 .2-.3 .3 0 .2 .4 .2 .7 .3 .6 .2 .4 .1 .1 .2 .1 .2 .1 .2 0 .3 0 .2 0 .2 0 .2 0 .1 0 .4 0 .2 0 .3 0 .2 0 0 0 .1 0 .2 0 0 .1 .1 0 .1-.1 .1 .1 .1-.1 .1 0 .2-.2 .2-.7 0-.2 .2-1.2 .1-.8 .1-1.9 .1-2.1 .1-2.4 0-.2 .1-3.7 .1-1.7 .2-4.9 0-.5 .2-3.5 0 0 .1-.4 .1 .6 0 .6 .2 3.2 .1 2 .1 3.4 .1 3.3 .1 2.2 .1 2 .1 1.3 0 .9 .2 2.5 0 .1 .2 1.4 .1 0 .1 .6 0 .1 .1 .2 .1 0 0-.1 0 .1 .1 0 0 0 .1-.1 0-.1 .1 0 0 .2 .1 .1 0-.1 .1 0 0 .1 .1 0 0 0 .1-.1 0-.1 0 .1 .1-.1 0-.3 .1-.1 0-.2 .1-.3 .1-.6 .1-.7 0-.9 .1-.6 .1-1.7 .1-1.4 0-.3 .1-3.2 .1-1.1 0-.8 .2-3.6 0-.3 .1-1.5 .1-2 0-.3 .1-.6 .1 0 .1 .3 0 .7 .1 .9 .1 1.3 .1 1.5 0 .6 .1 2.5 .1 1.2 0 .2 .2 2.7 0 .6 .1 .5 .1 2 .1 .8 .1 1.2 .1 .2 0 .3 0 .3 .1 .6 .1 .5 .1 .3 0 .2 .1 .4 .1-.1 0 .2 0 0 .2 .1 0 .1 0 .1 .1 0 .1 .1 0 0 0 0 .1 .1 .1 0 .1 .1 0 0 .1 .1 .1 0 .1-.1 0 0 0 0 .1-.1 .1 .1 0-.2 .2-.3 .1-.2 .1-.5 0-.1 .1-.5 .1-.7 .2-1.5 .2-1.7 .2-1.1 .1-.1 .1 0 .2 1.1 .2 1.7 .2 1.5 .2 1.4 .2 .5 0 .1 .2 .4 0 0 .2 .1 0 0 0 0 .2 .1 .1 .1 .1 0 .1 .1 .1 .1 .2 0 0 0 .2 .1 .2-.3 .3-.4 0-.1 .2-.6 .3-.8 .2-.8 .2-.7 .3 .1 .2 .3 .1 .3 .2 .6 .2 .8 .2 .6 .3 .5 .2 .2 .3 0 .1 .1 .1-.1 .2 .1 .3 0 .2-.1 .5 0 .2 .1 0 0 .3 .1 .2-.1 .2 0 .3 0 .2-.1 .3-.1 0 .1 .2-.2 .3-.1 .2-.2 .2-.3 .3 0 .2 0 .1 0 .2 .1 .2 .2 .2 .2 .3 .1 .2 0 .2 .1 .2 0 .1 .1 .1 .1 .1 0 .2 .1 .1 0 .1 0 .1 0 .2-.1 .1-.1 .1 0 .2 0 .1 .1 .2-.1 .2-.2 .3-.2 .2-.6 .2-.7 .3-.7 .1-.3 .1-.2 .3 0 .2 .3 .2 .8 .3 .5 .2 .6 .2 .3 .1 .1 .2 .2 .2 .1 .3 0 .2 .1 .3 0 .2 0 1.5 .1 1.5 0 .8 0 .3 0 .2 0 .2 0 .1-.1 .2-.1 .3 0 .2 0 .2-.2 .3-.1 .1-.2 .1-.1 0 .1 .2-.3 0-.2 .2-.2 .1-.1 .1-.2 .1-.3 .1-.1 .2-.3 .2-.8 0-.3 .2-2.2 .1-1.3 0-1.1 .1-2.2 .1-4.1 .1-4.5 .1-7.3 .1-3.4 .2-9.8 0-1 .2-7.1 0-.3 .1-.7 .1 .9 .1 1.1 .1 6.1 .1 4.1 .1 6.2 0 .7 .1 6.7 .1 4.2 .2 7 0 1.8 0 .4 .2 4.5 0 .3 .1 .7 .1 1.7 0 .1 .1 .3 .1 .3 .1 0 .1-.1 0-.1 .1-.2 .1-.1 0 0 .1-.2 .1-.2 0-.1 0 0 .2-.2 0 .1 .1 0 .2 0 0 0 .2 .3 0 0 .2 .3 .1 .1 .2 .3 0 .1 .2 .2 0 0 .1 0 .1 .1 .1 .1 .2 0 .1 0 .1 .1 .1 0 .2 .3 0 0 .2 .2 .1 .1 .2 .2 0 0 0 .1 .2 .1 0 0 .3-.1 .2 .1 .3-.1 .1 0 .1 0 .2-.1 0 0 .1 0 .1 0 .1 0 .1 0 .3 0 .2 0 .3-.2 .2 0 .2-.3 .1-.1 .2-.5 .2-.7 .3-.8 .2-.4 .2-.1 .3 .4 0 0 .2 .6 .3 .8 .2 .5 .2 .4 .3 .2 .2 .1 .1 0 .2 0 .2 0 .3-.1 .2-.1 .6 .1 1.5 0 .4 0 .3-.1 .2 .1 .3-.2 .3-.4 0 0 .3-1.8 .2-5.2 .3-12.3 .3-25.8 .2-40.5 .2-28.4 .1-24.3 .3-52 .3-33.3 .1-4.9 .1 4.8 .3 33.4 .3 52.1 0 4.1 .2 48.5 .3 40.5 .3 25.8 .3 12.3 .1 3.6 .1 1.5 .2 1.1 0 .2 .1 .5 .1 .3 .2 .3 0 .1 .3 .1 0 .1 .2 0 .3 0 0 .1 .1-.1 .1-.2 .1 0 .1-.2 .1-.2 .1-.2 .1-.4 .1-.1 .1-.7 .1-.1 .2-1.2 .2-2.1 0-.4 .2-2.8 0-1.5 .2-3.5 0-.2 .1-2.6 .1-3.1 .1-4.1 .1-1.6 .2-3.4 0-.2 .1-.4 .1 .7 0 .2 .2 4.3 .1 1.3 .1 5.4 .1 2.7 .1 3.9 .1 2.5 0 .7 .1 2 .2 2.4 0 .6 .2 1.4 0 .2 .2 .5 0 .1 .2 .2 .1 0 .1 0 .2-.1 .2 0 .1 0 1.3 0 .1 .1 .2 0 .2 0 .2 .1 .2 0 .2-.1 .2-.4 .2-.9 .1-.7 .1-.7 .2-2.5 .2-3.1 .2-3.1 .2-2 .1-.2 .1 .3 .2 1.9 .2 2.8 0 .2 .2 3.2 .2 2.6 .2 1.4 .2 .8 .2 .4 .2 .2 .2-.1 .1 0 .1-.1 .2 0 1.2 .1 1.5 .1 1.5-.1 1.5 .1 1.3 0 .2 0 .1 .1 .2-.1 .2-.1 .2 0 .2-.1 .2-.2 .2-.6 .2-1.1 0-.2 .2-1.4 .2-2.2 .2-2.2 .1-1 .1-.2 .1-.2 .1 .1 0 .1 .2 .9 0 .6 .1 1.4 .1 .6 0 .4 .1 .5 .1 .6 0 .5 0 0 .1 .7 .1 .6 0 .4 .1 .4 0 .4 .1 .2 0 .2 .1 .2 .1-.1 0 .1 .1-.1 .1 0 0-.1 0 0 .2-.5 0-.2 .1-.1 .1-1.1 0-.5 0-.1 .1-.7 .1-1.2 0 0 0-.5 .1-.3 0-1.1 .1-.9 0-.9 .1-.9 .1-1.1 0-.2 .1-1.6 .1-.4 0-.2 .1-.3 .1 .1 0 .1 0 .1 .2 1.2 0 .1 .1 .9 .1 1.6 .1 .7 0 1 .1 1 .1 1 .1 .8 0 .5 .1 1 .1 .4 0 .1 .2 .9 0 .4 .1 .1 .1 .5 0 0 .1 .1 .1 .3 .1 .1 0 0 .1 .1 .1 .1 .1 .2 0 .1 .1 .1 .1 0 0 .2 .1 0 .1 0 0 0 .2 .1 .1-.1 .2-.1 .2-.1 .1 .1 .1 0 .2-.1 .1-.1 .1 0 0 .1 .3 0 .2 0 .2 0 .3 0 .2-.1 .3-.1 0-.2 .2-.2 .2-.3 .3-.3 .2-.2 .3 0 .2 .2 .1 .2 .1 .1 .3 .3 .2 .2 .3 .1 .2 0 0 0 .1 .1 .1 0 .2 .1 0 .1 .1 .1 .1 .1 .1-.2 .1 0 .2-.1 0 0 .2-.6 0-.2 .2-1.2 .2-2.1 .2-3.8 .1-2.6 .1-2.2 .2-4.6 .2-3.1 .1-.4 .1 .3 .2 3.1 .2 4.7 .2 4.8 .2 3.4 0 .3 .2 2.3 .2 1.2 .2 .5 .2 .3 .2 .1 .2 0 .2 .1 .1 0 .3 0 .3-.1 .2-.1 .2 0 .2 0 .2-.1 .1-.2 .1-.1 .2-.5 .2-.9 .2-1.8 .2-2.1 .2-2.1 .2-1.5 .1-.1 .1 .2 .2 1.4 .2 2.1 .2 2 .2 1.8 .2 1 .2 .5 .2 .1 .1 .1 .1 .1 .2 .1 .2 .1 .2 0 .8 .1 1.5-.1 1.4 0 .1 0 .2-.1 .2 .1 .3-.1 .3-.1 .3-.2 .2-.6 0-.2 .3-1.6 .3-3.4 .2-5.4 .1-2 .2-4.9 .1-1 .2-5.9 0-.2 .1-2.1 .1-2.1 .1-.2 .1-.8 .1-.1 0 .3 .2 1.6 .1 1 .1 1.5 .2 .2 .1-1 .1-4.5 .1-3.7 .2-12.3 0-1.8 .1-4.8 .2-26.5 0-1.1 .2-27.3 .1-3.2 .2-15.3 0-1.8 .1-.7 .1 2.8 .1 5.2 .2 13.9 .1 14.5 .1 15.9 .2 20.5 0 8.5 .2 20.1 .1 3.3 .2 14.2 .2 7.1 .3 2.8 .2 1 .1 .1 .2 .1 .2 .1 .2 0 .9 0 1.5 .1 .5 .1 .2-.1 .3 0 .2 0 .1 0 .2 0 0 0 .1 0 .1 0 .1-.1 .1 .1 0 0 .1-.1 .2-.3 0 .1 .1-.2 .1-.6 .1-.6 0 0 .2-1.5 0-1.2 .1-1.1 .1-2.1 .1-2.8 0-.3 .1-4.9 0-1.6 .1-5.6 .2-13 0-4.4 .1-6 .1-22.1 .1-16.6 0-2.1 .2-31.6 .1-23.6 0-23.1 .1-21.7 .1-29.4 .1-48 0-3.5 .1-31.1 .1-23.5 .1-25.6 0-17.7 .1-8.4 .1-35.3 0-5.5 .1-9.3 .1-4.9 .1-7.1 0-.3 0-.6 .1 1.1 0 7.5 .1 1.2 0 5.3 .1 15.8 .1 15.5 0 20.9 .1 5.7 0 20.9 .1 12.6 .1 36.2 .1 26.8 0 3.4 .1 42.3 0 6.1 .1 14.9 0 11.2 .1 15.8 .1 20.6 0 3.9 0 12.1 .2 14.8 .1 3.9 .1-2.8 .1-7.2 0-5.7 .1-7.6 .1-8.6 0-1.5 .1-15.9 0-2.7 .1-7.5 0-5.3 .1-7.1 0-.3 .1-1.1 0 .1 0 .2 0 1.2 .1 4 .1 4.9 0 1.1 .1 18.1 0 3.6 0 1.7 .1 11.9 0 4.1 .1 25.7 0 2.2 .1 10.6 0 8 0 4 .1 14.4 .1 7.7 0 1.4 .1 11.7 0 3.2 0 .7 .1 2.7 0 .5 .1-1.8 0-.5 .1-4.4 0-4.2 0-2.3 .1-13.4 0-3.3 .1-7.6 .1-19.2 0-11.8 .1-14.6 0-2.5 .1-29.1 0-2.4 .1-13.4 0-8 0-3.7 .1-13.8 .1-2.3 0-3.9 0-3.2 .1-.6 0-.3 0 .6 .1 3.3 .1 6 0 7.2 0 6.7 .1 11.7 0 6.5 .1 4.5 .1 36.6 .1 15.1 0 2.3 .1 30.3 .1 12.2 0 9.2 .1 14.9 .1 5.9 0 3 .1 4.5 0 2.7 .1 1.2 .1-3 0-1.6 .1-3.9 .1-17.3 0-1.6 .1-7.6 .1-25 .1-9.5 0-2.1 .1-28.4 .1-8.7 0-4.7 .1-15.4 .1-4.8 .1-2.7 0-.6 0 .8 .1 2.4 .1 9.2 .1 15.9 .1 23.7 .1 13.9 .2 32.7 0 5.3 .2 30.6 .2 17.8 .2 9.4 .2 3.8 .2 1.1 0 .1 .2 .5 .2 0 .3 0 .7 0 .1-.1 .2-.1 .2-.1 .3-.2 .3-.6 .3-2.6 .2-5.8 0-1.1 .3-16.7 .3-34.8 .2-54.7 .3-71.3 .3-70.3 .1-22.7 .2-22.3 .1-6.5 .1 6.6 .3 38.1 0 6.8 .2 53.9 0 2.6 .1 13.7 .2 48.7 0 2.6 0 20 .2 33 0 2 .1 16.5 0 3.3 .1 17.5 .1 1.3 .1 12.2 0 3.9 .1 6.2 0 .7 .1 6.6 .1 2.9 0 1.9 0 .4 .1 2.8 .1 1.7 .1 .2 0 .2 .1 1 .1 .6 0 0 .1 .3 .1 0 0-.1 .1-.1 .1-.1 0-.1 .1-.2 0 0 .1-.2 0 0 .1-.2 0-.1 .1-.2 0-.1 .2-.3 0-.1 .1-.2 .1-.1 0 0 .1-.1 .1 .1 .1 0 .1 0 .1 .2 0 0 .1 0 .1 .1 0 .1 0-.1 .1 .1 .2 .2 0 0 .1 .3 .1 .3 0 0 .1 .4 .1 .3 0 0 .2 .3 .1 .4 0-.1 .1 .2 .1 .3 0 0 .1 .3 .2 .2 0-.1 0 .1 .1 .1 .1 .1 0 0 .1 0 .1 0 .2 .1 .1 0 .1 0 .2 0 .3-.1 .2 0 0 0 1.1 .1 .2 0 .2 0 .1 .1 .2 .1 .3-.1 .2 0 .2-.1 .3-.2 .1-.1 .1-.2 0 0 .1-.3 .2-.3 .1-.4 .1-.3 .1-.5 .1-.3 .2-.3 .1-.3 .1-.1 .1 .1 .1 0 .2 .2 0 0 .1 .1 0 .1 .1 .2 0 .1 .1 .2 .1 .2 .1-.1 .1 .1 .1 0 0 .2 .1-.2 .1-.1 0-.1 .1-.2 .1 0 .1-.4 .1-.5 0 0 .1-.7 .1-.7 0-.1 0-.3 .1-1.4 .1-.6 .1-1.4 .1-2.5 0-.2 .1-2.9 .1-2.4 0-.9 .1-.9 0-2.2 .1-1.3 0-1.3 .1-.2 .1-1.8 0-.1 .1-.3 0 0 .1 .5 0 .2 .1 .7 .1 3 .1 1.4 0 .2 0 .8 .1 3.3 .1 1.7 0 .8 .1 2.8 .1 1.4 0 1.3 .1 1.1 .1 .4 .1 .4 0 0 .1-.3 .1-1.5 0-.1 .1-.9 .1-2.7 .1-.7 0-.7 .1-3.1 .1-1.2 .1-1.8 0-.6 .1-.6 .1-.2 0 .1 .1 .3 .2 1.9 0 1 .2 4.6 .2 4.6 .2 3.6 .2 2.1 .2 1 0 .1 .2 .4 .2 .1 .2 0 .2 .1 .3-.1 .4 .1 1.5 .1 1.5 .1 1.5 0 1.5 0 1.5 0 1.5 0 1.5-.1 1.5 0 1.5-.1 .1 0 .2 0 .2 0 .3 .1 .2 0 .3 0 .1 0 .1-.1 .2-.2 0-.1 .2-.4 .1-.1 .2-.6 0 0 .2-.6 .1-.2 .1-.6 .1-.2 .2-.4 0 0 .1-.1 .1-.1 .1 .1 .2 .2 0 0 .2 .3 .1 .2 .1 .3 .1 .2 .2 .3 0 .1 .2 .3 0 0 .1 .1 .1 .1 0 0 .1 0 0 .1 .2 .2 0-.1 .1 .1 .1 .3 0 .1 .1 .1 .2 .2 0 0 0 .1 .2 .2 0-.1 .1 0 .1 0 .1 .1 0 0 .2-.1 0-.1 .2 0 0-.2 .3-.2 0-.1 .2-.4 0-.1 .2-.3 .1-.1 .2-.2 0 0 .2 .1 .1 .1 .2 .2 .2 .4 .2 .4 .3 .3 .2 .2 .3 0 .1 0 .1 0 .2 .1 .3-.1 .2 .1 .3 0 .4 0 1.5-.1 1.5 .1 1.5 0 1.5 .1 1.5 0 1.5 0 .9 .1 .2 0 .3 0 .1 0 .1-.2 .2-.1 .3-.1 .2-.1 .3-.1 .2-.4 .2-.4 0-.1 .3-.7 .2-.6 .3-.5 .2-.1 .2 .5 .3 .7 0 .1 .2 .7 .3 .6 .2 .3 .2 .3 .2 .1 .1 0 0-.1 .2 0 .1 0 0 0 .2 .1 .2-.1 0 .1 .2 0 0-.1 .2-.2 .2-.7 .2-1.1 .2-1.8 .1-1.3 .1-1.1 .2-2.4 .2-1.5 .1-.1 .1 .1 .2 1.6 .2 2.3 .2 2.4 .2 1.7 0 .2 .2 1.1 .2 .7 .2 .2 .2 0 .2 0 .2 .1 .3 .1 0 0 1.5-.1 1.5-.1 1.3 .1 .2 .1 0-.1 .3-.1 .2 0 .2 .1 .3 0 .2-.1 .3-.2 0 0 .2-.1 .2-.3 .3-.4 .2-.2 .3-.2 .2-.1 .1 .1 .2 .2 .2 .4 .2 .4 .3 .1 .2 .3 .2 0 .2 .1 .1 0 .2-.1 .3 .1 .2 0 .3-.1 .4 0 1.5 0 1.5 .1 1.5 0 1.5 0 1.5 0 1.5 0 1.5 .1 1.5-.1 1.5-.1 1.5-.1 1.5 0 1.5 0 1.5-.1 1.5 0 1.5 0 1.5 .1 1.5 .1 1.5 .1 1.5 0 1.5 .1 1.5 0 1.5 .1 1.5-.1 1.5 0 1.5 0 1.5-.1 1.5 .1 1.5-.1 1.5-.1 1.5 0 1.5 0 1.5 0 1.5 .1 1.5-.2 1.5 .2 1.5 0 1.5 .1 1.5-.1 1.5-.1 1.5 0 1.5 0 1.5-.1 1.5 0 1.5 0 1.5 0 1.5 .1 1.5-.1 1.5 .1 1.5 0 1.5 0 1.5 0 1.5 0 1.5 0 1.5 0 1.5 0 1.5 0 1.5 0 1.5 0 1.5-.1 1.5 0 1.5-.1 1.5 .1 1.5 .1 1.5-.1 1.5 .1 1.5 .1 1.5 0 1.5 .1 1.5 0 1.5 0 1.5-.1 1.5-.1 1.5 0 1.5 0 .7-.2 .8 .1 .8-.1 .7 .1 .9 0 .6 0 1 .1 .5 .1 1.1 0 .4 0 1.2 0 .3 0 1.3 0 .2-.1 1.4-.1 .1-.1 1.5 0 1.5-.2 .1 .1 1.4-.2 .2-.1 1.3-.1 .3-.1 1.2-.1 .4 0 .8-.2 .3 0 .5 .1 1 0 .6 .2 .9 .1 .7 .1 .8 .1 .8 .2 .7-.1 .9 .2 .6 0 1 .1 .5 0 1.1 .1 .4 0 1.2 0 .3 .1 1.3-.1 .2-.1 1.4 0 .1 .1 1.5 .1 1.5-.1 .1 0 1.4 .1 1.5 .1 1.5-.1 1.5-.1 1.5 0 1.5 .1 1.5 0 1.5 0 1.5-.1 1.5 .1 1.5 0 1.5-.1 1.5 0 1.5 0 1.5 .1 1.5 .1 1.5-.1 1.5 0 1.5 .1 1.5-.1 1.5-.1 1.5-.1 1.5 0 1.5-.1 1.5 .1 1.5 0 1.5 0 1.5 .1 1.5 .1 1.5-.1 1.5 .1 1.5-.1 1.5 0 1.5 0 1.5-.1 1.5 .1 1.5 .1 1.5 0 1.5 0 1.5-.1 1.5 .1 1.5 .1 1.5 0 1.5 0 1.5-.1 1.5 0 1.5 0 1.5-.1 1.5-.1 1.5 0 1.5 0 1.5 .1 1.5 0 1.5-.1 1.5 .1 1.5 .1 1.5-.1 1.5 0 1.5-.1 1.5 0 1.5 .1 1.5 .1 1.5 0 1.5 0 1.5-.1 1.5 .1 1.5 0 1.5-.1 1.5-.1 1.5 .1 1.5 0 1.5 0 1.5 0 1.5 .1 1.5 0 1.5-.1 1.5-.2 1.5 0 1.5 .1 1.5-.1 1.5 0 1.5 .1 1.5 .1 1.5 0 1.5 0 1.5 .1 1.5 0 1.5 0 1.5 0 1.5 0 1.5 0 1.5-.1 1.5 0 1.5 0 1.5 0 1.5-.1 1.5-.1 1.5 .1 1.5 .1 1.5 0 1.5-.1 1.5 .1 1.5 .1 0 1.5"/></defs>
<use href="#tr5" fill="url(#ga)" clip-path="url(#gac)"/>
<line x1="204.8" y1="779.4" x2="204.8" y2="807.4" stroke="#66a61e" stroke-width="1.0" stroke-opacity="0.75"/>
<use href="#tr5" fill="none" stroke="#66a61e" stroke-width="1.8" stroke-linejoin="round"/>
<polyline points="174.00,846.40 174.00,411.00 482.20,21.40 1445.90,21.40 1445.90,456.80" fill="none" stroke="#000" stroke-width="2.2" stroke-linejoin="round"/>
<polyline points="174.00,846.40 1137.70,846.40 1445.90,456.80" fill="none" stroke="#000" stroke-width="2.2" stroke-linejoin="round"/>
<defs><linearGradient id="gb" gradientUnits="userSpaceOnUse" x1="0" y1="1502.40" x2="0" y2="1896.60"><stop offset="0" stop-color="#CBB9DD"/><stop offset="0.0786" stop-color="#CBB9DD"/><stop offset="0.0786" stop-color="#C2B0D6"/><stop offset="1" stop-color="#C2B0D6"/></linearGradient><clipPath id="gbc"><rect x="0" y="1502.40" width="1518" height="399.20"/></clipPath></defs>
<polygon points="467.30,1502.40 1440.30,1502.40 1440.30,1062.90 467.30,1062.90" fill="#FECB99"/>
<polygon points="156.60,1896.60 467.30,1502.40 467.30,1062.90 156.60,1457.10" fill="#CCFE66"/>
<polygon points="156.60,1896.60 1129.60,1896.60 1440.30,1502.40 467.30,1502.40" fill="url(#gb)"/>
<g><line x1="467.30" y1="1414.50" x2="1440.30" y2="1414.50" stroke="#8C8C8C" stroke-width="1"/><line x1="156.60" y1="1808.70" x2="467.30" y2="1414.50" stroke="#8C8C8C" stroke-width="1"/><line x1="467.30" y1="1326.50" x2="1440.30" y2="1326.50" stroke="#8C8C8C" stroke-width="1"/><line x1="156.60" y1="1720.80" x2="467.30" y2="1326.60" stroke="#8C8C8C" stroke-width="1"/><line x1="467.30" y1="1238.50" x2="1440.30" y2="1238.50" stroke="#8C8C8C" stroke-width="1"/><line x1="156.60" y1="1632.90" x2="467.30" y2="1238.70" stroke="#8C8C8C" stroke-width="1"/><line x1="467.30" y1="1150.50" x2="1440.30" y2="1150.50" stroke="#8C8C8C" stroke-width="1"/><line x1="156.60" y1="1545.00" x2="467.30" y2="1150.80" stroke="#8C8C8C" stroke-width="1"/><line x1="661.50" y1="1502.40" x2="661.50" y2="1062.90" stroke="#8C8C8C" stroke-width="1"/><line x1="351.20" y1="1896.60" x2="661.90" y2="1502.40" stroke="#8C8C8C" stroke-width="1"/><line x1="856.50" y1="1502.40" x2="856.50" y2="1062.90" stroke="#8C8C8C" stroke-width="1"/><line x1="545.80" y1="1896.60" x2="856.50" y2="1502.40" stroke="#8C8C8C" stroke-width="1"/><line x1="1051.50" y1="1502.40" x2="1051.50" y2="1062.90" stroke="#8C8C8C" stroke-width="1"/><line x1="740.40" y1="1896.60" x2="1051.10" y2="1502.40" stroke="#8C8C8C" stroke-width="1"/><line x1="1245.50" y1="1502.40" x2="1245.50" y2="1062.90" stroke="#8C8C8C" stroke-width="1"/><line x1="935.00" y1="1896.60" x2="1245.70" y2="1502.40" stroke="#8C8C8C" stroke-width="1"/><line x1="187.50" y1="1857.18" x2="187.50" y2="1417.68" stroke="#8C8C8C" stroke-width="1"/><line x1="249.50" y1="1778.34" x2="249.50" y2="1338.84" stroke="#8C8C8C" stroke-width="1"/><line x1="311.50" y1="1699.50" x2="311.50" y2="1260.00" stroke="#8C8C8C" stroke-width="1"/><line x1="374.50" y1="1620.66" x2="374.50" y2="1181.16" stroke="#8C8C8C" stroke-width="1"/><line x1="436.50" y1="1541.82" x2="436.50" y2="1102.32" stroke="#8C8C8C" stroke-width="1"/></g>
<line x1="467.30" y1="1502.40" x2="1440.30" y2="1502.40" stroke="#6a5060" stroke-width="1.2"/>
<line x1="156.60" y1="1896.60" x2="467.30" y2="1502.40" stroke="#202020" stroke-width="1.0"/>
<line x1="467.50" y1="1502.40" x2="467.50" y2="1062.90" stroke="#707060" stroke-width="1"/>
<defs><path id="tr6" d="M437 1543l0-2.5 1.6-.7 1.6 1.2 1.6-1.3 1.6 1.6 1.6-1.3 1.6-.6 1.6 .9 1.6-.6 1.6-.3 1.6 .6 1.6 .4 1.6-.6 1.6 1.4 1.6-1.2 1.6 .9 1.6-.8 1.6-.6 1.6 .8 1.6 .5 1.6-.4 1.6 .3 1.6-1.1 1.6 0 1.6 0 1.6 .8 1.6 .8 1.6-1.1 1.6 1 1.6-1.6 1.6 .3 1.6 .9 1.6 .3 1.6 0 1.6-1.4 1.6 .8 1.6-.6 1.6 1.1 1.6-.4 1.6 .2 1.6 .3 1.6 .4 1.6-1.2 1.6 1.2 1.6-1.6 1.6 1.3 1.6-1.7 1.6 1.4 1.6 .4 1.6-.8 1.6-.4 1.6 1 1.6 0 1.6-.3 1.6-.8 1.6 .4 1.6-1.1 1.6 1.1 1.6-.5 1.6 .8 1.6-1.4 1.6 .9 1.6-.7 1.6 .5 1.6 1.4 1.6-.5 1.6-.3 1.6-.6 1.6-.6 1.6-.1 1.6 1.1 1.6 1 1.6-.6 1.6-1.2 1.6 1.7 1.6-1.6 1.6-.4 1.6 1 1.6-.2 1.6-.8 1.6 1.9 1.6-1.4 1.6 .2 1.6-.8 1.6 0 1.6 2 1.6 .1 1.6-.8 1.6-1.3 1.6 .2 1.6 0 1.6-.3 1.6 1.8 1.6-.8 1.6-.9 1.6 .5 1.6 .4 1.6 .1 1.6 0 1.6-.8 1.6 1.4 1.6-1.5 1.6 .7 1.6 .7 1.6-1.4 1.6-.2 1.6 2.1 1.6-.6 1.6-1.2 1.6 1.1 1.6-1.3 1.6 1.6 1.6-1.7 1.6 .1 1.6 .3 1.6 .3 1.6-.5 1.6-2.3 1.6 .1 1.6-1.8 1.6-.9 1.6-.5 1.6-2.3 1.6-1 1.6-2.8 1.6-2.4 1.6-.9 1.6-2.3 1.6-2.2 1.6 .8 1.6-1.6 1.6-1.9 1.6-.4 1.6-.8 1.6-2.1 1.6-.5 1.6 .4 1.6-.7 1.6 .1 1.6-1.7 1.6-.6 1.6 .8 1.6 1.8 1.6-1.7 1.6 2.6 1.6-.4 1.6 0 1.6-.1 1.6 1.4 1.6 .7 1.6-.2 1.6 1.4 1.6 1.8 1.6 .7 1.6 0 1.6-.3 1.6 1.4 1.6-1.4 1.6 1.9 1.6 .4 1.6-.8 1.6 0 1.6-.4 1.6 .4 1.6-1 1.6-1.3 1.6 .7 1.6-1.4 1.6 0 1.6-1.6 1.6-.7 1.6-.7 1.6-1 1.6 1.2 1.6-.3 1.6-.8 1.6 .4 1.6 0 1.6 .5 1.6-2 1.6 .3 1.6 2.2 1.6 .6 1.6 0 1.6 0 1.6 1.4 1.6 .4 1.6-1.3 1.6 1.8 1.6 .7 1.6-.7 1.6 1.7 1.6 .7 1.6-.6 1.6 .2 1.6 .6 1.6 .8 1.6-.1 1.6 1.1 1.6-.8 1.6-.1 1.6-.1 1.6 1.5 1.6 0 1.6 .4 1.6 1.1 1.6 0 1.6 .1 1.6-.3 1.6-.8 1.6 .5 1.6-.4 1.6 .4 1.6 1.1 1.6-1 1.6 .7 1.6-.3 1.6-.3 1.6 1.1 1.6-.4 1.6-.5 1.6 .3 1.6 .7 1.6 .6 1.6-1.7 1.6 .2 1.6 1.3 1.6-.6 1.6-.3 1.6 1.7 1.6-.7 1.6-.9 1.6 1.6 1.6-1 1.6-1 1.6 .1 1.6 .3 1.6 1.5 1.6-.5 1.6 .3 1.6-.2 1.6 .2 1.6-.7 1.6 .3 1.6 .3 1.6 .8 1.6-.6 1.6 1 1.6-.9 1.6 .5 1.6-.2 1.6-1.3 1.6-.4 1.6 .9 1.6-1.4 1.6 .3 1.6 .6 1.6-.9 1.6-.3 1.6-.7 1.6-1.3 1.6-.8 1.6-.3 1.6-.8 1.6-.5 1.6 .1 1.6-.4 1.6-.2 1.6-.6 1.6-1.1 1.6 .4 1.6-.2 1.6-.7 1.6 1.6 1.6-1.8 1.6 1.1 1.6-1.2 1.6 .6 1.6-.5 1.6 1.7 1.6-.3 1.6 .4 1.6 .5 1.6-1.4 1.6 .4 1.6 .4 1.6 .5 1.6 .5 1.6-.6 1.6-.1 1.6 1.1 1.6-1.3 1.6 .8 1.6-.7 1.6 1.2 1.6-.3 1.6-.7 1.6 1.8 1.6 .5 1.6-1.1 1.6-1 1.6 2 1.6-1.4 1.6 .6 1.6-1.3 1.6 1.2 1.6 .4 1.6-1.2 1.6 .2 1.6 1.2 1.6-2 1.6 .9 1.6-1.1 1.6 .8 1.6 .9 1.6-1.6 1.6 1.1 1.6 0 1.6 .4 1.6-.1 1.6-.2 1.6-.1 1.6 .4 1.6-.4 1.6-1.1 1.6-.5 1.6 1.4 1.6-.5 1.6 .7 1.6-1.9 1.6 .2 1.6 .6 1.6-.9 1.6-.1 1.6-.1 1.6-.4 1.6 .9 1.6-.1 1.6-1.8 1.6-.4 1.6-.8 1.6 .5 1.6 .9 1.6-1.7 1.6-.8 1.6-.5 1.6-.6 1.6 .2 1.6-1.3 1.6-.7 1.6-.8 1.6-2.3 1.6-.3 1.6-.7 1.6-1.4 1.6-1.3 1.6-2.5 1.6-.6 1.6-.3 1.6-1.6 1.6 .4 1.6-.5 1.6-1.6 1.6-1.2 1.6 .9 1.6 .6 1.6-1.9 1.6 1.1 1.6-.7 1.6-.4 1.6 2 1.6-.7 1.6 1.1 1.6-.6 1.6 1.4 1.6 1.4 1.6 1.9 1.6-.4 1.6 2.7 1.6-.5 1.6 .7 1.6 .8 1.6 1.9 1.6 1.5 1.6 1.1 1.6-1.3 1.6 1.1 1.6 1 1.6 .7 1.6 .1 1.6-.1 1.6 .4 1.6 .6 1.6 2 1.6 0 1.6 .5 1.6-1.4 1.6 1.1 1.6 1 1.6 .7 1.6-.6 1.6 .7 1.6 .3 1.6 .5 1.6 .9 1.6-.3 1.6 .7 1.6-.6 1.6 .7 1.6 .5 1.6-1.1 1.6 .5 1.6 1.6 1.6-.2 1.6-.2 1.6 1.1 1.6 .6 1.6 .3 1.6 .3 1.6 .8 1.6 .3 1.6 0 1.6 .9 1.6 .5 1.6 1.2 1.6-.3 1.6 .2 1.6 .6 1.6-.1 1.6 .6 1.6-.1 1.6 .9 1.6 .1 1.6 1.1 1.6-1.4 1.6 2.2 1.6 .1 1.6-.2 1.6-1.4 1.6 1.7 1.6-.8 1.6 1.2 1.6-.9 1.6 .7 1.6 .7 1.6-.8 1.6-.1 1.6-.3 1.6 1.4 1.6-.7 1.6 .3 1.6 .8 1.6 .5 1.6-1.1 1.6 .4 1.6 0 1.6 1.1 1.6-2 1.6 .9 1.6 .3 1.6-.6 1.6 1.3 1.6 .1 1.6-.6 1.6-.2 1.6 .1 1.6-.5 1.6 1.5 1.6-1.2 1.6 1.6 1.6-1.7 1.6 1.3 1.6-1 1.6 .6 1.6 .6 1.6 .6 1.6-2.1 1.6 .5 1.6-.4 1.6 .5 1.6 .4 1.6 .4 1.6 .2 1.6-.1 1.6-.9 1.6 .9 1.6 .2 1.6 0 1.6-1.2 1.6-.7 1.6 1.3 1.6-1.2 1.6-.2 1.6 .3 1.6 .5 1.6 .7 1.6-1.6 1.6 .9 1.6 .5 1.6-.1 1.6-.8 1.6 0 1.6-.6 1.6 0 1.6 .7 1.6-.2 1.6 1.1 1.6-.3 1.6-.8 1.6-.2 1.6 0 1.6 1 1.6-.3 1.6-1 1.6 .3 1.6 0 1.6 .3 1.6 .7 1.6-.6 1.6-.3 1.6 0 1.6 0 1.6 .6 1.6 0 1.6 .2 1.6-1.1 1.6 1.3 1.6 .3 1.6-1 1.6-.8 1.6 1.9 1.6-.5 1.6-.8 1.6 1 1.6-.8 1.6-.6 1.6 1.4 1.6-.3 1.6-1.1 1.6-.1 1.6 .8 1.6-.2 1.6 .4 1.6 1.1 1.6-1.9 1.6 .4 1.6-.3 1.6-.1 1.6 1.2 1.6 .6 1.6-.8 1.6 .1 1.6 0 1.6-1.1 1.6 .4 1.6 .2 1.6 .5 1.6-1.3 1.6 .5 1.6 1.1 1.6-.1 1.6-1 1.6 0 1.6 .7 1.6 .2 1.6-.4 1.6-.8 1.6 1.1 1.6-.1 1.6-.7 1.6 .8 1.6-.1 1.6-1.5 1.6 1.8 1.6-1.2 1.6-.8 1.6 .6 1.6-1.4 1.6 .6 1.6-.8 1.6 1.2 1.6-2.2 1.6 1.6 1.6 .2 1.6-.7 1.6 .6 1.6-.2 1.6 .2 1.6-1 1.6 .9 1.6 0 1.6 .3 1.6-.5 1.6 0 1.6 1.5 1.6-.9 1.6 .8 1.6 .4 1.6 0 1.6-.2 1.6-.7 1.6-.4 1.6 .1 1.6 .2 1.6 .2 1.6 .5 1.6-.6 1.5 .8 0 11.1"/></defs>
<use href="#tr6" fill="url(#gb)" clip-path="url(#gbc)"/>
<use href="#tr6" fill="none" stroke="#1b9e77" stroke-width="2.0" stroke-linejoin="round"/>
<defs><path id="tr7" d="M374.8 1621.9l0-2.8 1.6-.4 1.6-.7 1.6 .6 1.6 1.1 1.6-.2 1.6-.5 1.6 .7 1.6-.7 1.6 .9 1.6-.6 1.6-1 1.6 .9 1.6-.2 1.6 .2 1.6-.7 1.6 1 1.6-1.1 1.6 .3 1.6-.2 1.6 .1 1.6-.2 1.6 1.3 1.6-.2 1.6-1.4 1.6 1.2 1.6-1.1 1.6 1.2 1.6-.5 1.6 .3 1.6 .5 1.6 0 1.6-.2 1.6-.9 1.6-.4 1.6 1.1 1.6-.1 1.6 .8 1.6-.1 1.6-1.5 1.6 .5 1.6 .7 1.6-.7 1.6 1.2 1.6-2.1 1.6 .9 1.6 1 1.6 .2 1.6-1 1.6-.5 1.6 .7 1.6-.6 1.6 .8 1.6-.7 1.6-.4 1.6 .9 1.6 .4 1.6-.6 1.6 .2 1.6 0 1.6-.1 1.6-1.2 1.6 .8 1.6 1.1 1.6-.8 1.6 .6 1.6 .4 1.6-2 1.6 1.5 1.6-.5 1.6-1.1 1.6 .5 1.6 .6 1.6-.1 1.6 .9 1.6-1.1 1.6 .9 1.6-.8 1.6 1.2 1.6 .1 1.6-1.8 1.6 1.4 1.6-1.6 1.6 .5 1.6 1.2 1.6-.9 1.6-1 1.6 0 1.6 2.2 1.6-.3 1.6 .2 1.6-1.4 1.6 0 1.6 .8 1.6-1.4 1.6 1.2 1.6-1 1.6 .1 1.6 1.3 1.6-1.2 1.6 1.7 1.6-.7 1.6-.2 1.6 .1 1.6-.9 1.6 1.6 1.6-2 1.6 1.9 1.6-.8 1.6 0 1.6-.5 1.6-.8 1.6-.9 1.6 0 1.6 .3 1.6-1.2 1.6 .7 1.6-.7 1.6-2 1.6-.4 1.6 1.2 1.6-1.9 1.6-2.9 1.6-1.1 1.6-1.7 1.6-1.4 1.6-2.3 1.6-.7 1.6-3.8 1.6 .2 1.6-2 1.6-1.3 1.6-1.2 1.6-.5 1.6 .6 1.6-.7 1.6-.8 1.6-1.6 1.6-.5 1.6 .3 1.6-1.4 1.6-.1 1.6-.8 1.6 .9 1.6 1.1 1.6 1 1.6-1.3 1.6 1 1.6 .7 1.6 .7 1.6 1.3 1.6 0 1.6 1.3 1.6 .6 1.6 1.2 1.6-1.3 1.6 .8 1.6 0 1.6-.3 1.6-.6 1.6-.4 1.6 .4 1.6-.6 1.6-.9 1.6-.6 1.6-1.5 1.6 .4 1.6-1.3 1.6-1.4 1.6 0 1.6-1.3 1.6 .3 1.6-.5 1.6 .3 1.6-2.3 1.6 1.2 1.6 .8 1.6-.9 1.6 .8 1.6 .6 1.6-.8 1.6 1.1 1.6 1.3 1.6 .3 1.6 .3 1.6-1.5 1.6 2.1 1.6 .8 1.6-.3 1.6 .5 1.6 1.6 1.6-.1 1.6 1.7 1.6-.8 1.6 1.7 1.6 .1 1.6-.2 1.6 1.2 1.6 .9 1.6 .1 1.6-.5 1.6 .1 1.6 1.5 1.6 .9 1.6 .1 1.6-.4 1.6 1.3 1.6 .5 1.6-.3 1.6 1 1.6 .3 1.6 1 1.6-1.9 1.6 2 1.6-.5 1.6-1.4 1.6 0 1.6 .4 1.6 .5 1.6-.1 1.6-.4 1.6 .9 1.6-.8 1.6 .1 1.6 .2 1.6 .2 1.6-1.5 1.6-.2 1.6 .8 1.6 .7 1.6 .1 1.6-.8 1.6-.9 1.6 1 1.6 .4 1.6-.3 1.6-1.4 1.6-.3 1.6 .8 1.6-.6 1.6 .1 1.6 .8 1.6 0 1.6-.6 1.6 .7 1.6-.6 1.6-1.3 1.6 .5 1.6-.4 1.6 1.4 1.6-1.3 1.6-.4 1.6 1.2 1.6 .1 1.6-1.4 1.6-.3 1.6 0 1.6-.7 1.6 1.2 1.6-1.4 1.6 2 1.6-.5 1.6-1.3 1.6 .1 1.6 .2 1.6-2 1.6 .9 1.6 .1 1.6-1.1 1.6 .4 1.6-1.8 1.6-.8 1.6 .2 1.6 1.8 1.6-1.4 1.6 .1 1.6-.5 1.6 .8 1.6-.3 1.6 .6 1.6-.7 1.6 .5 1.6 .3 1.6 2.4 1.6 .1 1.6-.8 1.6 .6 1.6-.1 1.6 .6 1.6 .1 1.6 .5 1.6-.2 1.6-1.2 1.6 1.2 1.6-1.2 1.6 .9 1.6-.8 1.6 .7 1.6-.4 1.6 1.2 1.6-.6 1.6 .8 1.6-1.5 1.6 .4 1.6 .6 1.6-.1 1.6-.7 1.6 1.1 1.6-.1 1.6 .6 1.6 .3 1.6-.4 1.6-1.1 1.6 .9 1.6-.4 1.6-.9 1.6 1.2 1.6-.8 1.6-.2 1.6 .8 1.6-.9 1.6 1.4 1.6-.1 1.6-1.7 1.6 1.7 1.6-1.9 1.6 1 1.6 .5 1.6-1.4 1.6 .9 1.6-.8 1.6-.8 1.6 1.2 1.6-.9 1.6 .4 1.6 .2 1.6-1.3 1.6 1.1 1.6-.7 1.6-.2 1.6-.5 1.6 .3 1.6-1.6 1.6-.1 1.6 1.3 1.6 0 1.6-.6 1.6-.1 1.6-1 1.6-1.1 1.6-1.2 1.6-2.2 1.6-1.9 1.6-.4 1.6-.2 1.6-1.8 1.6-2.4 1.6-1 1.6-.9 1.6-2.1 1.6 1 1.6-.9 1.6 .5 1.6-.9 1.6-1.2 1.6-1 1.6 .4 1.6 .5 1.6-.6 1.6-.6 1.6 .5 1.6 .7 1.6 1.5 1.6-.4 1.6 2.6 1.6 .2 1.6 1.2 1.6 1.4 1.6 .6 1.6 1.5 1.6-.1 1.6 2.6 1.6 .7 1.6 .5 1.6-.5 1.6-.2 1.6 .6 1.6 1.6 1.6 .3 1.6 .8 1.6 1.2 1.6 .6 1.6-.3 1.6 .5 1.6-.1 1.6 .2 1.6-.1 1.6 .1 1.6 1.8 1.6-.2 1.6 .1 1.6-1 1.6 1.9 1.6-.6 1.6 .5 1.6 .5 1.6 1.2 1.6-.8 1.6 1.2 1.6-.6 1.6 1.9 1.6-.7 1.6 1.7 1.6-.8 1.6 1 1.6-.8 1.6 .9 1.6-.2 1.6 .6 1.6 .7 1.6-.6 1.6 1.3 1.6-.5 1.6 .8 1.6-.4 1.6 1.2 1.6 .1 1.6 .3 1.6 .5 1.6-.8 1.6 1.9 1.6-1.3 1.6-.3 1.6 1.7 1.6 .4 1.6-.6 1.6 1.3 1.6-.7 1.6-.6 1.6-.2 1.6 1.6 1.6 .2 1.6 .6 1.6-1.2 1.6 1.8 1.6-.2 1.6-.7 1.6-.3 1.6-.3 1.6 1.1 1.6-.3 1.6 .8 1.6-1.4 1.6 .8 1.6 0 1.6-1 1.6 0 1.6 1.5 1.6 .5 1.6-.8 1.6-.8 1.6 1.9 1.6-1.3 1.6 0 1.6-.1 1.6 .1 1.6 .8 1.6-.4 1.6 .5 1.6 0 1.6 .1 1.6-.9 1.6 1.3 1.6-1.8 1.6 .7 1.6 .6 1.6 .8 1.6-.2 1.6 .4 1.6-2.1 1.6 .8 1.6 .5 1.6-.9 1.6-.3 1.6 .5 1.6-.9 1.6-1.7 1.6-.7 1.6 .7 1.6 .2 1.6-1.5 1.6 .8 1.6-1.6 1.6-.3 1.6 .4 1.6-.4 1.6 1.3 1.6 0 1.6-.6 1.6 .9 1.6-.4 1.6-1.5 1.6 .8 1.6-.5 1.6 .1 1.6 0 1.6 0 1.6 .9 1.6 .6 1.6-1.6 1.6 .6 1.6 0 1.6-.2 1.6-.1 1.6-.1 1.6 .5 1.6 .7 1.6-1.5 1.6-.2 1.6 .7 1.6 .9 1.6-1.1 1.6 1 1.6-.2 1.6-.5 1.6 1.4 1.6 .2 1.6 .4 1.6-.8 1.6 .3 1.6-.2 1.6 1.1 1.6-1.3 1.6 .1 1.6 .5 1.6 .1 1.6-1 1.6 .6 1.6 1 1.6 .3 1.6-.8 1.6-.4 1.6 .5 1.6 1.1 1.6-.4 1.6-.6 1.6 .1 1.6 .6 1.6-.2 1.6-.8 1.6 1.8 1.6-1.8 1.6 1.4 1.6-.9 1.6 0 1.6 0 1.6-.8 1.6 .2 1.6 .4 1.6-.5 1.6-.1 1.6-.2 1.6 .6 1.6 .9 1.6-1.5 1.6 1.6 1.6-.1 1.6-1.4 1.6 .8 1.6-.7 1.6 1.6 1.6-2.2 1.6 1 1.6-.8 1.6 1.4 1.6-1.3 1.6-.4 1.6 .2 1.6 1.8 1.6-2.2 1.6 1.4 1.6-.1 1.6-.8 1.6 1.4 1.6-.8 1.6-.1 1.6-1.2 1.6 1.1 1.6-.8 1.6 .6 1.6-.9 1.6 2 1.6-.2 1.6-.9 1.6 .3 1.6-.2 1.6 0 1.6 .8 1.6 0 1.6-.1 1.6 1.4 1.6 0 1.6 .7 1.6-.4 1.6-.1 1.6-.6 1.6 1.3 1-.5 0 11.5"/></defs>
<use href="#tr7" fill="url(#gb)" clip-path="url(#gbc)"/>
<use href="#tr7" fill="none" stroke="#d95f02" stroke-width="2.0" stroke-linejoin="round"/>
<defs><path id="tr8" d="M312.6 1700.7l0-4.2 1.6 .3 1.6-.5 1.6-.5 1.6 1 1.6 .7 1.6-1.2 1.6 .9 1.6-1.8 1.6 1 1.6-.7 1.6 .6 1.6 .3 1.6 .5 1.6-.7 1.6 .7 1.6-1.2 1.6-.4 1.6 .7 1.6 .5 1.6 0 1.6-1.5 1.6 .5 1.6 0 1.6 .4 1.6 .9 1.6-1.3 1.6-.5 1.6 1.8 1.6-.1 1.6-.2 1.6-1.6 1.6 .5 1.6-.2 1.6 1.6 1.6-1.8 1.6 0 1.6 .2 1.6 1.2 1.6-1.3 1.6 1.7 1.6-1.5 1.6 .8 1.6-1 1.6 .2 1.6 1.2 1.6 .3 1.6-1.7 1.6 .2 1.6-.6 1.6 .3 1.6 .4 1.6 .3 1.6 .1 1.6-.5 1.6-.5 1.6 .9 1.6-.5 1.6 0 1.6 1.4 1.6-.9 1.6-1.3 1.6 2.1 1.6 0 1.6-1.3 1.6 1.3 1.6-1.9 1.6 1.8 1.6-1.7 1.6 1.5 1.6-.4 1.6 .6 1.6-1.5 1.6 .8 1.6 .6 1.6-1.8 1.6 .1 1.6 .8 1.6-.9 1.6-.2 1.6-.1 1.6 .7 1.6 .7 1.6-.4 1.6 .2 1.6-1.2 1.6 .1 1.6 1 1.6-.9 1.6-.3 1.6 .1 1.6 1.3 1.6 .6 1.6-1 1.6-1.1 1.6 .4 1.6 1.1 1.6 .2 1.6-1.3 1.6 .5 1.6-.9 1.6 1.1 1.6 .4 1.6-.5 1.6 .6 1.6-1.2 1.6 .9 1.6-.4 1.6 .2 1.6-1.2 1.6 .9 1.6 .3 1.6-.8 1.6 .7 1.6-1.2 1.6 .8 1.6 1.1 1.6-1.7 1.6-1.4 1.6-.2 1.6-1.5 1.6-1.8 1.6-1.7 1.6-.3 1.6-2.1 1.6-1.6 1.6-1.8 1.6-2.1 1.6-1.5 1.6-.7 1.6-1.7 1.6-.8 1.6-1.9 1.6-1.2 1.6-.8 1.6-1.7 1.6 .4 1.6-1.8 1.6-.7 1.6 .6 1.6 .9 1.6 .4 1.6-.4 1.6 .5 1.6 .1 1.6-.7 1.6 .5 1.6 .4 1.6-.6 1.6 1.5 1.6 .2 1.6 .9 1.6-.6 1.6 1.7 1.6-.2 1.6 0 1.6-.4 1.6 1.9 1.6-.2 1.6 .2 1.6-1.1 1.6-.5 1.6-.5 1.6 1 1.6-1.5 1.6 0 1.6-.6 1.6-.2 1.6-1.6 1.6-.5 1.6 1.4 1.6-2.2 1.6 1.6 1.6-1.6 1.6-1.1 1.6 .8 1.6 1.3 1.6-.5 1.6-.3 1.6 .1 1.6 .2 1.6 1.4 1.6 0 1.6 1.5 1.6-.4 1.6 1.2 1.6 1.4 1.6 0 1.6 1.1 1.6-.7 1.6 1.4 1.6 .2 1.6-.3 1.6 1 1.6-.5 1.6 1.5 1.6-.1 1.6-.8 1.6 1.5 1.6-.2 1.6 .8 1.6-.1 1.6 .6 1.6-.7 1.6-.3 1.6 1 1.6 .6 1.6-.8 1.6 .6 1.6-.1 1.6-.5 1.6-.2 1.6 1 1.6-.9 1.6 .7 1.6 .8 1.6-.7 1.6 .2 1.6 1.3 1.6-.8 1.6-.2 1.6-.7 1.6 1.1 1.6-.8 1.6 .7 1.6 .5 1.6-.3 1.6-1.4 1.6 1.6 1.6-.6 1.6-1.2 1.6-.3 1.6 .4 1.6 .8 1.6-.3 1.6-1.1 1.6 2.1 1.6-2 1.6 1.7 1.6-.8 1.6 .6 1.6 0 1.6-.3 1.6-.7 1.6 .2 1.6-.8 1.6 .1 1.6-.6 1.6 .6 1.6 1.1 1.6-.4 1.6-1.6 1.6 .6 1.6 .1 1.6 .1 1.6-.1 1.6 .6 1.6-1.5 1.6 .9 1.6 0 1.6-1.5 1.6 .2 1.6-.1 1.6 1 1.6 .4 1.6 0 1.6-.2 1.6-.7 1.6 .1 1.6 0 1.6-.9 1.6 .4 1.6-.9 1.6 .4 1.6 0 1.6 1.2 1.6-1.7 1.6 .5 1.6-1 1.6-.1 1.6 .9 1.6 .1 1.6-.3 1.6 1 1.6-1.3 1.6 .3 1.6 .4 1.6-1.7 1.6 1.3 1.6-1.5 1.6 1.6 1.6-.4 1.6 0 1.6 .1 1.6-1.9 1.6 0 1.6 .6 1.6-.9 1.6 1.8 1.6-1.7 1.6 0 1.6 1 1.6-1.4 1.6 1.5 1.6-1.2 1.6 .3 1.6 .6 1.6-1.8 1.6 .4 1.6 .4 1.6 .8 1.6-.8 1.6 .4 1.6-.4 1.6 .9 1.6-.2 1.6 .6 1.6-1.3 1.6 1.3 1.6 .7 1.6-1.9 1.6-.3 1.6 .8 1.6-1.7 1.6 .5 1.6-.6 1.6-1.2 1.6-.3 1.6 .4 1.6-1 1.6-1.5 1.6 0 1.6 .3 1.6-2.6 1.6 .9 1.6-1.7 1.6-.1 1.6-.7 1.6 .6 1.6-.2 1.6-.3 1.6-.6 1.6 .3 1.6-.7 1.6 .5 1.6-.1 1.6 2.2 1.6-1.7 1.6 1.4 1.6-1.9 1.6 .1 1.6-1.8 1.6 .3 1.6-1.4 1.6-.8 1.6-2.5 1.6 .4 1.6-2.5 1.6 .1 1.6-1.6 1.6-1.5 1.6-.1 1.6-1.1 1.6-.5 1.6-.5 1.6-1.9 1.6 .4 1.6 .5 1.6 1.7 1.6 .7 1.6-.8 1.6 .8 1.6 .9 1.6 .7 1.6 2.3 1.6 .9 1.6-.5 1.6 2.4 1.6 1 1.6 1.1 1.6 0 1.6 .1 1.6 2.5 1.6-.5 1.6 1.8 1.6-.7 1.6 1.6 1.6-.4 1.6 1.8 1.6-.2 1.6 .3 1.6 2.4 1.6 .4 1.6 .4 1.6 0 1.6 .5 1.6 .6 1.6-.4 1.6 1.3 1.6-.9 1.6 .4 1.6 .6 1.6 .8 1.6 .5 1.6 .5 1.6 0 1.6 0 1.6 1.3 1.6-.4 1.6 .2 1.6-.3 1.6 1.7 1.6-1 1.6 2.2 1.6 .3 1.6 1.3 1.6 .2 1.6-.2 1.6 1 1.6-.1 1.6 .3 1.6 2 1.6-.6 1.6 1.1 1.6-1.4 1.6 .4 1.6 1.9 1.6-.3 1.6 .5 1.6-.1 1.6-.8 1.6 1 1.6 .2 1.6 .4 1.6 1.1 1.6-1 1.6 .8 1.6 .1 1.6-1 1.6 2.1 1.6-1 1.6 1.4 1.6 0 1.6-1.2 1.6 .8 1.6 .3 1.6 .3 1.6-.9 1.6 0 1.6 .2 1.6 .5 1.6 1.4 1.6-1 1.6 .6 1.6 .9 1.6-1.7 1.6 .7 1.6 1.3 1.6-1.1 1.6 1 1.6 .1 1.6 .5 1.6-1.9 1.6 .6 1.6 1.1 1.6-1.2 1.6-.3 1.6 1.4 1.6-1.3 1.6 1.1 1.6 .3 1.6-.1 1.6-.1 1.6-.9 1.6 .7 1.6 0 1.6-.6 1.6 1.1 1.6 .3 1.6-.1 1.6-1.1 1.6 .3 1.6 .4 1.6-1.1 1.6-.4 1.6-.4 1.6-.7 1.6 1.6 1.6 .1 1.6-1.2 1.6 .4 1.6 .1 1.6-2 1.6 .5 1.6 .2 1.6 .1 1.6-1.2 1.6 .5 1.6-.4 1.6-.8 1.6 1.3 1.6 0 1.6 .2 1.6-.7 1.6 .3 1.6-.3 1.6-.9 1.6 .2 1.6-.2 1.6 .7 1.6 .7 1.6-.5 1.6-1.2 1.6 .2 1.6 1.3 1.6-.1 1.6 0 1.6-.7 1.6-.1 1.6 1.1 1.6-.9 1.6 .4 1.6 .7 1.6-1.4 1.6 1.6 1.6-1.2 1.6 1.4 1.6-.1 1.6-.1 1.6 .4 1.6 .1 1.6-.2 1.6-1.4 1.6 1.4 1.6-1.5 1.6 .2 1.6 1.5 1.6-1 1.6 .9 1.6-1.2 1.6-.2 1.6-.1 1.6 1.8 1.6 0 1.6 .3 1.6-1 1.6 .6 1.6-.8 1.6-.5 1.6 .3 1.6 .7 1.6-.1 1.6-1 1.6 1 1.6-.4 1.6-.8 1.6 .1 1.6 .6 1.6 1.4 1.6-.6 1.6-1 1.6 .6 1.6 .8 1.6-1.1 1.6-1 1.6 1.7 1.6-.4 1.6 .3 1.6 0 1.6 .2 1.6-.4 1.6-1.2 1.6-.5 1.6 .4 1.6 .4 1.6-.3 1.6 .3 1.6-.4 1.6 .8 1.6-.9 1.6 .5 1.6-.7 1.6 1.1 1.6 .9 1.6-.2 1.6-1 1.6 1.2 1.6 0 1.6-.8 1.6 1.1 1.6-1.6 1.6 0 1.6 1.7 1.6-1.1 1.6-.2 1.6 1.3 1.6-.9 1.6-.3 1.6 .5 1.6 .1 1.6 .6 1.6-.9 1.6 1.8 1.6-.7 1.6-.6 1.6 .5 1.6 1 1.2-.8 0 12.4"/></defs>
<use href="#tr8" fill="url(#gb)" clip-path="url(#gbc)"/>
<use href="#tr8" fill="none" stroke="#7570b3" stroke-width="2.0" stroke-linejoin="round"/>
<defs><path id="tr9" d="M250.4 1779.5l0-4.7 1.6 .7 1.6-.5 1.6-.8 1.6 1.2 1.6-.4 1.6 .5 1.6-.5 1.6 .2 1.6 .2 1.6-1 1.6-.5 1.6 1.7 1.6-1.7 1.6 1 1.6 .9 1.6-1.4 1.6-.2 1.6 .2 1.6-.4 1.6 1.2 1.6-1 1.6-.5 1.6 1.2 1.6-.8 1.6-.1 1.6-.4 1.6 1.8 1.6-1 1.6 .5 1.6-.3 1.6 .8 1.6-1.7 1.6 1.2 1.6 .4 1.6-1.2 1.6 .4 1.6-.3 1.6 0 1.6 1.4 1.6-1.6 1.6 1.1 1.6-1.5 1.6 1.6 1.6-1.6 1.6 1.6 1.6-1.6 1.6 .3 1.6 .1 1.6 .1 1.6 1 1.6-.6 1.6-1 1.6 .3 1.6 .5 1.6 .7 1.6-.2 1.6-.3 1.6 .7 1.6 .3 1.6 0 1.6 .1 1.6-.2 1.6 .1 1.6-.6 1.6 0 1.6-.3 1.6-.4 1.6 1 1.6-1 1.6 1.1 1.6-1 1.6-.9 1.6 1.8 1.6-.8 1.6-1.1 1.6 1.8 1.6-.1 1.6 .2 1.6-.9 1.6-.7 1.6 .1 1.6 .7 1.6 .3 1.6-.2 1.6-.7 1.6-.2 1.6 1.8 1.6 0 1.6-.1 1.6-.9 1.6-1 1.6 .3 1.6 .7 1.6 .7 1.6-.4 1.6-1.3 1.6 1.8 1.6-.6 1.6-.5 1.6 .8 1.6-.8 1.6 .2 1.6-1.1 1.6 .1 1.6 1.9 1.6-1.1 1.6 .8 1.6-1 1.6 .1 1.6-.6 1.6 1.7 1.6-1.4 1.6 1.1 1.6-1.7 1.6-.6 1.6-1.5 1.6 .4 1.6-.5 1.6-1.6 1.6-1.3 1.6-2.3 1.6 .2 1.6-3.3 1.6-1.1 1.6-.7 1.6-1.3 1.6-2.3 1.6-.9 1.6-2.6 1.6-1.8 1.6-.8 1.6-1 1.6 .2 1.6-1.4 1.6 .5 1.6-.9 1.6 0 1.6-1.1 1.6-1.2 1.6 .7 1.6 .4 1.6-.7 1.6 0 1.6 .6 1.6 .7 1.6-.8 1.6 1 1.6-.1 1.6 2.2 1.6-.7 1.6 .7 1.6-.6 1.6 1.1 1.6 1.3 1.6-.4 1.6 .1 1.6-1.7 1.6 1.4 1.6-.2 1.6-1 1.6-.2 1.6 1.2 1.6-1.4 1.6-.2 1.6 .1 1.6-1.2 1.6-1.2 1.6-1 1.6-.4 1.6-1.1 1.6-1.8 1.6-.1 1.6-1.9 1.6 .3 1.6 .5 1.6-.6 1.6 1.4 1.6 .2 1.6-.2 1.6 .6 1.6 .4 1.6 .7 1.6 .4 1.6 .1 1.6 .5 1.6 1.6 1.6-1.3 1.6 2.3 1.6-1.2 1.6 .6 1.6 1 1.6 1.7 1.6-1.3 1.6 0 1.6 2 1.6-.2 1.6-.4 1.6 2 1.6-.2 1.6 .5 1.6-.8 1.6 1.5 1.6-.9 1.6 .7 1.6 1 1.6 1.2 1.6 .2 1.6-1.3 1.6 1.8 1.6 .1 1.6-1.9 1.6-.2 1.6 .2 1.6 1.6 1.6-1.7 1.6 .4 1.6 .2 1.6-.7 1.6-.2 1.6 .6 1.6 .7 1.6-1.2 1.6-.3 1.6 1.1 1.6 1.2 1.6 0 1.6-1.6 1.6 1.5 1.6 .3 1.6-.2 1.6-1.8 1.6 0 1.6 .9 1.6 1 1.6-.1 1.6-1.4 1.6 1.4 1.6-.3 1.6-.9 1.6-.6 1.6-.1 1.6 .4 1.6-.6 1.6 .9 1.6 .2 1.6 .7 1.6-2 1.6 0 1.6 1.1 1.6-1 1.6-.1 1.6 .9 1.6 .2 1.6 .2 1.6-1 1.6-.5 1.6-1.2 1.6 .7 1.6-1.1 1.6-2.4 1.6 .2 1.6-2.1 1.6-.1 1.6-.1 1.6-.7 1.6-1.8 1.6-.4 1.6-1.7 1.6 0 1.6-2.5 1.6-1.5 1.6 .1 1.6 .2 1.6-1.8 1.6-.8 1.6-.8 1.6-1.1 1.6-.9 1.6-1.8 1.6-1 1.6 .2 1.6-2.1 1.6-.2 1.6-1.5 1.6 .1 1.6-1.2 1.6 .2 1.6-2.1 1.6-1.1 1.6-1.2 1.6-.8 1.6-.2 1.6 .4 1.6-.4 1.6-2.7 1.6 .9 1.6-2.6 1.6 .7 1.6-1.6 1.6-1.5 1.6-.3 1.6 .5 1.6-1.2 1.6-1.1 1.6-.5 1.6-.5 1.6-1.6 1.6 0 1.6-.9 1.6-1.1 1.6-1.2 1.6 0 1.6-2.6 1.6-.3 1.6 .2 1.6-1 1.6-1.4 1.6-1.4 1.6 .8 1.6-1.3 1.6 1.3 1.6-.3 1.6-1.5 1.6 .5 1.6 1.1 1.6-1 1.6 .4 1.6-.3 1.6-.8 1.6 .6 1.6-.3 1.6 .5 1.6 0 1.6-1.2 1.6-.5 1.6 .8 1.6-1.2 1.6 1.5 1.6-.8 1.6-.9 1.6 .8 1.6-1.1 1.6 .7 1.6-.6 1.6 .5 1.6 .5 1.6 .2 1.6-1.2 1.6 .1 1.6 3 1.6 3.1 1.6 2.9 1.6 2 1.6 2.5 1.6 1 1.6 1.3 1.6 3.2 1.6 1.5 1.6 1.2 1.6 1.6 1.6 1.4 1.6 .9 1.6 1.8 1.6 1.7 1.6 .7 1.6 1 1.6 1.4 1.6 .8 1.6 .2 1.6 2.1 1.6-.3 1.6 2.8 1.6 .3 1.6-1 1.6 1.6 1.6 .2 1.6 .7 1.6 .3 1.6 1.1 1.6-.2 1.6 1.3 1.6 .7 1.6-1.4 1.6 .1 1.6 .3 1.6 .3 1.6 1.5 1.6-.2 1.6-.8 1.6 .9 1.6 .3 1.6 .8 1.6 .1 1.6-1.1 1.6 .1 1.6-.8 1.6 1.6 1.6-1.1 1.6 .3 1.6-1.3 1.6 .8 1.6 .2 1.6 1.3 1.6-.7 1.6 1.9 1.6 .6 1.6-.5 1.6 1.5 1.6 1.1 1.6 2 1.6 .9 1.6 .6 1.6 .4 1.6 1.4 1.6 1.3 1.6 0 1.6 1.4 1.6-.8 1.6 .8 1.6 1.2 1.6 1.5 1.6-.7 1.6 2.5 1.6 .3 1.6-.9 1.6 .5 1.6 .6 1.6 2.5 1.6 .2 1.6-.4 1.6 .7 1.6-.3 1.6 .7 1.6 1 1.6 .3 1.6-.9 1.6 1.6 1.6 .3 1.6-1.5 1.6 1.1 1.6-.4 1.6 1.4 1.6-.9 1.6 1.1 1.6-.4 1.6 .7 1.6 .2 1.6 0 1.6 1 1.6-.9 1.6 .1 1.6 .8 1.6-.8 1.6-.8 1.6 .3 1.6 .7 1.6-.8 1.6 1.4 1.6-.4 1.6-1.2 1.6 2 1.6 .3 1.6-1.9 1.6 1.8 1.6-.3 1.6 .3 1.6-.2 1.6 .1 1.6 .3 1.6-.2 1.6-.9 1.6 1.1 1.6-1.1 1.6 1.5 1.6-1.9 1.6 0 1.6 0 1.6 .1 1.6 .4 1.6 .3 1.6-1.2 1.6 .8 1.6 .2 1.6 .7 1.6-1.1 1.6 .7 1.6-1.3 1.6-.3 1.6 0 1.6-.5 1.6 1.5 1.6-.4 1.6-1.1 1.6-1.5 1.6 1.8 1.6-.5 1.6-.5 1.6-.9 1.6 .5 1.6-2 1.6 .9 1.6-.6 1.6 .3 1.6-.8 1.6 1.7 1.6-.5 1.6 0 1.6-.2 1.6-1.9 1.6 .3 1.6 1.4 1.6-.5 1.6 .9 1.6-2 1.6 0 1.6 1.4 1.6-.8 1.6 1.7 1.6 .1 1.6-1.1 1.6 1.4 1.6-1.4 1.6 1.2 1.6-1.1 1.6 .5 1.6 .9 1.6 .6 1.6-1.6 1.6-.1 1.6 0 1.6 1.2 1.6-.5 1.6 .6 1.6 1 1.6-.6 1.6 1.2 1.6-.1 1.6-1.1 1.6 1.2 1.6-.9 1.6 .6 1.6-.7 1.6 1.5 1.6-.6 1.6 .2 1.6 .9 1.6-1.6 1.6 0 1.6 .6 1.6 1.3 1.6 .1 1.6-1.4 1.6 1 1.6 .3 1.6-.9 1.6-.2 1.6 .7 1.6-1.4 1.6 1.1 1.6 .2 1.6 .3 1.6-.8 1.6-.7 1.6 1.1 1.6 .1 1.6-1.7 1.6 .8 1.6-.7 1.6-.5 1.6-.3 1.6 1.7 1.6-1.8 1.6 0 1.6 .2 1.6 .6 1.6-.2 1.6-.9 1.6 1.4 1.6-1 1.6-.6 1.6 1.6 1.6-1.5 1.6 .8 1.6-.9 1.6 .9 1.6-1.2 1.6 .9 1.6 .1 1.6 .6 1.6-1.4 1.6 .5 1.6-.4 1.6 .1 1.6 .4 1.6 1.8 1.6-.9 1.6-.2 1.6 .5 1.6 .1 1.6 1.2 1.6-1.2 1.6 1.1 1.6 .1 1.6 .4 1.6 .7 1.6 .1 1.4-.5 0 13"/></defs>
<use href="#tr9" fill="url(#gb)" clip-path="url(#gbc)"/>
<use href="#tr9" fill="none" stroke="#e7298a" stroke-width="2.0" stroke-linejoin="round"/>
<defs><path id="tr10" d="M188.7 1858.4l0-5.9 1.6-.9 1.6 1.1 1.6-1 1.6 .7 1.6-.3 1.6 .8 1.6-1.2 1.6 1.8 1.6-2 1.6 0 1.6 1.3 1.6 .7 1.6-.3 1.6-.1 1.6-1.5 1.6 .1 1.6 .2 1.6-.1 1.6-.2 1.6 .3 1.6 .2 1.6-.2 1.6 1.1 1.6 0 1.6-1.5 1.6 .8 1.6 .5 1.6-1.5 1.6 1.9 1.6-.8 1.6-.3 1.6-.1 1.6 1.1 1.6-.8 1.6-.2 1.6 1.1 1.6-1.7 1.6 .6 1.6 1 1.6-.2 1.6-.1 1.6 .1 1.6-1.5 1.6 1.1 1.6-.3 1.6 1 1.6 0 1.6-1.3 1.6 .9 1.6-1 1.6 .1 1.6 .7 1.6 .3 1.6-.2 1.6-1.3 1.6-.3 1.6 1.9 1.6-.9 1.6 .1 1.6 .3 1.6 .5 1.6-.5 1.6-.2 1.6-.4 1.6 .5 1.6 .1 1.6-.4 1.6 .9 1.6-1.3 1.6 1.1 1.6 .2 1.6-.6 1.6-.7 1.6 .3 1.6-.4 1.6 1 1.6-.1 1.6-1.3 1.6 .4 1.6 .8 1.6-1.3 1.6 1.3 1.6-.4 1.6-.9 1.6 .4 1.6 1.2 1.6-1.8 1.6 .8 1.6 1.2 1.6-1.6 1.6 1.1 1.6-.8 1.6 1.1 1.6 0 1.6-.4 1.6-1.2 1.6 1.6 1.6-1.3 1.6 1 1.6-.3 1.6-.2 1.6-.5 1.6 .9 1.6 .4 1.6-.2 1.6-.1 1.6-1.3 1.6 0 1.6 1.1 1.6-.7 1.6 1 1.6-.9 1.6 .5 1.6-2.9 1.6 1.2 1.6-2.2 1.6 .2 1.6-1.2 1.6-.7 1.6-1.9 1.6-1.7 1.6-2.1 1.6-3.5 1.6-1.6 1.6-2.8 1.6-1.9 1.6-2.4 1.6-1.8 1.6-3.3 1.6-1.6 1.6-.6 1.6-2.6 1.6 0 1.6-1.7 1.6-1.1 1.6-1.6 1.6-.1 1.6-2.4 1.6 0 1.6-.1 1.6 1.2 1.6-.4 1.6 1.5 1.6 .4 1.6-.4 1.6 .3 1.6 1.1 1.6 1.6 1.6-.6 1.6 .7 1.6-.5 1.6 1.6 1.6-1 1.6 2.5 1.6-.3 1.6 .1 1.6 1.6 1.6-1.6 1.6-.6 1.6-.1 1.6-.9 1.6-2.9 1.6-2.1 1.6-.8 1.6-2.3 1.6-.9 1.6-1.9 1.6-2.4 1.6-3.1 1.6-1.7 1.6-3 1.6-3.5 1.6 .5 1.6-3 1.6 .2 1.6-1.7 1.6 .6 1.6 .4 1.6 .7 1.6 1.1 1.6-.3 1.6 1.4 1.6 2.1 1.6 0 1.6 .8 1.6 1.9 1.6 1.1 1.6 1.4 1.6 1.5 1.6 1.2 1.6 1.7 1.6 2.7 1.6 1 1.6 1.9 1.6-.9 1.6 1.7 1.6-.3 1.6 .8 1.6 1.8 1.6 .8 1.6 .5 1.6 .2 1.6 .1 1.6 1.9 1.6-.3 1.6-1 1.6 2.2 1.6-1.5 1.6 .2 1.6 1.1 1.6 1.4 1.6-1.7 1.6-.6 1.6 .6 1.6-.5 1.6 .2 1.6-1.5 1.6-.6 1.6-.1 1.6-1.4 1.6 0 1.6 .7 1.6-1.5 1.6 1 1.6-1.5 1.6-.7 1.6-.1 1.6-.5 1.6 0 1.6 .3 1.6 .2 1.6-1.7 1.6-.5 1.6 .2 1.6-1.5 1.6-.6 1.6 .4 1.6-1.9 1.6 1.2 1.6-2.2 1.6-.3 1.6 .1 1.6-1.3 1.6-.7 1.6 1 1.6-2 1.6-.9 1.6-.2 1.6-1.6 1.6-1.1 1.6-1 1.6-.5 1.6-1.3 1.6-2.8 1.6-1.1 1.6-3 1.6-2.6 1.6-3.1 1.6-2.9 1.6-5.3 1.6-2 1.6-3.7 1.6-3.7 1.6-4.3 1.6-4.3 1.6-1 1.6-4.9 1.6-1 1.6-2.6 1.6-3.1 1.6-1.2 1.6-2.3 1.6-2.2 1.6-1.2 1.6-1.8 1.6-.6 1.6-2.1 1.6-1.6 1.6-.4 1.6-1.7 1.6-2.5 1.6-.6 1.6-1.7 1.6-2.3 1.6-2 1.6-1.3 1.6-2.4 1.6-3.4 1.6-1.3 1.6-3.2 1.6-4.2 1.6-1.5 1.6-2.9 1.6-4.2 1.6-5.2 1.6-7.5 1.6-4.8 1.6-7 1.6-6.4 1.6-5.9 1.6-5.2 1.6-5.5 1.6-3.8 1.6-2.5 1.6-2.6 1.6-3.9 1.6-2.5 1.6-3.2 1.6-3 1.6 .6 1.6-.7 1.6 .8 1.6 2 1.6 4.2 1.6 3.1 1.6-.8 1.6-2.2 1.6 2.8 1.6 4.2 1.6 5.7 1.6-1.7 1.6-1.1 1.6-2.5 1.6-4.6 1.6-4.1 1.6-4.7 1.6-7.3 1.6-13.4 1.6-11.4 1.6-11.6 1.6-11.8 1.6-13.8 1.6-16.5 1.6-15.6 1.6-15.6 1.6-15.7 1.6-18.5 1.6-15.9 1.6-8.6 1.6-9.6 1.6-9.3 1.6-5.3 1.6-3.6 1.6 1.8 1.6-2.8 1.6-2.2 1.6 3 1.6 4.9 1.6 5.3 1.6 8.7 1.6 5.8 1.6 8.9 1.6 6.8 1.6 9.2 1.6 7.4 1.6 6.9 1.6 6.4 1.6 7.9 1.6 6.2 1.6 6.4 1.6 5.1 1.6 5 1.6 3.8 1.6 6.1 1.6 4.4 1.6 4.9 1.6 4.6 1.6 3.8 1.6 3.8 1.6 4.1 1.6 3.4 1.6 2.2 1.6 6 1.6 5.9 1.6 7.3 1.6 4.6 1.6 8.8 1.6 6.5 1.6 7.8 1.6 8.9 1.6 8.1 1.6 7.3 1.6 8 1.6 8.5 1.6 16.5 1.6 16.9 1.6 12.4 1.6 6.8 1.6 9.6 1.6 5 1.6 6.7 1.6 5.8 1.6 6 1.6 2.9 1.6 .3 1.6 2.8 1.6 1.1 1.6 1.7 1.6 .7 1.6 1.7 1.6 2.1 1.6 1.1 1.6 1.1 1.6 1 1.6 2.1 1.6 .7 1.6 2.6 1.6 2.3 1.6 2.4 1.6 .7 1.6 2.1 1.6 2.1 1.6 4.1 1.6 1 1.6 3.1 1.6 3.1 1.6 1.1 1.6 2.5 1.6 2.2 1.6 2.5 1.6 1.5 1.6 3.1 1.6 .5 1.6 3 1.6 .5 1.6 2.1 1.6 1.3 1.6 2.4 1.6 .4 1.6 2.7 1.6 .6 1.6 3.3 1.6 1.9 1.6 .5 1.6 2.7 1.6 1.4 1.6 2 1.6 .2 1.6 1.1 1.6 1.4 1.6 .1 1.6 1 1.6 1.7 1.6 1.3 1.6 .1 1.6 1 1.6 .2 1.6 .1 1.6 2.1 1.6-.1 1.6 1.3 1.6-.9 1.6 .7 1.6 .1 1.6-.4 1.6 .7 1.6 .6 1.6 .5 1.6-.2 1.6 .2 1.6 1 1.6 0 1.6 .5 1.6-.1 1.6 1.2 1.6-.8 1.6 .2 1.6 1.2 1.6-1.1 1.6-.3 1.6 .6 1.6-.1 1.6 .2 1.6-.6 1.6 1.1 1.6 1 1.6-1.4 1.6 1.6 1.6-.7 1.6-.7 1.6 .8 1.6 .8 1.6-1.4 1.6 1.2 1.6-.7 1.6-.8 1.6 1.8 1.6 .1 1.6-1.6 1.6-.1 1.6 1.7 1.6-1 1.6 1 1.6-.3 1.6 .3 1.6-.1 1.6-.6 1.6 .6 1.6-.3 1.6-1 1.6 1.9 1.6-.4 1.6 .2 1.6-1.2 1.6 0 1.6 .5 1.6 1.1 1.6 .7 1.6 .1 1.6 0 1.6-1.5 1.6 .3 1.6 1.3 1.6 .3 1.6-.7 1.6-.2 1.6 .3 1.6 .5 1.6-.7 1.6 .3 1.6 1.1 1.6-.8 1.6 .2 1.6 .2 1.6-.7 1.6 .5 1.6-1.7 1.6 1 1.6 .5 1.6-.3 1.6 0 1.6-1.5 1.6 .4 1.6-.8 1.6 1.5 1.6 0 1.6 0 1.6-1.1 1.6 .2 1.6 .7 1.6-.2 1.6-.2 1.6-1.5 1.6 1 1.6 .6 1.6-1.4 1.6 .5 1.6 .6 1.6 .4 1.6-.1 1.6-.1 1.6-.5 1.6-.4 1.6-.1 1.6 .4 1.6 .6 1.6-1.4 1.6 1.2 1.6-.3 1.6-1.1 1.6 2.2 1.6-1.3 1.6 .7 1.6-1 1.6 .6 1.6 0 1.6-1.1 1.6 .8 1.6-.5 1.6-.2 1.6 .3 1.6-.7 1.6-.1 1.6 1.6 1.6-.4 1.6 0 1.6-.1 1.6-.3 1.6-.4 1.6-.6 1.6 .8 1.6-1.3 1.6 .8 1.6 .4 1.6-1.3 1.6-.1 1.6 .4 1.6 .4 1.6 .1 1.6-.5 1.6 1.3 1.6-1.1 1.6 1.3 1.6-.8 1.6 .3 1.6 .7 1.6 .8 1.6-.1 1.6 .2 1.6-.3 1.6-.6 1.6 .8 1.6-.4 1.6 1 1.6 1.1 1.6-.4 .4-.2 0 19.6"/></defs>
<use href="#tr10" fill="url(#gb)" clip-path="url(#gbc)"/>
<use href="#tr10" fill="none" stroke="#66a61e" stroke-width="2.0" stroke-linejoin="round"/>
<polyline points="156.60,1896.60 156.60,1457.10 467.30,1062.90 1440.30,1062.90 1440.30,1502.40" fill="none" stroke="#000" stroke-width="2.2" stroke-linejoin="round"/>
<polyline points="156.60,1896.60 1129.60,1896.60 1440.30,1502.40" fill="none" stroke="#000" stroke-width="2.2" stroke-linejoin="round"/>
<text x="158.5" y="444.3" text-anchor="end" style="font-family:'Liberation Serif','Times New Roman',serif;font-weight:bold;font-size:38px">1.23×10</text>
<text x="158.3" y="429.8" style="font-family:'Liberation Serif','Times New Roman',serif;font-weight:bold;font-size:25.5px">8</text>
<text x="158.5" y="531.4" text-anchor="end" style="font-family:'Liberation Serif','Times New Roman',serif;font-weight:bold;font-size:38px">9.85×10</text>
<text x="157.6" y="515.8" style="font-family:'Liberation Serif','Times New Roman',serif;font-weight:bold;font-size:25.5px">7</text>
<text x="154.8" y="623.5" text-anchor="end" style="font-family:'Liberation Serif','Times New Roman',serif;font-weight:bold;font-size:38px">7.39×10</text>
<text x="154.5" y="607.7" style="font-family:'Liberation Serif','Times New Roman',serif;font-weight:bold;font-size:25.5px">7</text>
<text x="153.8" y="713.5" text-anchor="end" style="font-family:'Liberation Serif','Times New Roman',serif;font-weight:bold;font-size:38px">4.93×10</text>
<text x="152.9" y="699.0" style="font-family:'Liberation Serif','Times New Roman',serif;font-weight:bold;font-size:25.5px">7</text>
<text x="152.7" y="796.9" text-anchor="end" style="font-family:'Liberation Serif','Times New Roman',serif;font-weight:bold;font-size:38px">2.46×10</text>
<text x="152.4" y="781.3" style="font-family:'Liberation Serif','Times New Roman',serif;font-weight:bold;font-size:25.5px">7</text>
<text x="171.8" y="886.5" text-anchor="middle" style="font-family:'Liberation Serif','Times New Roman',serif;font-weight:bold;font-size:28.5px">0</text>
<text x="412.7" y="886.5" text-anchor="middle" style="font-family:'Liberation Serif','Times New Roman',serif;font-weight:bold;font-size:28.5px">10</text>
<text x="653.6" y="886.5" text-anchor="middle" style="font-family:'Liberation Serif','Times New Roman',serif;font-weight:bold;font-size:28.5px">20</text>
<text x="894.6" y="886.5" text-anchor="middle" style="font-family:'Liberation Serif','Times New Roman',serif;font-weight:bold;font-size:28.5px">30</text>
<text x="1135.5" y="886.5" text-anchor="middle" style="font-family:'Liberation Serif','Times New Roman',serif;font-weight:bold;font-size:28.5px">40</text>
<text x="537.9" y="931" style="font-family:'Liberation Serif','Times New Roman',serif;font-weight:bold;font-size:27.3px">Retention time(min)</text>
<text x="137.1" y="1564.8" text-anchor="end" textLength="114.0" lengthAdjust="spacingAndGlyphs" style="font-family:'Liberation Serif','Times New Roman',serif;font-weight:bold;font-size:29.5px">2,000,000</text>
<text x="137.1" y="1652.7" text-anchor="end" textLength="114.0" lengthAdjust="spacingAndGlyphs" style="font-family:'Liberation Serif','Times New Roman',serif;font-weight:bold;font-size:29.5px">1,500,000</text>
<text x="137.1" y="1740.7" text-anchor="end" textLength="114.0" lengthAdjust="spacingAndGlyphs" style="font-family:'Liberation Serif','Times New Roman',serif;font-weight:bold;font-size:29.5px">1,000,000</text>
<text x="137.1" y="1829.2" text-anchor="end" textLength="92.6" lengthAdjust="spacingAndGlyphs" style="font-family:'Liberation Serif','Times New Roman',serif;font-weight:bold;font-size:29.5px">500,000</text>
<text x="148.2" y="1948.7" text-anchor="middle" style="font-family:'Liberation Serif','Times New Roman',serif;font-weight:bold;font-size:28.5px">1.2</text>
<text x="342.5" y="1948.7" text-anchor="middle" style="font-family:'Liberation Serif','Times New Roman',serif;font-weight:bold;font-size:28.5px">1.4</text>
<text x="536.8" y="1948.7" text-anchor="middle" style="font-family:'Liberation Serif','Times New Roman',serif;font-weight:bold;font-size:28.5px">1.6</text>
<text x="731.2" y="1948.7" text-anchor="middle" style="font-family:'Liberation Serif','Times New Roman',serif;font-weight:bold;font-size:28.5px">1.8</text>
<text x="925.5" y="1948.7" text-anchor="middle" style="font-family:'Liberation Serif','Times New Roman',serif;font-weight:bold;font-size:28.5px">2.0</text>
<text x="1119.8" y="1948.7" text-anchor="middle" style="font-family:'Liberation Serif','Times New Roman',serif;font-weight:bold;font-size:28.5px">2.2</text>
<text x="546.4" y="1999.9" style="font-family:'Liberation Serif','Times New Roman',serif;font-weight:bold;font-size:28px">Retention time(min)</text>
<text transform="translate(1188.4,820.5) skewX(-15) scale(1.39,1)" x="0" y="0" style="font-family:'Liberation Serif','Times New Roman',serif;font-weight:bold;font-style:italic;font-size:21.5px">Control</text>
<text transform="translate(1249.0,741.3) skewX(-15) scale(1.39,1)" x="0" y="0" style="font-family:'Liberation Serif','Times New Roman',serif;font-weight:bold;font-style:italic;font-size:21.5px">15kV</text>
<text transform="translate(1310.3,663.4) skewX(-15) scale(1.39,1)" x="0" y="0" style="font-family:'Liberation Serif','Times New Roman',serif;font-weight:bold;font-style:italic;font-size:21.5px">20kV</text>
<text transform="translate(1371.7,585.9) skewX(-15) scale(1.39,1)" x="0" y="0" style="font-family:'Liberation Serif','Times New Roman',serif;font-weight:bold;font-style:italic;font-size:21.5px">25kV</text>
<text transform="translate(1433.9,508.0) skewX(-15) scale(1.39,1)" x="0" y="0" style="font-family:'Liberation Serif','Times New Roman',serif;font-weight:bold;font-style:italic;font-size:21.5px">30kV</text>
<text transform="translate(1180.8,1870.1) skewX(-15) scale(1.39,1)" x="0" y="0" style="font-family:'Liberation Serif','Times New Roman',serif;font-weight:bold;font-style:italic;font-size:21.5px">Control</text>
<text transform="translate(1243.0,1791.6) skewX(-15) scale(1.39,1)" x="0" y="0" style="font-family:'Liberation Serif','Times New Roman',serif;font-weight:bold;font-style:italic;font-size:21.5px">15kV</text>
<text transform="translate(1303.6,1712.3) skewX(-15) scale(1.39,1)" x="0" y="0" style="font-family:'Liberation Serif','Times New Roman',serif;font-weight:bold;font-style:italic;font-size:21.5px">20kV</text>
<text transform="translate(1365.6,1633.8) skewX(-15) scale(1.39,1)" x="0" y="0" style="font-family:'Liberation Serif','Times New Roman',serif;font-weight:bold;font-style:italic;font-size:21.5px">25kV</text>
<text transform="translate(1429.1,1555.6) skewX(-15) scale(1.39,1)" x="0" y="0" style="font-family:'Liberation Serif','Times New Roman',serif;font-weight:bold;font-style:italic;font-size:21.5px">30kV</text>
<text x="757.6" y="2147.7" style="font-family:'Liberation Serif','Times New Roman',serif;font-size:52.5px;letter-spacing:-0.8px">(<tspan style="font-weight:bold">a</tspan>)</text>
</svg>
</body></html>
